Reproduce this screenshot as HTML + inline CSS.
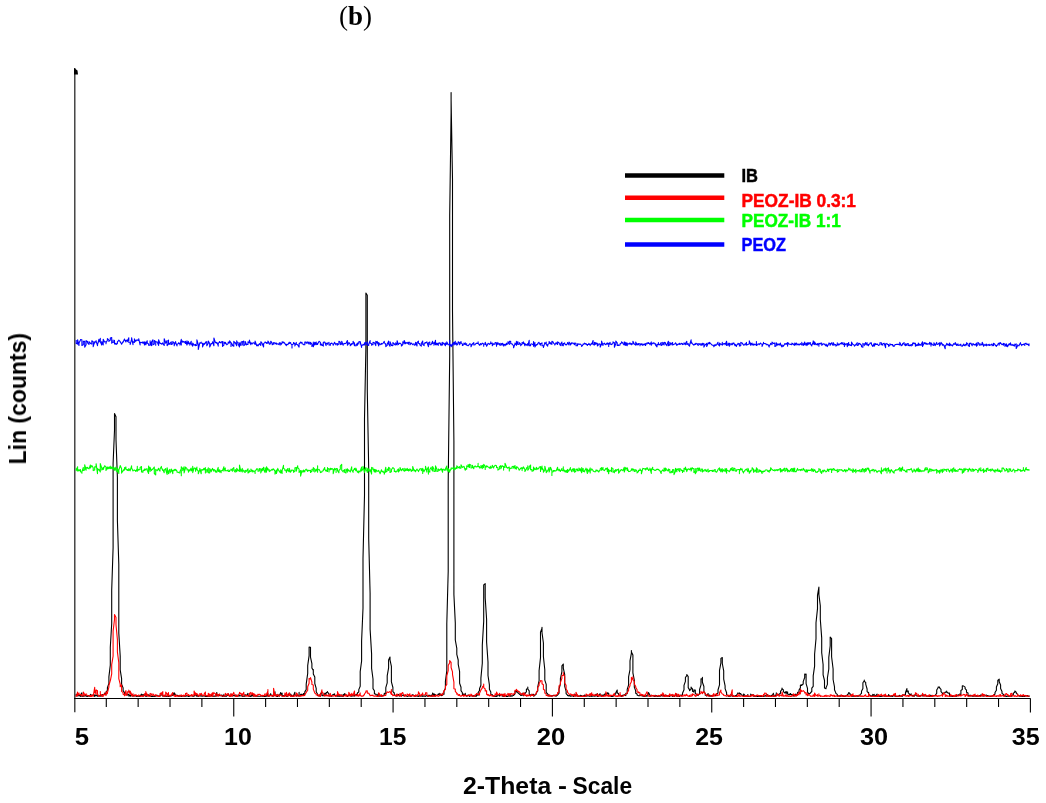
<!DOCTYPE html>
<html><head><meta charset="utf-8"><style>
html,body{margin:0;padding:0;background:#fff;}
body{width:1046px;height:803px;overflow:hidden;position:relative;}
svg{position:absolute;left:0;top:0;will-change:transform;}
</style></head><body>
<svg width="1046" height="803" viewBox="0 0 1046 803">
<rect width="1046" height="803" fill="#fff"/>
<text opacity="0.999" x="339" y="24.7" font-family="Liberation Serif, serif" font-size="27" fill="#000">(<tspan font-weight="bold">b</tspan>)</text>
<line x1="74.8" y1="68" x2="74.8" y2="712.3" stroke="#2a2a2a" stroke-width="1.3"/>
<g stroke="#000" stroke-width="1.1" fill="none">
<line x1="74" y1="698.45" x2="1030.6" y2="698.45"/>
<line x1="106.29" y1="698.5" x2="106.29" y2="707"/><line x1="138.15" y1="698.5" x2="138.15" y2="707"/><line x1="170.02" y1="698.5" x2="170.02" y2="707"/><line x1="201.88" y1="698.5" x2="201.88" y2="707"/><line x1="233.75" y1="698.5" x2="233.75" y2="716.5"/><line x1="265.62" y1="698.5" x2="265.62" y2="707"/><line x1="297.48" y1="698.5" x2="297.48" y2="707"/><line x1="329.35" y1="698.5" x2="329.35" y2="707"/><line x1="361.21" y1="698.5" x2="361.21" y2="707"/><line x1="393.08" y1="698.5" x2="393.08" y2="712.5"/><line x1="424.95" y1="698.5" x2="424.95" y2="707"/><line x1="456.81" y1="698.5" x2="456.81" y2="707"/><line x1="488.68" y1="698.5" x2="488.68" y2="707"/><line x1="520.54" y1="698.5" x2="520.54" y2="707"/><line x1="552.41" y1="698.5" x2="552.41" y2="716.5"/><line x1="584.28" y1="698.5" x2="584.28" y2="707"/><line x1="616.14" y1="698.5" x2="616.14" y2="707"/><line x1="648.01" y1="698.5" x2="648.01" y2="707"/><line x1="679.87" y1="698.5" x2="679.87" y2="707"/><line x1="711.74" y1="698.5" x2="711.74" y2="712.5"/><line x1="743.61" y1="698.5" x2="743.61" y2="707"/><line x1="775.47" y1="698.5" x2="775.47" y2="707"/><line x1="807.34" y1="698.5" x2="807.34" y2="707"/><line x1="839.20" y1="698.5" x2="839.20" y2="707"/><line x1="871.07" y1="698.5" x2="871.07" y2="716.5"/><line x1="902.94" y1="698.5" x2="902.94" y2="707"/><line x1="934.80" y1="698.5" x2="934.80" y2="707"/><line x1="966.67" y1="698.5" x2="966.67" y2="707"/><line x1="998.53" y1="698.5" x2="998.53" y2="707"/><line x1="1030.40" y1="698.5" x2="1030.40" y2="712.5"/>
</g>
<path d="M74,68 L77.5,70.5 L78,74.5 L74,74.5 Z" fill="#000"/>
<g fill="none" stroke-width="1.1" stroke-linejoin="round">
<polyline stroke="#000" points="76.2,696.4 76.2,696.4 76.2,694.3 76.2,694.4 77.6,695.6 77.6,695.6 77.6,695.9 77.6,695.9 79.0,695.4 79.0,695.4 79.0,695.2 79.0,695.2 80.5,696.4 80.5,696.4 80.5,694.8 80.5,694.8 81.9,692.9 81.9,692.9 81.9,696.4 81.9,696.4 83.3,695.6 83.3,695.6 83.3,696.3 83.3,696.3 84.7,695.9 84.7,695.9 84.7,695.8 84.7,695.8 86.1,695.3 86.1,695.3 86.1,696.3 86.1,696.3 87.6,696.4 87.6,696.4 87.6,696.0 87.6,696.0 89.0,695.6 89.0,695.6 89.0,696.3 89.0,696.3 90.4,696.0 90.4,696.0 90.4,694.4 90.4,694.4 91.8,695.5 91.8,695.5 91.8,695.9 91.8,695.9 93.2,695.0 93.2,695.0 93.2,694.6 93.2,694.6 94.7,696.4 94.7,696.4 94.7,694.9 94.7,696.0 96.1,695.0 96.1,695.0 96.1,695.8 96.1,695.8 97.5,695.6 97.5,695.6 97.5,696.2 97.5,696.2 98.9,696.0 98.9,696.0 98.9,695.4 98.9,695.4 100.3,696.2 100.3,696.2 100.3,695.2 100.3,695.9 101.8,696.0 101.8,696.0 101.8,694.8 101.8,694.8 103.2,694.5 103.2,694.5 103.2,695.0 103.2,695.0 104.6,694.4 104.6,694.4 104.6,693.0 104.6,693.0 106.0,694.6 106.0,694.6 106.0,692.4 106.0,692.4 107.4,690.4 107.4,690.4 107.4,687.7 107.4,687.7 108.9,683.4 108.9,683.4 108.9,676.9 108.9,676.9 110.3,665.1 110.3,665.1 110.3,647.4 110.3,647.4 111.7,623.7 111.7,623.7 111.7,590.3 111.7,590.3 113.1,547.7 113.1,547.7 113.1,463.4 113.1,463.4 114.5,430.2 114.5,430.2 114.5,413.5 114.5,413.5 116.0,416.8 116.0,416.8 116.0,439.8 116.0,439.8 117.4,477.6 117.4,477.6 117.4,520.4 117.4,520.4 118.8,564.2 118.8,564.2 118.8,633.0 118.8,633.0 120.2,656.0 120.2,656.0 120.2,669.9 120.2,669.9 121.6,678.6 121.6,678.6 121.6,684.2 121.6,684.2 123.1,687.9 123.1,687.9 123.1,690.6 123.1,690.6 124.5,692.6 124.5,692.6 124.5,694.1 124.5,693.3 125.9,693.4 125.9,693.4 125.9,693.8 125.9,693.8 127.3,695.2 127.3,695.2 127.3,694.4 127.3,694.4 128.8,694.2 128.8,694.2 128.8,696.0 128.8,696.0 130.2,694.9 130.2,694.9 130.2,696.2 130.2,696.2 131.6,695.3 131.6,695.3 131.6,695.6 131.6,695.6 133.0,696.2 133.0,696.2 133.0,696.0 133.0,696.0 134.4,695.0 134.4,695.0 134.4,696.0 134.4,696.0 135.8,695.5 135.8,695.5 135.8,696.1 135.8,696.1 137.3,696.5 137.3,696.5 137.3,695.9 137.3,695.9 138.7,696.2 138.7,696.2 138.7,696.2 138.7,696.2 140.1,696.4 140.1,696.4 140.1,696.1 140.1,696.1 141.5,694.2 141.5,694.2 141.5,695.6 141.5,695.6 143.0,694.5 143.0,694.5 143.0,696.2 143.0,694.7 144.4,694.9 144.4,694.9 144.4,695.8 144.4,695.8 145.8,693.5 145.8,693.5 145.8,696.4 145.8,696.4 147.2,696.0 147.2,696.0 147.2,695.2 147.2,695.2 148.6,695.6 148.6,695.6 148.6,694.8 148.6,694.8 150.1,695.8 150.1,695.8 150.1,696.1 150.1,696.1 151.5,696.1 151.5,696.1 151.5,696.4 151.5,696.4 152.9,696.3 152.9,696.3 152.9,696.4 152.9,696.4 154.3,695.9 154.3,695.9 154.3,696.5 154.3,696.5 155.7,696.0 155.7,696.0 155.7,696.3 155.7,696.3 157.2,695.3 157.2,695.3 157.2,695.6 157.2,695.6 158.6,696.0 158.6,696.0 158.6,696.0 158.6,696.0 160.0,695.9 160.0,695.9 160.0,695.7 160.0,695.7 161.4,694.3 161.4,694.3 161.4,695.0 161.4,695.0 162.8,694.8 162.8,694.8 162.8,696.3 162.8,695.7 164.2,696.0 164.2,696.0 164.2,696.3 164.2,696.3 165.7,695.9 165.7,695.9 165.7,696.2 165.7,696.2 167.1,696.4 167.1,696.4 167.1,696.3 167.1,696.3 168.5,696.2 168.5,694.7 168.5,696.4 168.5,696.4 169.9,696.3 169.9,696.3 169.9,695.4 169.9,695.4 171.3,695.9 171.3,695.9 171.3,695.8 171.3,695.8 172.8,695.5 172.8,695.5 172.8,693.0 172.8,693.0 174.2,695.1 174.2,695.1 174.2,692.7 174.2,692.7 175.6,694.8 175.6,694.8 175.6,695.6 175.6,695.6 177.0,695.4 177.0,695.4 177.0,695.2 177.0,695.2 178.5,695.5 178.5,695.5 178.5,696.2 178.5,696.2 179.9,696.3 179.9,696.3 179.9,695.3 179.9,695.3 181.3,696.4 181.3,695.9 181.3,696.4 181.3,696.4 182.7,696.0 182.7,696.0 182.7,695.9 182.7,695.9 184.1,695.7 184.1,695.7 184.1,696.2 184.1,696.2 185.5,696.1 185.5,696.1 185.5,696.3 185.5,696.3 187.0,695.5 187.0,695.5 187.0,696.1 187.0,695.6 188.4,696.0 188.4,696.0 188.4,696.5 188.4,696.5 189.8,696.1 189.8,696.1 189.8,695.6 189.8,695.6 191.2,695.8 191.2,695.8 191.2,695.8 191.2,695.8 192.7,695.9 192.7,695.9 192.7,696.3 192.7,696.0 194.1,696.2 194.1,696.2 194.1,695.9 194.1,695.9 195.5,695.2 195.5,695.2 195.5,695.4 195.5,695.4 196.9,694.8 196.9,694.8 196.9,696.4 196.9,696.4 198.3,695.3 198.3,695.3 198.3,696.5 198.3,696.5 199.8,695.4 199.8,695.4 199.8,695.5 199.8,695.5 201.2,696.2 201.2,696.2 201.2,696.1 201.2,696.1 202.6,695.5 202.6,695.5 202.6,696.3 202.6,696.3 204.0,695.5 204.0,695.5 204.0,696.0 204.0,696.0 205.4,696.2 205.4,695.6 205.4,696.4 205.4,696.4 206.8,696.2 206.8,696.2 206.8,696.4 206.8,696.4 208.3,696.2 208.3,696.2 208.3,696.0 208.3,696.0 209.7,696.1 209.7,696.1 209.7,696.3 209.7,696.3 211.1,695.7 211.1,696.1 211.1,694.8 211.1,694.8 212.5,695.7 212.5,695.7 212.5,696.2 212.5,696.2 213.9,696.0 213.9,696.0 213.9,696.1 213.9,696.1 215.4,696.3 215.4,696.3 215.4,696.3 215.4,696.3 216.8,692.5 216.8,692.5 216.8,696.2 216.8,696.2 218.2,694.7 218.2,694.7 218.2,695.5 218.2,694.9 219.6,695.3 219.6,695.3 219.6,695.8 219.6,695.8 221.1,695.8 221.1,695.8 221.1,694.8 221.1,694.8 222.5,696.5 222.5,696.5 222.5,695.2 222.5,695.2 223.9,696.2 223.9,694.4 223.9,696.3 223.9,696.3 225.3,696.0 225.3,696.0 225.3,696.1 225.3,696.1 226.7,696.2 226.7,696.2 226.7,695.8 226.7,695.8 228.2,695.1 228.2,695.1 228.2,693.8 228.2,693.8 229.6,696.1 229.6,696.1 229.6,696.2 229.6,696.2 231.0,696.0 231.0,696.0 231.0,694.0 231.0,694.0 232.4,696.0 232.4,696.0 232.4,695.8 232.4,695.8 233.8,695.6 233.8,695.6 233.8,695.8 233.8,695.8 235.2,695.4 235.2,695.4 235.2,696.0 235.2,696.0 236.7,695.7 236.7,695.0 236.7,696.1 236.7,696.1 238.1,696.2 238.1,696.2 238.1,696.0 238.1,696.0 239.5,695.0 239.5,695.0 239.5,696.0 239.5,696.0 240.9,695.8 240.9,695.8 240.9,695.5 240.9,695.5 242.3,695.9 242.3,695.9 242.3,696.5 242.3,696.5 243.8,695.9 243.8,695.9 243.8,695.9 243.8,695.9 245.2,696.1 245.2,696.1 245.2,694.8 245.2,694.8 246.6,695.6 246.6,695.6 246.6,695.8 246.6,695.8 248.0,693.4 248.0,693.4 248.0,695.5 248.0,695.5 249.4,696.2 249.4,696.0 249.4,696.3 249.4,696.3 250.9,696.4 250.9,696.4 250.9,695.6 250.9,695.6 252.3,696.0 252.3,696.0 252.3,693.7 252.3,693.7 253.7,696.2 253.7,696.2 253.7,696.0 253.7,696.0 255.1,695.8 255.1,695.6 255.1,696.1 255.1,696.1 256.6,695.7 256.6,695.7 256.6,696.3 256.6,696.3 258.0,696.3 258.0,696.3 258.0,696.2 258.0,696.2 259.4,696.2 259.4,696.2 259.4,696.3 259.4,696.3 260.8,696.1 260.8,696.3 260.8,695.8 260.8,695.8 262.2,695.9 262.2,695.9 262.2,696.3 262.2,696.3 263.6,695.8 263.6,695.8 263.6,696.4 263.6,696.4 265.1,696.3 265.1,696.3 265.1,696.4 265.1,696.4 266.5,695.7 266.5,695.7 266.5,696.2 266.5,696.2 267.9,693.6 267.9,693.6 267.9,696.1 267.9,696.1 269.3,696.0 269.3,696.0 269.3,696.2 269.3,696.2 270.7,693.7 270.7,693.7 270.7,694.7 270.7,694.7 272.2,695.8 272.2,695.8 272.2,696.4 272.2,696.4 273.6,694.3 273.6,694.3 273.6,696.2 273.6,696.2 275.0,691.8 275.0,691.8 275.0,695.2 275.0,695.2 276.4,694.9 276.4,694.9 276.4,696.4 276.4,696.4 277.8,696.4 277.8,696.4 277.8,694.7 277.8,694.7 279.3,696.2 279.3,696.2 279.3,695.1 279.3,696.1 280.7,692.5 280.7,692.5 280.7,694.7 280.7,694.7 282.1,693.1 282.1,693.1 282.1,696.3 282.1,696.3 283.5,695.6 283.5,695.6 283.5,695.8 283.5,695.8 284.9,696.3 284.9,696.3 284.9,694.7 284.9,694.7 286.4,695.7 286.4,695.7 286.4,696.3 286.4,696.3 287.8,696.4 287.8,696.4 287.8,695.8 287.8,695.8 289.2,693.3 289.2,693.3 289.2,695.2 289.2,695.2 290.6,695.7 290.6,695.7 290.6,694.0 290.6,694.0 292.0,696.2 292.0,696.4 292.0,695.7 292.0,695.7 293.5,695.9 293.5,695.9 293.5,695.7 293.5,695.7 294.9,692.3 294.9,692.3 294.9,694.9 294.9,694.9 296.3,695.6 296.3,695.6 296.3,696.2 296.3,696.2 297.7,694.9 297.7,694.9 297.7,695.8 297.7,695.8 299.1,695.9 299.1,692.2 299.1,696.1 299.1,696.1 300.6,695.6 300.6,695.6 300.6,694.3 300.6,694.3 302.0,694.4 302.0,694.4 302.0,694.9 302.0,694.9 303.4,694.9 303.4,694.9 303.4,693.5 303.4,693.5 304.8,694.7 304.8,694.7 304.8,691.9 304.8,691.9 306.2,689.6 306.2,689.6 306.2,684.2 306.2,684.2 307.7,673.4 307.7,673.4 307.7,665.7 307.7,665.7 309.1,655.7 309.1,655.7 309.1,647.1 309.1,647.1 310.5,647.3 310.5,647.3 310.5,657.2 310.5,657.2 311.9,663.7 311.9,663.7 311.9,668.0 311.9,668.0 313.3,670.4 313.3,669.5 313.3,674.1 313.3,674.1 314.8,677.0 314.8,677.0 314.8,683.5 314.8,683.5 316.2,688.3 316.2,688.3 316.2,691.8 316.2,691.8 317.6,694.2 317.6,694.2 317.6,695.6 317.6,695.6 319.0,695.3 319.0,695.3 319.0,695.7 319.0,695.7 320.4,696.3 320.4,696.3 320.4,693.9 320.4,693.9 321.9,692.1 321.9,692.1 321.9,695.6 321.9,695.6 323.3,695.4 323.3,695.4 323.3,695.7 323.3,695.7 324.7,695.7 324.7,695.7 324.7,693.3 324.7,693.3 326.1,694.2 326.1,694.2 326.1,692.8 326.1,692.8 327.5,692.1 327.5,691.5 327.5,692.2 327.5,692.2 329.0,693.9 329.0,693.9 329.0,696.0 329.0,696.0 330.4,695.9 330.4,695.9 330.4,694.9 330.4,694.9 331.8,696.4 331.8,696.4 331.8,695.6 331.8,695.6 333.2,694.4 333.2,694.4 333.2,694.9 333.2,694.9 334.6,693.9 334.6,693.9 334.6,695.1 334.6,695.1 336.1,696.2 336.1,696.2 336.1,695.6 336.1,696.0 337.5,695.0 337.5,695.0 337.5,696.3 337.5,696.3 338.9,694.5 338.9,694.5 338.9,696.5 338.9,696.5 340.3,695.0 340.3,695.0 340.3,696.3 340.3,696.3 341.7,695.3 341.7,695.0 341.7,696.3 341.7,696.3 343.2,696.4 343.2,696.4 343.2,694.4 343.2,694.4 344.6,695.5 344.6,695.5 344.6,693.6 344.6,693.6 346.0,694.7 346.0,694.7 346.0,694.9 346.0,694.9 347.4,696.2 347.4,696.2 347.4,696.4 347.4,696.4 348.8,695.1 348.8,695.1 348.8,694.9 348.8,694.9 350.3,695.9 350.3,695.9 350.3,695.6 350.3,695.6 351.7,696.2 351.7,696.2 351.7,694.8 351.7,694.8 353.1,696.1 353.1,696.1 353.1,695.4 353.1,695.4 354.5,694.4 354.5,694.4 354.5,696.1 354.5,696.1 355.9,695.0 355.9,695.0 355.9,694.3 355.9,694.3 357.4,694.6 357.4,694.6 357.4,693.0 357.4,693.0 358.8,691.8 358.8,691.8 358.8,689.6 358.8,689.6 360.2,686.3 360.2,686.3 360.2,671.6 360.2,671.6 361.6,661.0 361.6,661.0 361.6,640.9 361.6,640.9 363.0,608.3 363.0,608.3 363.0,558.6 363.0,558.6 364.5,495.2 364.5,495.2 364.5,418.9 364.5,418.9 365.9,347.4 365.9,347.4 365.9,293.0 365.9,293.0 367.3,295.3 367.3,295.3 367.3,391.1 367.3,391.1 368.7,468.5 368.7,468.5 368.7,538.5 368.7,538.5 370.1,593.0 370.1,593.0 370.1,629.1 370.1,629.1 371.6,654.1 371.6,654.1 371.6,668.4 371.6,668.4 373.0,679.0 373.0,679.0 373.0,688.6 373.0,688.6 374.4,690.7 374.4,690.7 374.4,693.7 374.4,693.7 375.8,694.1 375.8,694.1 375.8,694.4 375.8,694.4 377.2,694.9 377.2,694.9 377.2,695.7 377.2,695.7 378.7,693.4 378.7,693.4 378.7,696.3 378.7,695.8 380.1,696.3 380.1,696.3 380.1,695.9 380.1,695.9 381.5,696.0 381.5,696.0 381.5,696.0 381.5,696.0 382.9,695.9 382.9,695.9 382.9,695.2 382.9,695.2 384.3,695.2 384.3,695.2 384.3,693.3 384.3,693.3 385.8,693.8 385.8,693.8 385.8,687.7 385.8,687.7 387.2,682.8 387.2,682.8 387.2,675.8 387.2,675.8 388.6,667.8 388.6,667.8 388.6,660.1 388.6,660.1 390.0,657.0 390.0,657.0 390.0,659.9 390.0,659.9 391.4,666.4 391.4,666.4 391.4,681.9 391.4,681.9 392.9,687.5 392.9,687.5 392.9,691.7 392.9,691.7 394.3,693.0 394.3,693.0 394.3,694.8 394.3,694.8 395.7,695.5 395.7,695.5 395.7,695.7 395.7,695.7 397.1,696.1 397.1,696.1 397.1,695.0 397.1,695.0 398.5,694.4 398.5,694.4 398.5,695.2 398.5,695.2 400.0,696.2 400.0,696.2 400.0,694.7 400.0,694.7 401.4,695.8 401.4,695.8 401.4,695.1 401.4,695.1 402.8,695.3 402.8,695.3 402.8,695.6 402.8,695.6 404.2,695.1 404.2,695.1 404.2,696.1 404.2,696.1 405.6,695.6 405.6,695.6 405.6,695.4 405.6,695.4 407.1,696.3 407.1,696.3 407.1,696.5 407.1,696.5 408.5,696.0 408.5,696.0 408.5,695.6 408.5,695.6 409.9,695.8 409.9,695.8 409.9,696.3 409.9,696.3 411.3,696.3 411.3,696.3 411.3,696.0 411.3,696.0 412.7,695.2 412.7,695.2 412.7,694.6 412.7,694.6 414.2,695.8 414.2,695.8 414.2,696.4 414.2,696.4 415.6,695.5 415.6,695.5 415.6,696.2 415.6,696.0 417.0,695.9 417.0,695.9 417.0,695.9 417.0,695.9 418.4,696.5 418.4,696.5 418.4,696.3 418.4,696.3 419.8,695.3 419.8,695.3 419.8,696.0 419.8,696.0 421.3,696.1 421.3,696.1 421.3,695.1 421.3,695.1 422.7,696.1 422.7,695.8 422.7,696.5 422.7,696.5 424.1,695.8 424.1,695.8 424.1,696.0 424.1,696.0 425.5,696.4 425.5,696.4 425.5,696.1 425.5,696.1 426.9,695.5 426.9,695.5 426.9,696.0 426.9,696.0 428.4,696.4 428.4,696.4 428.4,695.4 428.4,695.4 429.8,695.3 429.8,695.3 429.8,695.5 429.8,695.5 431.2,696.3 431.2,696.3 431.2,695.0 431.2,695.0 432.6,696.1 432.6,696.1 432.6,693.1 432.6,693.1 434.0,696.2 434.0,696.2 434.0,693.7 434.0,693.7 435.5,695.9 435.5,694.6 435.5,696.1 435.5,696.1 436.9,695.2 436.9,695.2 436.9,695.4 436.9,695.4 438.3,694.5 438.3,694.5 438.3,693.9 438.3,693.9 439.7,695.4 439.7,695.4 439.7,693.2 439.7,693.2 441.1,695.5 441.1,694.9 441.1,695.6 441.1,695.6 442.6,695.2 442.6,695.2 442.6,693.8 442.6,693.8 444.0,694.3 444.0,694.3 444.0,691.0 444.0,691.0 445.4,688.3 445.4,688.3 445.4,681.4 445.4,681.4 446.8,670.9 446.8,670.9 446.8,623.8 446.8,623.8 448.2,571.4 448.2,571.4 448.2,482.1 448.2,482.1 449.7,356.0 449.7,356.0 449.7,215.4 449.7,215.4 451.1,112.7 451.1,112.7 451.1,92.5 451.1,99.7 452.5,179.1 452.5,179.1 452.5,310.5 452.5,310.5 453.9,441.1 453.9,441.1 453.9,594.5 453.9,594.5 455.3,622.9 455.3,622.9 455.3,640.0 455.3,640.0 456.8,648.3 456.8,648.3 456.8,654.3 456.8,654.3 458.2,660.0 458.2,660.0 458.2,664.2 458.2,664.2 459.6,671.5 459.6,671.5 459.6,683.3 459.6,683.3 461.0,687.2 461.0,687.2 461.0,690.6 461.0,690.6 462.4,692.7 462.4,692.7 462.4,694.6 462.4,694.6 463.9,694.0 463.9,694.0 463.9,695.5 463.9,695.5 465.3,693.9 465.3,693.4 465.3,694.7 465.3,694.7 466.7,696.2 466.7,696.2 466.7,696.2 466.7,696.2 468.1,695.1 468.1,695.1 468.1,694.9 468.1,694.9 469.5,696.4 469.5,696.4 469.5,696.2 469.5,696.2 471.0,695.6 471.0,695.6 471.0,695.8 471.0,695.8 472.4,695.9 472.4,695.9 472.4,696.2 472.4,695.9 473.8,695.7 473.8,695.7 473.8,696.3 473.8,696.3 475.2,695.8 475.2,695.8 475.2,696.3 475.2,696.3 476.6,696.1 476.6,696.1 476.6,694.5 476.6,694.5 478.1,695.3 478.1,695.3 478.1,692.6 478.1,692.6 479.5,690.5 479.5,690.5 479.5,688.7 479.5,688.7 480.9,685.2 480.9,685.2 480.9,678.1 480.9,678.1 482.3,663.3 482.3,663.3 482.3,645.2 482.3,645.2 483.7,621.4 483.7,621.4 483.7,584.9 483.7,584.9 485.2,583.7 485.2,583.7 485.2,597.7 485.2,597.7 486.6,619.2 486.6,619.2 486.6,642.0 486.6,642.0 488.0,662.0 488.0,662.0 488.0,675.5 488.0,675.5 489.4,684.9 489.4,684.9 489.4,689.2 489.4,689.2 490.8,692.1 490.8,692.1 490.8,694.3 490.8,694.3 492.3,694.5 492.3,694.5 492.3,695.3 492.3,695.3 493.7,696.2 493.7,696.2 493.7,696.2 493.7,696.2 495.1,696.1 495.1,696.1 495.1,696.4 495.1,696.4 496.5,695.7 496.5,695.7 496.5,696.4 496.5,696.3 497.9,695.8 497.9,695.8 497.9,694.9 497.9,694.9 499.4,694.4 499.4,694.4 499.4,696.1 499.4,696.1 500.8,695.1 500.8,695.1 500.8,694.7 500.8,694.7 502.2,694.3 502.2,694.3 502.2,696.3 502.2,696.3 503.6,695.5 503.6,695.5 503.6,696.5 503.6,695.8 505.0,696.2 505.0,696.2 505.0,695.1 505.0,695.1 506.5,696.2 506.5,696.2 506.5,696.4 506.5,696.4 507.9,696.2 507.9,696.2 507.9,696.4 507.9,696.4 509.3,695.3 509.3,695.2 509.3,696.0 509.3,696.0 510.7,696.3 510.7,696.3 510.7,695.4 510.7,695.4 512.1,696.2 512.1,696.2 512.1,696.1 512.1,696.1 513.6,695.1 513.6,695.1 513.6,695.4 513.6,695.4 515.0,693.8 515.0,693.8 515.0,691.2 515.0,691.2 516.4,691.3 516.4,691.3 516.4,691.9 516.4,691.9 517.8,691.7 517.8,691.7 517.8,692.8 517.8,692.8 519.2,693.7 519.2,693.7 519.2,694.0 519.2,694.0 520.7,695.0 520.7,695.0 520.7,695.5 520.7,695.5 522.1,694.0 522.1,695.5 522.1,693.2 522.1,693.2 523.5,693.5 523.5,693.5 523.5,695.8 523.5,695.8 524.9,692.7 524.9,692.7 524.9,693.8 524.9,693.8 526.4,691.7 526.4,691.7 526.4,689.0 526.4,689.0 527.8,688.8 527.8,687.0 527.8,689.0 527.8,689.0 529.2,690.9 529.2,690.9 529.2,694.2 529.2,694.2 530.6,695.0 530.6,695.0 530.6,695.8 530.6,695.8 532.0,694.4 532.0,694.4 532.0,695.3 532.0,695.3 533.5,694.3 533.5,694.3 533.5,696.1 533.5,695.9 534.9,695.6 534.9,695.6 534.9,695.0 534.9,695.0 536.3,694.0 536.3,694.0 536.3,693.0 536.3,693.0 537.7,690.9 537.7,690.9 537.7,687.2 537.7,687.2 539.1,680.5 539.1,680.5 539.1,670.6 539.1,670.6 540.5,657.6 540.5,657.6 540.5,632.1 540.5,632.1 542.0,628.1 542.0,627.3 542.0,632.5 542.0,632.5 543.4,643.0 543.4,643.0 543.4,656.5 543.4,656.5 544.8,669.8 544.8,669.8 544.8,680.1 544.8,680.1 546.2,684.4 546.2,684.4 546.2,692.5 546.2,692.5 547.7,694.0 547.7,694.0 547.7,694.2 547.7,694.2 549.1,695.6 549.1,695.6 549.1,696.0 549.1,696.0 550.5,696.0 550.5,696.0 550.5,695.8 550.5,695.8 551.9,696.3 551.9,696.3 551.9,695.9 551.9,696.0 553.3,695.4 553.3,695.4 553.3,695.2 553.3,695.2 554.8,695.6 554.8,695.6 554.8,695.8 554.8,695.8 556.2,696.3 556.2,696.3 556.2,695.5 556.2,695.5 557.6,695.3 557.6,695.3 557.6,694.8 557.6,694.8 559.0,693.3 559.0,693.3 559.0,689.2 559.0,689.2 560.4,684.1 560.4,684.1 560.4,678.6 560.4,678.6 561.9,671.6 561.9,671.6 561.9,665.8 561.9,665.8 563.3,664.0 563.3,664.0 563.3,668.2 563.3,668.2 564.7,674.4 564.7,674.4 564.7,686.4 564.7,686.4 566.1,691.2 566.1,691.2 566.1,693.6 566.1,693.6 567.5,695.1 567.5,695.1 567.5,695.4 567.5,695.4 569.0,696.0 569.0,696.0 569.0,695.6 569.0,695.6 570.4,695.8 570.4,695.8 570.4,696.3 570.4,696.3 571.8,695.9 571.8,695.9 571.8,695.7 571.8,695.8 573.2,695.8 573.2,695.8 573.2,696.4 573.2,696.4 574.6,695.7 574.6,695.7 574.6,694.1 574.6,694.1 576.0,696.2 576.0,696.2 576.0,694.8 576.0,694.8 577.5,695.0 577.5,695.0 577.5,696.4 577.5,696.4 578.9,696.3 578.9,696.3 578.9,696.1 578.9,696.1 580.3,696.2 580.3,696.2 580.3,695.3 580.3,695.3 581.7,695.7 581.7,695.7 581.7,696.4 581.7,696.4 583.2,696.0 583.2,696.2 583.2,695.5 583.2,695.5 584.6,696.3 584.6,696.3 584.6,695.0 584.6,695.0 586.0,696.1 586.0,696.1 586.0,696.3 586.0,696.3 587.4,695.6 587.4,695.6 587.4,696.0 587.4,696.0 588.8,696.0 588.8,696.0 588.8,695.9 588.8,695.9 590.2,696.4 590.2,696.4 590.2,695.8 590.2,695.8 591.7,695.5 591.7,695.5 591.7,696.4 591.7,696.4 593.1,695.7 593.1,695.7 593.1,696.0 593.1,696.0 594.5,696.1 594.5,696.1 594.5,696.1 594.5,696.1 595.9,694.3 595.9,694.3 595.9,696.2 595.9,695.3 597.4,693.6 597.4,693.6 597.4,696.4 597.4,696.4 598.8,696.1 598.8,696.1 598.8,694.9 598.8,694.9 600.2,693.8 600.2,693.8 600.2,696.0 600.2,696.0 601.6,695.9 601.6,696.4 601.6,695.0 601.6,695.0 603.0,695.2 603.0,695.2 603.0,696.1 603.0,696.1 604.5,694.1 604.5,694.1 604.5,695.6 604.5,695.6 605.9,693.2 605.9,693.2 605.9,693.4 605.9,693.4 607.3,694.0 607.3,694.0 607.3,692.9 607.3,692.9 608.7,693.2 608.7,693.2 608.7,695.6 608.7,695.6 610.1,695.7 610.1,695.7 610.1,696.0 610.1,696.0 611.5,696.3 611.5,696.3 611.5,696.4 611.5,696.4 613.0,696.4 613.0,696.4 613.0,695.7 613.0,695.7 614.4,695.6 614.4,695.6 614.4,695.0 614.4,695.0 615.8,693.7 615.8,693.7 615.8,692.7 615.8,692.7 617.2,690.0 617.2,690.0 617.2,692.8 617.2,692.8 618.6,693.8 618.6,693.8 618.6,694.8 618.6,694.8 620.1,695.6 620.1,695.6 620.1,696.0 620.1,696.0 621.5,695.6 621.5,695.6 621.5,696.4 621.5,696.4 622.9,695.2 622.9,695.2 622.9,696.0 622.9,696.0 624.3,694.6 624.3,694.6 624.3,694.7 624.3,694.7 625.8,695.6 625.8,695.6 625.8,693.4 625.8,693.4 627.2,693.7 627.2,693.7 627.2,689.3 627.2,689.3 628.6,684.9 628.6,684.9 628.6,676.8 628.6,676.8 630.0,669.6 630.0,669.6 630.0,660.9 630.0,660.9 631.4,653.2 631.4,653.2 631.4,650.5 631.4,651.9 632.9,655.1 632.9,655.1 632.9,672.8 632.9,672.8 634.3,680.2 634.3,680.2 634.3,687.1 634.3,687.1 635.7,690.9 635.7,690.9 635.7,693.3 635.7,693.3 637.1,694.1 637.1,694.1 637.1,695.1 637.1,695.1 638.5,695.7 638.5,695.7 638.5,695.7 638.5,695.7 640.0,695.8 640.0,695.8 640.0,694.9 640.0,694.9 641.4,695.5 641.4,695.5 641.4,695.8 641.4,695.8 642.8,695.6 642.8,695.6 642.8,696.3 642.8,696.3 644.2,696.2 644.2,696.2 644.2,696.5 644.2,696.5 645.6,696.2 645.6,696.2 645.6,695.0 645.6,695.4 647.0,696.4 647.0,696.4 647.0,695.5 647.0,695.5 648.5,693.9 648.5,693.9 648.5,692.6 648.5,692.6 649.9,695.1 649.9,695.1 649.9,696.2 649.9,696.2 651.3,695.9 651.3,695.9 651.3,695.8 651.3,695.8 652.7,695.6 652.7,695.6 652.7,695.7 652.7,695.7 654.1,695.6 654.1,695.6 654.1,696.4 654.1,696.4 655.6,696.3 655.6,696.3 655.6,695.3 655.6,695.3 657.0,696.0 657.0,696.0 657.0,696.5 657.0,696.5 658.4,696.3 658.4,696.3 658.4,696.0 658.4,696.2 659.8,696.2 659.8,696.2 659.8,696.1 659.8,696.1 661.2,695.9 661.2,695.9 661.2,695.0 661.2,695.0 662.7,696.0 662.7,696.0 662.7,695.1 662.7,695.1 664.1,695.6 664.1,695.6 664.1,696.4 664.1,696.1 665.5,695.1 665.5,695.1 665.5,695.1 665.5,695.1 666.9,695.5 666.9,695.5 666.9,696.3 666.9,696.3 668.4,695.7 668.4,695.7 668.4,696.0 668.4,696.0 669.8,696.4 669.8,696.4 669.8,695.0 669.8,695.9 671.2,695.5 671.2,695.5 671.2,695.0 671.2,695.0 672.6,696.3 672.6,696.3 672.6,696.0 672.6,696.0 674.0,695.1 674.0,695.1 674.0,696.5 674.0,696.5 675.5,695.4 675.5,695.4 675.5,695.3 675.5,695.3 676.9,694.2 676.9,694.2 676.9,696.4 676.9,696.4 678.3,696.3 678.3,696.3 678.3,696.0 678.3,696.0 679.7,696.4 679.7,696.4 679.7,696.0 679.7,696.0 681.1,694.9 681.1,694.9 681.1,695.8 681.1,695.8 682.5,695.2 682.5,695.2 682.5,693.3 682.5,693.3 684.0,689.8 684.0,689.8 684.0,685.4 684.0,685.4 685.4,681.4 685.4,681.4 685.4,677.5 685.4,677.5 686.8,675.6 686.8,675.6 686.8,674.5 686.8,674.5 688.2,676.6 688.2,676.6 688.2,687.6 688.2,687.6 689.6,689.9 689.6,689.9 689.6,690.7 689.6,690.7 691.1,689.2 691.1,689.2 691.1,687.0 691.1,687.5 692.5,688.9 692.5,688.9 692.5,691.2 692.5,691.2 693.9,692.0 693.9,692.0 693.9,689.9 693.9,690.0 695.3,690.1 695.3,690.1 695.3,693.5 695.3,693.5 696.8,694.6 696.8,694.6 696.8,695.0 696.8,695.0 698.2,695.6 698.2,695.6 698.2,694.7 698.2,694.7 699.6,693.6 699.6,693.6 699.6,689.5 699.6,689.5 701.0,684.8 701.0,684.8 701.0,678.8 701.0,678.8 702.4,679.0 702.4,677.4 702.4,682.3 702.4,682.3 703.9,686.5 703.9,686.5 703.9,691.6 703.9,691.6 705.3,693.6 705.3,693.6 705.3,695.3 705.3,695.3 706.7,695.1 706.7,695.1 706.7,696.1 706.7,696.1 708.1,693.5 708.1,693.5 708.1,695.3 708.1,695.0 709.5,696.2 709.5,696.2 709.5,695.0 709.5,695.0 711.0,696.4 711.0,696.4 711.0,695.4 711.0,695.4 712.4,696.0 712.4,696.0 712.4,695.5 712.4,695.5 713.8,695.1 713.8,695.1 713.8,694.5 713.8,694.6 715.2,695.8 715.2,695.8 715.2,695.5 715.2,695.5 716.6,695.1 716.6,695.1 716.6,694.6 716.6,694.6 718.0,692.9 718.0,692.9 718.0,690.0 718.0,690.0 719.5,684.9 719.5,684.9 719.5,670.4 719.5,670.4 720.9,662.9 720.9,662.9 720.9,658.4 720.9,658.4 722.3,657.5 722.3,657.5 722.3,663.5 722.3,663.5 723.7,670.8 723.7,670.8 723.7,679.1 723.7,679.1 725.1,685.9 725.1,685.9 725.1,688.6 725.1,688.6 726.6,692.8 726.6,692.8 726.6,694.6 726.6,694.6 728.0,695.8 728.0,695.8 728.0,696.1 728.0,696.1 729.4,696.1 729.4,696.1 729.4,696.4 729.4,696.4 730.8,695.9 730.8,695.9 730.8,694.5 730.8,694.5 732.2,694.8 732.2,694.8 732.2,696.3 732.2,696.3 733.7,696.1 733.7,696.1 733.7,696.3 733.7,696.3 735.1,696.1 735.1,696.1 735.1,695.8 735.1,695.8 736.5,695.2 736.5,695.2 736.5,695.6 736.5,695.6 737.9,692.9 737.9,692.9 737.9,693.6 737.9,693.3 739.4,693.0 739.4,692.9 739.4,693.5 739.4,693.5 740.8,693.5 740.8,693.5 740.8,694.6 740.8,694.6 742.2,695.0 742.2,695.0 742.2,695.3 742.2,695.3 743.6,695.6 743.6,695.6 743.6,694.0 743.6,694.0 745.0,695.3 745.0,695.3 745.0,696.3 745.0,696.2 746.5,696.3 746.5,696.3 746.5,696.3 746.5,696.3 747.9,694.7 747.9,694.7 747.9,696.5 747.9,696.5 749.3,696.3 749.3,696.3 749.3,696.3 749.3,696.3 750.7,696.0 750.7,696.0 750.7,694.1 750.7,695.3 752.1,694.8 752.1,694.8 752.1,695.4 752.1,695.4 753.5,694.8 753.5,694.8 753.5,696.1 753.5,696.1 755.0,696.2 755.0,696.2 755.0,696.1 755.0,696.1 756.4,696.4 756.4,696.2 756.4,696.4 756.4,696.4 757.8,696.2 757.8,696.2 757.8,696.4 757.8,696.4 759.2,696.3 759.2,696.3 759.2,696.4 759.2,696.4 760.6,696.1 760.6,696.1 760.6,696.4 760.6,696.4 762.1,696.3 762.1,696.3 762.1,696.5 762.1,696.5 763.5,696.2 763.5,696.2 763.5,696.4 763.5,696.4 764.9,696.0 764.9,696.0 764.9,695.5 764.9,695.5 766.3,696.3 766.3,696.3 766.3,694.9 766.3,694.9 767.8,694.8 767.8,694.8 767.8,696.2 767.8,696.2 769.2,696.1 769.2,696.2 769.2,695.6 769.2,695.6 770.6,696.2 770.6,696.2 770.6,696.2 770.6,696.2 772.0,695.1 772.0,695.1 772.0,696.4 772.0,696.4 773.4,693.2 773.4,693.2 773.4,696.3 773.4,696.3 774.9,696.2 774.9,696.2 774.9,695.1 774.9,695.1 776.3,695.6 776.3,695.6 776.3,692.9 776.3,694.4 777.7,694.7 777.7,694.7 777.7,695.2 777.7,695.2 779.1,694.3 779.1,694.3 779.1,694.2 779.1,694.2 780.5,693.2 780.5,693.2 780.5,691.4 780.5,691.4 782.0,689.2 782.0,689.2 782.0,688.0 782.0,688.7 783.4,690.0 783.4,690.0 783.4,691.8 783.4,691.8 784.8,692.7 784.8,692.7 784.8,693.0 784.8,693.0 786.2,691.5 786.2,691.5 786.2,693.4 786.2,693.4 787.6,692.0 787.6,692.0 787.6,694.1 787.6,694.1 789.0,694.5 789.0,694.5 789.0,695.0 789.0,695.0 790.5,693.5 790.5,693.5 790.5,694.4 790.5,694.4 791.9,694.9 791.9,694.9 791.9,694.4 791.9,694.4 793.3,695.7 793.3,695.7 793.3,696.1 793.3,696.1 794.7,695.1 794.7,695.9 794.7,694.8 794.7,694.8 796.1,694.0 796.1,694.0 796.1,695.3 796.1,695.3 797.6,694.4 797.6,694.4 797.6,692.2 797.6,692.2 799.0,692.3 799.0,692.3 799.0,690.1 799.0,690.1 800.4,687.9 800.4,687.9 800.4,685.0 800.4,685.0 801.8,685.5 801.8,685.5 801.8,684.5 801.8,685.1 803.2,684.0 803.2,684.0 803.2,681.6 803.2,681.6 804.7,677.5 804.7,677.5 804.7,674.0 804.7,674.0 806.1,674.5 806.1,674.0 806.1,683.7 806.1,683.7 807.5,688.4 807.5,688.4 807.5,692.1 807.5,692.1 808.9,693.8 808.9,693.8 808.9,693.9 808.9,693.9 810.4,693.3 810.4,693.3 810.4,692.9 810.4,692.9 811.8,691.5 811.8,691.5 811.8,688.2 811.8,688.2 813.2,686.3 813.2,686.3 813.2,675.9 813.2,675.9 814.6,666.1 814.6,666.1 814.6,654.3 814.6,654.3 816.0,638.8 816.0,638.8 816.0,622.7 816.0,622.7 817.5,608.6 817.5,608.6 817.5,595.4 817.5,595.4 818.9,587.1 818.9,587.1 818.9,594.6 818.9,594.6 820.3,605.7 820.3,605.7 820.3,619.3 820.3,619.3 821.7,637.9 821.7,637.9 821.7,652.7 821.7,652.7 823.1,664.5 823.1,664.5 823.1,674.8 823.1,674.8 824.5,680.5 824.5,680.5 824.5,688.0 824.5,688.0 826.0,688.7 826.0,688.7 826.0,687.9 826.0,687.9 827.4,684.4 827.4,684.4 827.4,678.0 827.4,678.0 828.8,669.0 828.8,669.0 828.8,657.4 828.8,657.4 830.2,645.7 830.2,645.7 830.2,637.0 830.2,637.0 831.6,638.7 831.6,638.7 831.6,656.8 831.6,656.8 833.1,669.0 833.1,669.0 833.1,679.5 833.1,679.5 834.5,686.9 834.5,686.9 834.5,689.8 834.5,689.8 835.9,693.1 835.9,693.1 835.9,693.4 835.9,693.4 837.3,694.4 837.3,694.4 837.3,696.1 837.3,696.1 838.8,696.0 838.8,696.0 838.8,695.7 838.8,695.7 840.2,696.4 840.2,696.4 840.2,695.2 840.2,695.2 841.6,695.6 841.6,695.6 841.6,695.9 841.6,695.9 843.0,695.6 843.0,695.6 843.0,696.3 843.0,696.3 844.4,696.4 844.4,696.5 844.4,696.3 844.4,696.3 845.9,696.1 845.9,696.1 845.9,695.9 845.9,695.9 847.3,695.5 847.3,695.5 847.3,694.4 847.3,694.4 848.7,693.7 848.7,693.7 848.7,692.5 848.7,692.5 850.1,693.6 850.1,693.6 850.1,694.7 850.1,694.7 851.5,695.4 851.5,695.4 851.5,696.1 851.5,696.1 853.0,696.1 853.0,696.1 853.0,696.2 853.0,696.2 854.4,696.3 854.4,696.3 854.4,696.1 854.4,696.1 855.8,696.4 855.8,696.4 855.8,696.3 855.8,696.3 857.2,695.7 857.2,695.7 857.2,696.1 857.2,696.1 858.6,696.1 858.6,696.1 858.6,696.0 858.6,696.0 860.0,695.5 860.0,695.5 860.0,694.7 860.0,694.7 861.5,693.3 861.5,693.3 861.5,691.2 861.5,691.2 862.9,688.5 862.9,688.5 862.9,682.8 862.9,682.8 864.3,680.7 864.3,680.0 864.3,681.4 864.3,681.4 865.7,682.5 865.7,682.5 865.7,684.2 865.7,684.2 867.1,689.0 867.1,689.0 867.1,691.5 867.1,691.5 868.6,693.2 868.6,692.2 868.6,694.2 868.6,694.2 870.0,695.8 870.0,695.8 870.0,695.3 870.0,695.3 871.4,696.2 871.4,696.2 871.4,696.3 871.4,696.3 872.8,695.0 872.8,695.0 872.8,694.3 872.8,694.3 874.2,696.4 874.2,696.4 874.2,694.2 874.2,695.8 875.7,696.3 875.7,696.3 875.7,695.6 875.7,695.6 877.1,694.2 877.1,694.2 877.1,696.4 877.1,696.4 878.5,695.7 878.5,695.7 878.5,696.2 878.5,696.2 879.9,695.7 879.9,695.7 879.9,696.4 879.9,696.4 881.4,696.5 881.4,696.5 881.4,695.6 881.4,695.6 882.8,696.2 882.8,696.2 882.8,696.1 882.8,696.1 884.2,695.0 884.2,695.0 884.2,695.9 884.2,695.9 885.6,696.5 885.6,696.5 885.6,696.2 885.6,696.2 887.0,696.2 887.0,696.2 887.0,696.4 887.0,696.4 888.5,695.7 888.5,695.7 888.5,694.5 888.5,694.5 889.9,696.4 889.9,696.4 889.9,696.4 889.9,696.4 891.3,695.7 891.3,695.7 891.3,696.1 891.3,696.1 892.7,696.5 892.7,696.5 892.7,696.0 892.7,696.0 894.1,695.2 894.1,695.2 894.1,695.9 894.1,695.9 895.5,696.1 895.5,696.1 895.5,696.4 895.5,696.4 897.0,696.3 897.0,696.3 897.0,696.4 897.0,696.4 898.4,696.4 898.4,696.4 898.4,696.2 898.4,696.2 899.8,695.3 899.8,695.3 899.8,696.1 899.8,695.7 901.2,696.2 901.2,696.2 901.2,696.2 901.2,696.2 902.6,696.2 902.6,696.2 902.6,694.7 902.6,694.7 904.1,695.0 904.1,695.0 904.1,695.2 904.1,695.2 905.5,694.4 905.5,694.4 905.5,692.4 905.5,692.4 906.9,688.6 906.9,688.6 906.9,692.0 906.9,690.7 908.3,691.1 908.3,691.1 908.3,692.8 908.3,692.8 909.8,694.4 909.8,694.4 909.8,695.0 909.8,695.0 911.2,693.8 911.2,693.8 911.2,695.6 911.2,695.6 912.6,695.8 912.6,695.3 912.6,696.0 912.6,696.0 914.0,695.2 914.0,695.2 914.0,696.5 914.0,696.5 915.4,694.9 915.4,694.9 915.4,694.4 915.4,694.4 916.9,695.7 916.9,695.7 916.9,696.1 916.9,696.1 918.3,695.6 918.3,695.6 918.3,696.3 918.3,695.9 919.7,695.9 919.7,695.9 919.7,696.5 919.7,696.5 921.1,695.3 921.1,695.3 921.1,695.1 921.1,695.1 922.5,695.9 922.5,695.9 922.5,695.0 922.5,695.0 924.0,696.1 924.0,696.1 924.0,694.7 924.0,694.7 925.4,695.4 925.4,695.4 925.4,695.7 925.4,695.7 926.8,696.1 926.8,696.1 926.8,696.1 926.8,696.1 928.2,696.0 928.2,696.0 928.2,696.3 928.2,696.3 929.6,696.4 929.6,696.4 929.6,695.6 929.6,695.6 931.0,695.2 931.0,695.2 931.0,696.4 931.0,696.4 932.5,695.7 932.5,695.7 932.5,695.9 932.5,695.9 933.9,695.9 933.9,695.9 933.9,695.7 933.9,695.7 935.3,695.6 935.3,695.6 935.3,695.0 935.3,695.0 936.7,693.3 936.7,693.3 936.7,690.0 936.7,690.0 938.1,687.8 938.1,687.8 938.1,687.1 938.1,687.1 939.6,687.0 939.6,687.0 939.6,687.9 939.6,687.9 941.0,689.3 941.0,689.3 941.0,691.7 941.0,691.7 942.4,693.2 942.4,693.2 942.4,694.1 942.4,694.1 943.8,693.5 943.8,693.5 943.8,693.2 943.8,693.2 945.2,692.5 945.2,692.5 945.2,692.1 945.2,692.1 946.7,692.0 946.7,692.0 946.7,691.1 946.7,691.8 948.1,693.2 948.1,693.2 948.1,693.0 948.1,693.0 949.5,693.1 949.5,693.1 949.5,695.8 949.5,695.8 950.9,696.2 950.9,696.2 950.9,696.2 950.9,696.2 952.4,696.0 952.4,696.0 952.4,696.4 952.4,696.4 953.8,696.1 953.8,696.1 953.8,696.1 953.8,696.1 955.2,696.3 955.2,696.3 955.2,695.9 955.2,696.1 956.6,696.1 956.6,696.1 956.6,695.0 956.6,695.0 958.0,695.3 958.0,695.3 958.0,695.5 958.0,695.5 959.5,694.2 959.5,694.2 959.5,694.3 959.5,694.3 960.9,694.4 960.9,694.4 960.9,690.4 960.9,690.4 962.3,689.6 962.3,689.6 962.3,685.9 962.3,685.9 963.7,686.0 963.7,686.0 963.7,686.1 963.7,686.1 965.1,687.1 965.1,687.1 965.1,688.7 965.1,688.7 966.5,690.2 966.5,690.2 966.5,692.3 966.5,692.3 968.0,692.9 968.0,692.9 968.0,695.1 968.0,695.1 969.4,696.0 969.4,696.0 969.4,695.3 969.4,695.3 970.8,695.8 970.8,695.8 970.8,695.1 970.8,695.1 972.2,696.3 972.2,696.3 972.2,696.3 972.2,696.3 973.6,696.2 973.6,696.2 973.6,695.4 973.6,695.4 975.1,696.3 975.1,696.3 975.1,696.2 975.1,696.2 976.5,695.5 976.5,695.5 976.5,696.2 976.5,696.2 977.9,696.0 977.9,696.0 977.9,696.2 977.9,696.2 979.3,695.9 979.3,695.9 979.3,695.5 979.3,695.5 980.8,696.0 980.8,696.0 980.8,694.7 980.8,694.8 982.2,695.6 982.2,695.6 982.2,696.0 982.2,696.0 983.6,695.4 983.6,695.4 983.6,696.0 983.6,696.0 985.0,696.0 985.0,696.0 985.0,695.7 985.0,695.7 986.4,695.0 986.4,695.0 986.4,695.3 986.4,695.3 987.9,695.6 987.9,695.6 987.9,695.8 987.9,695.8 989.3,696.1 989.3,696.1 989.3,696.3 989.3,696.3 990.7,696.4 990.7,696.4 990.7,696.3 990.7,696.3 992.1,696.2 992.1,696.2 992.1,695.7 992.1,695.7 993.5,695.8 993.5,695.8 993.5,695.3 993.5,695.3 995.0,694.0 995.0,694.0 995.0,692.5 995.0,692.5 996.4,690.3 996.4,690.3 996.4,687.0 996.4,687.0 997.8,683.7 997.8,683.7 997.8,680.5 997.8,680.5 999.2,679.1 999.2,679.0 999.2,681.8 999.2,681.8 1000.6,685.0 1000.6,685.0 1000.6,688.5 1000.6,688.5 1002.0,691.4 1002.0,691.4 1002.0,693.4 1002.0,693.4 1003.5,694.5 1003.5,694.5 1003.5,695.6 1003.5,695.6 1004.9,695.9 1004.9,695.4 1004.9,696.3 1004.9,696.3 1006.3,696.1 1006.3,696.1 1006.3,696.4 1006.3,696.4 1007.7,696.3 1007.7,696.3 1007.7,696.2 1007.7,696.2 1009.1,695.9 1009.1,695.9 1009.1,696.5 1009.1,696.5 1010.6,696.1 1010.6,696.2 1010.6,695.9 1010.6,695.9 1012.0,696.1 1012.0,696.1 1012.0,695.2 1012.0,695.2 1013.4,694.6 1013.4,694.6 1013.4,693.1 1013.4,693.1 1014.8,692.2 1014.8,692.2 1014.8,691.0 1014.8,691.0 1016.2,692.1 1016.2,692.1 1016.2,692.9 1016.2,692.9 1017.7,694.7 1017.7,694.7 1017.7,695.0 1017.7,695.0 1019.1,695.7 1019.1,695.7 1019.1,696.2 1019.1,696.2 1020.5,696.2 1020.5,696.2 1020.5,696.3 1020.5,696.3 1021.9,696.4 1021.9,696.4 1021.9,696.3 1021.9,696.3 1023.4,696.4 1023.4,696.4 1023.4,695.9 1023.4,695.9 1024.8,696.5 1024.8,696.5 1024.8,695.6 1024.8,695.6 1026.2,695.9 1026.2,695.9 1026.2,696.0 1026.2,696.0 1027.6,695.6 1027.6,695.6 1027.6,696.3 1027.6,696.3 1029.0,696.0 1029.0,696.4 1029.0,695.6 1029.0,695.6"/>
<polyline stroke="#ff0000" points="76.2,694.9 76.2,694.9 76.2,696.4 76.2,696.4 77.6,692.1 77.6,692.1 77.6,695.8 77.6,695.8 79.0,693.0 79.0,693.0 79.0,694.6 79.0,694.6 80.5,695.1 80.5,695.1 80.5,694.6 80.5,694.6 81.9,694.9 81.9,694.9 81.9,696.0 81.9,695.5 83.3,695.8 83.3,695.8 83.3,692.1 83.3,692.1 84.7,694.6 84.7,694.6 84.7,695.7 84.7,695.7 86.1,693.8 86.1,693.8 86.1,694.6 86.1,694.6 87.6,695.5 87.6,695.5 87.6,695.7 87.6,695.7 89.0,695.7 89.0,695.7 89.0,695.6 89.0,695.6 90.4,696.4 90.4,696.4 90.4,695.3 90.4,695.3 91.8,696.5 91.8,696.5 91.8,695.0 91.8,695.0 93.2,695.1 93.2,695.1 93.2,696.4 93.2,696.4 94.7,687.3 94.7,687.3 94.7,692.7 94.7,689.7 96.1,694.7 96.1,694.7 96.1,689.9 96.1,689.9 97.5,690.8 97.5,690.8 97.5,694.3 97.5,694.3 98.9,695.8 98.9,695.8 98.9,696.5 98.9,696.5 100.3,695.2 100.3,695.2 100.3,691.6 100.3,694.3 101.8,695.2 101.8,695.2 101.8,696.2 101.8,696.2 103.2,696.4 103.2,696.4 103.2,694.3 103.2,694.3 104.6,694.6 104.6,694.6 104.6,693.9 104.6,693.9 106.0,695.4 106.0,695.4 106.0,691.7 106.0,691.7 107.4,693.6 107.4,693.6 107.4,692.8 107.4,692.8 108.9,687.1 108.9,687.1 108.9,685.5 108.9,685.5 110.3,680.5 110.3,680.5 110.3,680.8 110.3,680.8 111.7,673.9 111.7,673.9 111.7,664.6 111.7,664.6 113.1,656.2 113.1,656.2 113.1,631.1 113.1,631.1 114.5,619.5 114.5,619.5 114.5,614.5 114.5,614.5 116.0,617.6 116.0,617.6 116.0,624.7 116.0,624.7 117.4,639.4 117.4,639.4 117.4,651.9 117.4,651.9 118.8,662.8 118.8,662.8 118.8,678.6 118.8,678.6 120.2,684.2 120.2,684.2 120.2,686.7 120.2,686.7 121.6,684.9 121.6,684.9 121.6,691.4 121.6,691.4 123.1,692.7 123.1,692.7 123.1,694.3 123.1,694.3 124.5,694.9 124.5,694.9 124.5,695.8 124.5,695.2 125.9,690.6 125.9,690.6 125.9,695.5 125.9,695.5 127.3,694.3 127.3,694.3 127.3,691.7 127.3,691.7 128.8,692.2 128.8,692.2 128.8,690.1 128.8,690.1 130.2,694.3 130.2,694.3 130.2,691.1 130.2,691.1 131.6,694.3 131.6,694.3 131.6,695.7 131.6,695.7 133.0,693.8 133.0,693.8 133.0,696.1 133.0,696.1 134.4,695.9 134.4,695.9 134.4,695.2 134.4,695.2 135.8,695.4 135.8,695.4 135.8,694.6 135.8,694.6 137.3,696.0 137.3,696.2 137.3,695.9 137.3,695.9 138.7,695.0 138.7,695.0 138.7,695.0 138.7,695.0 140.1,695.8 140.1,695.8 140.1,696.4 140.1,696.4 141.5,696.1 141.5,696.1 141.5,695.9 141.5,695.9 143.0,696.1 143.0,696.1 143.0,696.5 143.0,696.5 144.4,695.4 144.4,695.4 144.4,693.7 144.4,693.7 145.8,695.6 145.8,695.6 145.8,691.6 145.8,691.6 147.2,696.1 147.2,696.1 147.2,694.0 147.2,694.0 148.6,696.2 148.6,696.2 148.6,696.2 148.6,696.2 150.1,696.1 150.1,696.5 150.1,693.4 150.1,693.4 151.5,694.0 151.5,694.0 151.5,695.0 151.5,695.0 152.9,695.4 152.9,695.4 152.9,693.8 152.9,693.8 154.3,695.7 154.3,695.7 154.3,695.2 154.3,695.2 155.7,695.3 155.7,695.7 155.7,694.6 155.7,694.6 157.2,695.5 157.2,695.5 157.2,696.2 157.2,696.2 158.6,696.3 158.6,696.3 158.6,696.4 158.6,696.4 160.0,696.5 160.0,696.5 160.0,693.7 160.0,693.7 161.4,692.8 161.4,692.8 161.4,694.9 161.4,694.9 162.8,691.6 162.8,691.6 162.8,695.8 162.8,695.8 164.2,696.4 164.2,696.4 164.2,695.1 164.2,695.1 165.7,695.7 165.7,695.7 165.7,692.1 165.7,692.1 167.1,693.8 167.1,693.8 167.1,696.3 167.1,696.3 168.5,692.6 168.5,692.6 168.5,695.7 168.5,695.7 169.9,696.2 169.9,696.2 169.9,695.3 169.9,695.3 171.3,695.6 171.3,695.6 171.3,694.5 171.3,694.5 172.8,692.5 172.8,692.5 172.8,695.0 172.8,695.0 174.2,695.7 174.2,695.7 174.2,696.2 174.2,695.7 175.6,696.4 175.6,696.4 175.6,694.8 175.6,694.8 177.0,696.2 177.0,696.2 177.0,696.5 177.0,696.5 178.5,695.5 178.5,695.5 178.5,695.7 178.5,695.7 179.9,696.3 179.9,696.3 179.9,695.4 179.9,695.4 181.3,695.8 181.3,695.8 181.3,694.7 181.3,695.7 182.7,696.3 182.7,696.3 182.7,695.5 182.7,695.5 184.1,695.1 184.1,695.1 184.1,696.3 184.1,696.3 185.5,695.2 185.5,695.2 185.5,693.5 185.5,693.5 187.0,693.1 187.0,693.1 187.0,695.4 187.0,695.4 188.4,695.4 188.4,695.4 188.4,694.5 188.4,694.5 189.8,695.8 189.8,695.8 189.8,695.8 189.8,695.8 191.2,695.9 191.2,695.9 191.2,694.5 191.2,694.5 192.7,696.1 192.7,696.1 192.7,694.9 192.7,695.9 194.1,694.5 194.1,694.5 194.1,691.0 194.1,691.0 195.5,695.8 195.5,695.8 195.5,692.9 195.5,692.9 196.9,694.6 196.9,694.6 196.9,693.5 196.9,693.5 198.3,696.2 198.3,696.2 198.3,695.1 198.3,695.1 199.8,696.0 199.8,696.0 199.8,693.6 199.8,693.6 201.2,694.7 201.2,694.7 201.2,693.3 201.2,693.3 202.6,695.6 202.6,695.6 202.6,695.8 202.6,695.8 204.0,695.3 204.0,695.3 204.0,694.4 204.0,694.4 205.4,692.0 205.4,692.0 205.4,695.7 205.4,695.7 206.8,695.5 206.8,695.5 206.8,695.3 206.8,695.3 208.3,696.4 208.3,696.4 208.3,693.2 208.3,693.2 209.7,696.1 209.7,696.1 209.7,694.0 209.7,694.0 211.1,696.4 211.1,696.4 211.1,694.9 211.1,694.9 212.5,692.8 212.5,692.8 212.5,696.4 212.5,696.4 213.9,692.4 213.9,692.4 213.9,693.1 213.9,693.1 215.4,693.8 215.4,693.8 215.4,695.9 215.4,695.9 216.8,695.1 216.8,695.1 216.8,693.6 216.8,693.6 218.2,696.4 218.2,696.4 218.2,695.5 218.2,695.5 219.6,694.0 219.6,694.0 219.6,694.9 219.6,694.9 221.1,695.6 221.1,695.6 221.1,695.7 221.1,695.7 222.5,695.9 222.5,695.9 222.5,696.0 222.5,696.0 223.9,696.2 223.9,696.2 223.9,695.9 223.9,695.9 225.3,695.7 225.3,695.7 225.3,693.3 225.3,693.3 226.7,695.1 226.7,695.1 226.7,694.4 226.7,694.4 228.2,693.6 228.2,693.6 228.2,695.6 228.2,695.6 229.6,695.2 229.6,695.2 229.6,696.2 229.6,696.2 231.0,694.6 231.0,693.6 231.0,696.4 231.0,696.4 232.4,694.1 232.4,694.1 232.4,696.0 232.4,696.0 233.8,692.3 233.8,692.3 233.8,693.7 233.8,693.7 235.2,694.4 235.2,694.4 235.2,696.2 235.2,696.2 236.7,696.0 236.7,695.3 236.7,696.5 236.7,696.5 238.1,695.9 238.1,695.9 238.1,694.6 238.1,694.6 239.5,693.6 239.5,693.6 239.5,692.3 239.5,692.3 240.9,694.1 240.9,694.1 240.9,693.2 240.9,693.2 242.3,696.3 242.3,696.3 242.3,693.8 242.3,696.0 243.8,692.3 243.8,692.3 243.8,694.0 243.8,694.0 245.2,695.9 245.2,695.9 245.2,695.4 245.2,695.4 246.6,696.1 246.6,696.1 246.6,695.2 246.6,695.2 248.0,695.8 248.0,695.8 248.0,696.4 248.0,696.4 249.4,695.7 249.4,695.7 249.4,693.5 249.4,693.5 250.9,692.4 250.9,692.4 250.9,694.8 250.9,694.8 252.3,693.7 252.3,693.7 252.3,692.7 252.3,692.7 253.7,696.2 253.7,696.2 253.7,693.6 253.7,693.6 255.1,694.7 255.1,694.7 255.1,696.4 255.1,695.3 256.6,695.4 256.6,695.4 256.6,696.3 256.6,696.3 258.0,694.2 258.0,694.2 258.0,695.1 258.0,695.1 259.4,694.2 259.4,694.2 259.4,694.2 259.4,694.2 260.8,694.9 260.8,694.9 260.8,696.1 260.8,695.3 262.2,695.8 262.2,695.8 262.2,695.2 262.2,695.2 263.6,695.5 263.6,695.5 263.6,696.3 263.6,696.3 265.1,693.7 265.1,693.7 265.1,695.6 265.1,695.6 266.5,695.1 266.5,695.1 266.5,694.2 266.5,694.2 267.9,690.9 267.9,689.5 267.9,696.4 267.9,696.4 269.3,695.2 269.3,695.2 269.3,695.9 269.3,695.9 270.7,695.7 270.7,695.7 270.7,695.3 270.7,695.3 272.2,695.6 272.2,695.6 272.2,696.4 272.2,696.4 273.6,695.5 273.6,695.5 273.6,688.3 273.6,688.3 275.0,696.2 275.0,696.2 275.0,693.6 275.0,693.6 276.4,696.3 276.4,696.3 276.4,696.3 276.4,696.3 277.8,694.3 277.8,694.3 277.8,695.7 277.8,695.7 279.3,696.0 279.3,696.3 279.3,695.3 279.3,695.3 280.7,694.9 280.7,694.9 280.7,695.1 280.7,695.1 282.1,696.0 282.1,696.0 282.1,696.0 282.1,696.0 283.5,696.4 283.5,696.4 283.5,696.0 283.5,696.0 284.9,696.4 284.9,696.4 284.9,693.1 284.9,693.1 286.4,695.7 286.4,695.7 286.4,692.4 286.4,692.4 287.8,696.4 287.8,696.4 287.8,694.7 287.8,694.7 289.2,695.6 289.2,695.6 289.2,692.8 289.2,692.8 290.6,695.9 290.6,695.9 290.6,696.5 290.6,696.5 292.0,696.2 292.0,696.2 292.0,695.2 292.0,695.2 293.5,696.2 293.5,696.2 293.5,696.5 293.5,696.5 294.9,695.9 294.9,695.9 294.9,694.9 294.9,694.9 296.3,696.2 296.3,696.2 296.3,693.0 296.3,693.0 297.7,694.3 297.7,694.3 297.7,696.0 297.7,696.0 299.1,696.3 299.1,696.3 299.1,695.5 299.1,695.6 300.6,696.3 300.6,696.3 300.6,695.6 300.6,695.6 302.0,696.1 302.0,696.1 302.0,695.4 302.0,695.4 303.4,695.3 303.4,695.3 303.4,695.7 303.4,695.7 304.8,695.4 304.8,695.4 304.8,694.3 304.8,694.3 306.2,692.7 306.2,692.7 306.2,692.4 306.2,692.4 307.7,690.3 307.7,690.3 307.7,686.7 307.7,686.7 309.1,683.2 309.1,683.2 309.1,678.4 309.1,678.4 310.5,679.1 310.5,679.1 310.5,677.6 310.5,677.6 311.9,682.0 311.9,682.0 311.9,684.4 311.9,684.4 313.3,684.9 313.3,684.9 313.3,689.1 313.3,689.1 314.8,693.0 314.8,693.0 314.8,693.0 314.8,693.0 316.2,694.2 316.2,694.2 316.2,695.0 316.2,695.0 317.6,695.0 317.6,695.3 317.6,694.6 317.6,694.6 319.0,696.3 319.0,696.3 319.0,695.2 319.0,695.2 320.4,694.1 320.4,694.1 320.4,696.3 320.4,696.3 321.9,689.9 321.9,689.9 321.9,691.7 321.9,691.7 323.3,693.3 323.3,693.3 323.3,695.0 323.3,694.3 324.7,696.0 324.7,696.0 324.7,695.1 324.7,695.1 326.1,696.0 326.1,696.0 326.1,694.7 326.1,694.7 327.5,696.0 327.5,696.0 327.5,695.2 327.5,695.2 329.0,695.0 329.0,695.0 329.0,696.5 329.0,696.2 330.4,693.4 330.4,693.4 330.4,696.2 330.4,696.2 331.8,695.6 331.8,695.6 331.8,695.4 331.8,695.4 333.2,696.2 333.2,696.2 333.2,696.0 333.2,696.0 334.6,695.5 334.6,695.5 334.6,695.8 334.6,695.8 336.1,696.5 336.1,696.5 336.1,695.0 336.1,695.0 337.5,695.3 337.5,695.3 337.5,691.6 337.5,691.6 338.9,695.7 338.9,695.7 338.9,694.2 338.9,694.2 340.3,695.3 340.3,695.3 340.3,695.8 340.3,695.8 341.7,694.9 341.7,694.9 341.7,695.9 341.7,695.9 343.2,696.3 343.2,696.3 343.2,696.3 343.2,696.3 344.6,695.8 344.6,695.8 344.6,695.7 344.6,695.7 346.0,694.3 346.0,694.3 346.0,696.5 346.0,696.5 347.4,695.2 347.4,695.0 347.4,695.4 347.4,695.4 348.8,696.1 348.8,696.1 348.8,692.3 348.8,692.3 350.3,696.3 350.3,696.3 350.3,694.2 350.3,694.2 351.7,695.5 351.7,695.5 351.7,693.3 351.7,693.3 353.1,695.9 353.1,695.9 353.1,695.2 353.1,695.2 354.5,691.0 354.5,691.0 354.5,694.7 354.5,694.7 355.9,695.8 355.9,695.8 355.9,695.1 355.9,695.1 357.4,695.9 357.4,695.9 357.4,694.3 357.4,694.3 358.8,695.5 358.8,695.5 358.8,696.4 358.8,696.4 360.2,692.9 360.2,692.9 360.2,695.5 360.2,695.5 361.6,696.3 361.6,696.3 361.6,696.1 361.6,696.1 363.0,696.2 363.0,696.2 363.0,696.0 363.0,696.0 364.5,694.5 364.5,694.5 364.5,694.0 364.5,694.0 365.9,692.1 365.9,692.1 365.9,691.0 365.9,691.0 367.3,690.8 367.3,690.8 367.3,693.1 367.3,693.1 368.7,693.3 368.7,693.3 368.7,693.1 368.7,693.1 370.1,695.4 370.1,695.4 370.1,695.7 370.1,695.7 371.6,695.2 371.6,695.2 371.6,695.3 371.6,695.3 373.0,695.4 373.0,695.1 373.0,695.7 373.0,695.7 374.4,696.2 374.4,696.2 374.4,696.3 374.4,696.3 375.8,695.7 375.8,695.7 375.8,696.1 375.8,696.1 377.2,696.1 377.2,696.1 377.2,696.5 377.2,696.5 378.7,696.1 378.7,696.1 378.7,692.7 378.7,692.7 380.1,695.3 380.1,695.3 380.1,695.7 380.1,695.7 381.5,694.7 381.5,694.7 381.5,696.4 381.5,696.4 382.9,695.8 382.9,695.8 382.9,696.0 382.9,696.0 384.3,695.7 384.3,695.7 384.3,695.2 384.3,695.2 385.8,695.4 385.8,695.4 385.8,694.6 385.8,694.6 387.2,691.8 387.2,691.8 387.2,691.9 387.2,691.9 388.6,692.5 388.6,692.5 388.6,692.4 388.6,692.4 390.0,691.4 390.0,691.4 390.0,691.7 390.0,691.7 391.4,694.4 391.4,694.4 391.4,689.5 391.4,693.1 392.9,695.8 392.9,695.8 392.9,695.0 392.9,695.0 394.3,695.5 394.3,695.5 394.3,695.2 394.3,695.2 395.7,696.0 395.7,696.0 395.7,695.5 395.7,695.5 397.1,694.0 397.1,694.0 397.1,696.0 397.1,694.8 398.5,695.7 398.5,695.7 398.5,695.3 398.5,695.3 400.0,695.6 400.0,695.6 400.0,693.3 400.0,693.3 401.4,696.4 401.4,696.4 401.4,693.7 401.4,693.7 402.8,692.5 402.8,692.5 402.8,693.2 402.8,693.2 404.2,695.2 404.2,695.2 404.2,696.2 404.2,696.2 405.6,694.7 405.6,694.7 405.6,696.0 405.6,696.0 407.1,695.1 407.1,695.1 407.1,694.0 407.1,694.0 408.5,694.7 408.5,694.7 408.5,695.9 408.5,695.9 409.9,693.7 409.9,693.7 409.9,695.8 409.9,695.4 411.3,696.3 411.3,696.3 411.3,695.0 411.3,695.0 412.7,695.9 412.7,695.9 412.7,695.5 412.7,695.5 414.2,695.5 414.2,695.5 414.2,696.5 414.2,696.5 415.6,695.8 415.6,695.8 415.6,694.8 415.6,695.5 417.0,695.0 417.0,695.0 417.0,695.9 417.0,695.9 418.4,693.9 418.4,693.9 418.4,691.9 418.4,691.9 419.8,694.3 419.8,694.3 419.8,696.4 419.8,696.4 421.3,694.8 421.3,694.8 421.3,695.5 421.3,695.5 422.7,692.9 422.7,692.9 422.7,694.7 422.7,694.7 424.1,695.0 424.1,695.0 424.1,695.2 424.1,695.2 425.5,694.6 425.5,694.6 425.5,692.8 425.5,692.8 426.9,692.8 426.9,692.8 426.9,694.9 426.9,694.9 428.4,696.3 428.4,696.4 428.4,696.1 428.4,696.1 429.8,696.2 429.8,696.2 429.8,696.3 429.8,696.3 431.2,695.9 431.2,695.9 431.2,696.1 431.2,696.1 432.6,696.3 432.6,696.3 432.6,695.1 432.6,695.1 434.0,696.4 434.0,696.4 434.0,696.1 434.0,696.1 435.5,695.9 435.5,696.3 435.5,695.0 435.5,695.0 436.9,695.9 436.9,695.9 436.9,695.2 436.9,695.2 438.3,696.3 438.3,696.3 438.3,696.0 438.3,696.0 439.7,695.8 439.7,695.8 439.7,694.9 439.7,694.9 441.1,695.0 441.1,695.0 441.1,693.9 441.1,694.1 442.6,695.1 442.6,695.1 442.6,694.7 442.6,694.7 444.0,690.7 444.0,690.7 444.0,691.1 444.0,691.1 445.4,689.2 445.4,689.2 445.4,686.5 445.4,686.5 446.8,684.4 446.8,684.4 446.8,675.8 446.8,675.8 448.2,670.5 448.2,670.5 448.2,665.4 448.2,665.4 449.7,662.8 449.7,662.8 449.7,660.6 449.7,660.6 451.1,662.3 451.1,662.3 451.1,667.5 451.1,667.5 452.5,671.9 452.5,671.9 452.5,674.3 452.5,674.3 453.9,682.2 453.9,682.2 453.9,688.8 453.9,688.8 455.3,689.1 455.3,689.1 455.3,691.4 455.3,691.4 456.8,693.2 456.8,694.2 456.8,693.1 456.8,693.1 458.2,694.6 458.2,694.6 458.2,695.4 458.2,695.4 459.6,694.6 459.6,694.6 459.6,695.5 459.6,695.5 461.0,696.4 461.0,696.4 461.0,695.9 461.0,695.9 462.4,695.3 462.4,695.3 462.4,695.3 462.4,695.3 463.9,696.4 463.9,696.4 463.9,694.8 463.9,694.8 465.3,695.8 465.3,695.8 465.3,695.2 465.3,695.2 466.7,695.9 466.7,695.9 466.7,696.2 466.7,696.2 468.1,695.5 468.1,695.5 468.1,695.3 468.1,695.3 469.5,695.4 469.5,695.4 469.5,694.7 469.5,694.7 471.0,696.0 471.0,696.0 471.0,694.0 471.0,694.0 472.4,695.7 472.4,695.6 472.4,696.3 472.4,696.3 473.8,696.2 473.8,696.2 473.8,696.3 473.8,696.3 475.2,694.9 475.2,694.9 475.2,695.7 475.2,695.7 476.6,693.5 476.6,693.5 476.6,693.8 476.6,693.8 478.1,694.5 478.1,694.5 478.1,693.9 478.1,694.0 479.5,695.1 479.5,695.1 479.5,693.2 479.5,693.2 480.9,690.2 480.9,690.2 480.9,689.8 480.9,689.8 482.3,688.1 482.3,688.1 482.3,687.0 482.3,687.0 483.7,685.7 483.7,684.0 483.7,687.7 483.7,687.7 485.2,689.0 485.2,689.0 485.2,690.9 485.2,690.9 486.6,690.7 486.6,690.7 486.6,694.2 486.6,694.2 488.0,695.3 488.0,695.3 488.0,694.3 488.0,694.3 489.4,695.7 489.4,695.7 489.4,695.9 489.4,695.9 490.8,694.3 490.8,694.3 490.8,695.6 490.8,695.6 492.3,695.7 492.3,695.7 492.3,696.2 492.3,696.2 493.7,695.6 493.7,695.6 493.7,696.3 493.7,696.3 495.1,695.5 495.1,695.5 495.1,693.7 495.1,693.7 496.5,694.9 496.5,694.9 496.5,692.0 496.5,692.0 497.9,694.8 497.9,694.8 497.9,694.6 497.9,694.6 499.4,694.2 499.4,694.2 499.4,693.4 499.4,693.4 500.8,695.6 500.8,695.6 500.8,694.3 500.8,694.3 502.2,694.2 502.2,694.2 502.2,695.4 502.2,695.4 503.6,694.1 503.6,694.1 503.6,696.3 503.6,696.1 505.0,693.4 505.0,693.4 505.0,696.4 505.0,696.4 506.5,695.0 506.5,695.0 506.5,695.4 506.5,695.4 507.9,694.6 507.9,694.6 507.9,693.3 507.9,693.3 509.3,696.0 509.3,696.0 509.3,693.6 509.3,694.3 510.7,695.0 510.7,695.0 510.7,693.6 510.7,693.6 512.1,693.8 512.1,693.8 512.1,693.9 512.1,693.9 513.6,694.6 513.6,694.6 513.6,693.9 513.6,693.9 515.0,693.3 515.0,693.3 515.0,690.3 515.0,690.3 516.4,690.6 516.4,690.6 516.4,689.4 516.4,689.4 517.8,691.5 517.8,691.5 517.8,691.0 517.8,691.0 519.2,691.6 519.2,691.6 519.2,691.9 519.2,691.9 520.7,693.3 520.7,693.3 520.7,694.3 520.7,694.3 522.1,694.5 522.1,694.5 522.1,693.9 522.1,694.3 523.5,692.9 523.5,692.9 523.5,695.3 523.5,695.3 524.9,693.3 524.9,693.3 524.9,695.6 524.9,695.6 526.4,694.9 526.4,694.9 526.4,696.3 526.4,696.3 527.8,694.9 527.8,694.9 527.8,695.9 527.8,695.3 529.2,695.7 529.2,695.7 529.2,694.8 529.2,694.8 530.6,696.0 530.6,696.0 530.6,696.1 530.6,696.1 532.0,694.2 532.0,694.2 532.0,695.4 532.0,695.4 533.5,695.4 533.5,695.4 533.5,695.8 533.5,695.5 534.9,694.6 534.9,694.6 534.9,694.6 534.9,694.6 536.3,693.4 536.3,693.4 536.3,692.3 536.3,692.3 537.7,690.4 537.7,690.4 537.7,687.8 537.7,687.8 539.1,685.4 539.1,685.4 539.1,683.5 539.1,683.5 540.5,681.3 540.5,681.3 540.5,680.5 540.5,680.8 542.0,680.8 542.0,680.8 542.0,683.7 542.0,683.7 543.4,684.8 543.4,684.8 543.4,689.2 543.4,689.2 544.8,690.3 544.8,690.3 544.8,693.1 544.8,693.1 546.2,694.1 546.2,694.1 546.2,695.4 546.2,695.4 547.7,695.5 547.7,695.5 547.7,696.0 547.7,696.0 549.1,696.1 549.1,696.1 549.1,694.8 549.1,694.8 550.5,695.6 550.5,695.6 550.5,696.0 550.5,696.0 551.9,695.9 551.9,695.9 551.9,696.3 551.9,696.3 553.3,695.8 553.3,695.8 553.3,695.7 553.3,695.7 554.8,695.8 554.8,695.8 554.8,695.0 554.8,695.0 556.2,695.3 556.2,695.3 556.2,694.9 556.2,694.9 557.6,694.3 557.6,694.3 557.6,692.5 557.6,692.5 559.0,692.1 559.0,692.1 559.0,685.9 559.0,685.9 560.4,684.6 560.4,684.6 560.4,682.6 560.4,682.6 561.9,678.2 561.9,678.2 561.9,675.8 561.9,675.8 563.3,675.2 563.3,675.2 563.3,672.6 563.3,674.1 564.7,676.8 564.7,676.8 564.7,683.0 564.7,683.0 566.1,685.4 566.1,685.4 566.1,689.0 566.1,689.0 567.5,691.0 567.5,691.0 567.5,692.4 567.5,692.4 569.0,693.9 569.0,693.9 569.0,694.3 569.0,694.3 570.4,694.5 570.4,694.5 570.4,693.9 570.4,693.9 571.8,694.6 571.8,694.6 571.8,695.8 571.8,695.8 573.2,694.3 573.2,694.3 573.2,695.6 573.2,695.6 574.6,694.6 574.6,694.6 574.6,696.1 574.6,696.1 576.0,696.0 576.0,696.0 576.0,692.3 576.0,692.3 577.5,695.8 577.5,695.8 577.5,696.4 577.5,695.9 578.9,695.9 578.9,695.9 578.9,696.3 578.9,696.3 580.3,696.3 580.3,696.3 580.3,696.2 580.3,696.2 581.7,696.5 581.7,696.5 581.7,696.2 581.7,696.2 583.2,696.4 583.2,696.4 583.2,695.7 583.2,695.7 584.6,696.2 584.6,696.2 584.6,696.2 584.6,696.2 586.0,696.4 586.0,696.4 586.0,694.0 586.0,694.0 587.4,695.0 587.4,695.0 587.4,694.9 587.4,694.9 588.8,695.5 588.8,695.5 588.8,695.0 588.8,695.0 590.2,693.6 590.2,693.6 590.2,695.9 590.2,695.9 591.7,692.7 591.7,692.7 591.7,695.2 591.7,695.2 593.1,694.2 593.1,694.2 593.1,695.5 593.1,695.5 594.5,695.5 594.5,695.5 594.5,694.9 594.5,694.9 595.9,695.2 595.9,695.6 595.9,694.8 595.9,694.8 597.4,695.7 597.4,695.7 597.4,693.7 597.4,693.7 598.8,696.3 598.8,696.3 598.8,696.5 598.8,696.5 600.2,694.8 600.2,694.8 600.2,694.5 600.2,694.5 601.6,696.1 601.6,696.1 601.6,696.5 601.6,696.5 603.0,696.1 603.0,696.1 603.0,696.1 603.0,696.1 604.5,696.1 604.5,696.1 604.5,695.2 604.5,695.2 605.9,696.2 605.9,696.2 605.9,691.8 605.9,691.8 607.3,696.2 607.3,696.2 607.3,695.4 607.3,695.4 608.7,695.5 608.7,695.0 608.7,696.5 608.7,696.5 610.1,694.8 610.1,694.8 610.1,696.3 610.1,696.3 611.5,695.3 611.5,695.3 611.5,695.3 611.5,695.3 613.0,695.7 613.0,695.7 613.0,695.2 613.0,695.2 614.4,693.4 614.4,693.4 614.4,695.8 614.4,695.7 615.8,695.8 615.8,695.8 615.8,696.4 615.8,696.4 617.2,695.7 617.2,695.6 617.2,696.5 617.2,696.5 618.6,696.2 618.6,696.2 618.6,695.1 618.6,695.1 620.1,696.2 620.1,696.2 620.1,692.5 620.1,694.7 621.5,696.0 621.5,696.0 621.5,696.0 621.5,696.0 622.9,696.3 622.9,696.3 622.9,695.8 622.9,695.8 624.3,695.2 624.3,695.2 624.3,695.3 624.3,695.3 625.8,694.4 625.8,694.4 625.8,694.1 625.8,694.1 627.2,693.0 627.2,693.0 627.2,692.7 627.2,692.7 628.6,690.4 628.6,690.4 628.6,688.8 628.6,688.8 630.0,685.8 630.0,685.8 630.0,684.6 630.0,684.6 631.4,681.7 631.4,681.7 631.4,677.2 631.4,679.6 632.9,678.0 632.9,676.7 632.9,679.8 632.9,679.8 634.3,681.5 634.3,681.5 634.3,684.1 634.3,684.1 635.7,686.2 635.7,686.2 635.7,687.4 635.7,687.4 637.1,689.8 637.1,689.8 637.1,691.9 637.1,691.9 638.5,692.8 638.5,692.8 638.5,691.9 638.5,691.9 640.0,693.0 640.0,693.0 640.0,695.0 640.0,695.0 641.4,695.6 641.4,695.6 641.4,694.2 641.4,694.2 642.8,695.3 642.8,695.3 642.8,694.6 642.8,694.6 644.2,696.3 644.2,696.3 644.2,695.1 644.2,695.1 645.6,695.6 645.6,695.9 645.6,694.4 645.6,694.4 647.0,691.8 647.0,691.8 647.0,692.0 647.0,692.0 648.5,696.1 648.5,696.1 648.5,696.1 648.5,696.1 649.9,696.1 649.9,696.1 649.9,696.5 649.9,696.5 651.3,695.9 651.3,695.9 651.3,695.0 651.3,695.0 652.7,696.0 652.7,696.0 652.7,695.9 652.7,695.9 654.1,695.3 654.1,695.3 654.1,696.0 654.1,696.0 655.6,695.7 655.6,695.7 655.6,695.9 655.6,695.9 657.0,696.2 657.0,696.2 657.0,696.0 657.0,696.0 658.4,695.6 658.4,695.4 658.4,695.6 658.4,695.6 659.8,695.6 659.8,695.6 659.8,696.3 659.8,696.3 661.2,694.3 661.2,694.3 661.2,694.4 661.2,694.4 662.7,695.9 662.7,695.9 662.7,692.9 662.7,692.9 664.1,694.9 664.1,694.9 664.1,696.4 664.1,696.1 665.5,696.4 665.5,696.4 665.5,695.0 665.5,695.0 666.9,696.3 666.9,696.3 666.9,695.8 666.9,695.8 668.4,695.5 668.4,695.5 668.4,696.4 668.4,696.4 669.8,693.8 669.8,693.8 669.8,695.8 669.8,695.8 671.2,694.6 671.2,694.6 671.2,695.6 671.2,695.6 672.6,695.6 672.6,695.6 672.6,694.4 672.6,694.4 674.0,696.3 674.0,696.3 674.0,695.0 674.0,695.0 675.5,696.0 675.5,696.0 675.5,693.3 675.5,693.3 676.9,694.3 676.9,694.3 676.9,696.3 676.9,696.3 678.3,696.4 678.3,696.4 678.3,694.2 678.3,694.2 679.7,695.8 679.7,695.8 679.7,695.4 679.7,695.4 681.1,695.6 681.1,695.6 681.1,696.1 681.1,696.1 682.5,696.3 682.5,696.3 682.5,695.3 682.5,696.0 684.0,696.0 684.0,696.0 684.0,694.7 684.0,694.7 685.4,695.9 685.4,695.9 685.4,695.3 685.4,695.3 686.8,694.3 686.8,694.3 686.8,695.5 686.8,694.9 688.2,696.5 688.2,696.5 688.2,696.3 688.2,696.3 689.6,695.4 689.6,695.4 689.6,696.5 689.6,696.5 691.1,695.8 691.1,694.3 691.1,696.2 691.1,696.2 692.5,695.8 692.5,695.8 692.5,693.9 692.5,693.9 693.9,694.7 693.9,694.7 693.9,694.3 693.9,694.3 695.3,696.3 695.3,696.3 695.3,695.3 695.3,696.1 696.8,695.7 696.8,695.7 696.8,693.7 696.8,693.7 698.2,695.0 698.2,695.0 698.2,694.7 698.2,694.7 699.6,694.3 699.6,694.3 699.6,694.2 699.6,694.2 701.0,693.1 701.0,693.1 701.0,691.2 701.0,692.9 702.4,692.1 702.4,692.1 702.4,693.6 702.4,693.6 703.9,691.5 703.9,691.5 703.9,692.1 703.9,692.1 705.3,693.4 705.3,693.4 705.3,694.6 705.3,694.6 706.7,695.1 706.7,695.1 706.7,695.4 706.7,695.4 708.1,694.7 708.1,694.7 708.1,696.3 708.1,696.3 709.5,696.0 709.5,696.0 709.5,695.9 709.5,695.9 711.0,695.4 711.0,695.4 711.0,695.6 711.0,695.6 712.4,696.4 712.4,696.4 712.4,695.7 712.4,695.7 713.8,693.5 713.8,693.5 713.8,696.4 713.8,696.4 715.2,695.1 715.2,695.1 715.2,694.9 715.2,694.9 716.6,693.5 716.6,693.5 716.6,695.7 716.6,695.7 718.0,695.4 718.0,695.4 718.0,695.0 718.0,695.0 719.5,694.9 719.5,694.9 719.5,692.7 719.5,692.7 720.9,690.1 720.9,690.1 720.9,692.2 720.9,692.2 722.3,693.8 722.3,693.7 722.3,693.9 722.3,693.9 723.7,694.4 723.7,694.4 723.7,695.5 723.7,695.5 725.1,695.7 725.1,695.7 725.1,695.6 725.1,695.6 726.6,696.2 726.6,696.2 726.6,696.3 726.6,696.3 728.0,694.8 728.0,694.8 728.0,695.1 728.0,695.1 729.4,696.4 729.4,696.4 729.4,695.4 729.4,695.4 730.8,695.5 730.8,695.5 730.8,695.7 730.8,695.7 732.2,689.9 732.2,689.9 732.2,696.2 732.2,696.2 733.7,695.4 733.7,695.4 733.7,696.3 733.7,696.3 735.1,696.4 735.1,696.4 735.1,696.5 735.1,696.5 736.5,696.2 736.5,696.2 736.5,696.2 736.5,696.2 737.9,696.4 737.9,694.0 737.9,696.5 737.9,696.5 739.4,694.7 739.4,694.7 739.4,696.2 739.4,696.2 740.8,696.2 740.8,696.2 740.8,695.8 740.8,695.8 742.2,695.8 742.2,695.8 742.2,696.3 742.2,696.3 743.6,696.4 743.6,696.4 743.6,696.5 743.6,696.5 745.0,696.4 745.0,696.4 745.0,695.6 745.0,696.2 746.5,696.5 746.5,696.5 746.5,695.6 746.5,695.6 747.9,696.1 747.9,696.1 747.9,695.6 747.9,695.6 749.3,696.5 749.3,696.5 749.3,696.2 749.3,696.2 750.7,696.3 750.7,696.4 750.7,695.6 750.7,695.6 752.1,696.1 752.1,696.1 752.1,694.6 752.1,694.6 753.5,696.0 753.5,696.0 753.5,695.0 753.5,695.0 755.0,695.8 755.0,695.8 755.0,696.3 755.0,696.3 756.4,696.3 756.4,696.3 756.4,695.2 756.4,695.2 757.8,695.0 757.8,695.0 757.8,695.2 757.8,695.2 759.2,696.2 759.2,696.2 759.2,695.5 759.2,695.5 760.6,696.0 760.6,696.0 760.6,695.5 760.6,695.5 762.1,695.6 762.1,695.6 762.1,696.4 762.1,696.4 763.5,695.7 763.5,694.3 763.5,696.0 763.5,696.0 764.9,692.9 764.9,692.9 764.9,693.3 764.9,693.3 766.3,693.3 766.3,693.3 766.3,696.4 766.3,696.4 767.8,696.0 767.8,696.0 767.8,695.0 767.8,695.0 769.2,696.1 769.2,696.4 769.2,695.8 769.2,695.8 770.6,696.3 770.6,696.3 770.6,696.4 770.6,696.4 772.0,696.4 772.0,696.4 772.0,696.4 772.0,696.4 773.4,695.3 773.4,695.3 773.4,696.1 773.4,696.1 774.9,696.2 774.9,696.2 774.9,696.4 774.9,696.4 776.3,696.3 776.3,696.3 776.3,694.9 776.3,694.9 777.7,693.8 777.7,693.8 777.7,695.3 777.7,695.3 779.1,695.0 779.1,695.0 779.1,696.4 779.1,696.4 780.5,695.1 780.5,695.1 780.5,695.1 780.5,695.1 782.0,695.8 782.0,696.3 782.0,692.0 782.0,692.0 783.4,696.1 783.4,696.1 783.4,696.3 783.4,696.3 784.8,695.8 784.8,695.8 784.8,696.1 784.8,696.1 786.2,694.6 786.2,694.6 786.2,696.4 786.2,696.4 787.6,695.5 787.6,695.5 787.6,696.2 787.6,696.1 789.0,696.4 789.0,696.4 789.0,695.9 789.0,695.9 790.5,696.5 790.5,696.5 790.5,696.2 790.5,696.2 791.9,695.7 791.9,695.7 791.9,696.4 791.9,696.4 793.3,694.8 793.3,694.8 793.3,693.8 793.3,693.8 794.7,696.0 794.7,696.0 794.7,694.4 794.7,695.1 796.1,696.3 796.1,696.3 796.1,694.8 796.1,694.8 797.6,695.4 797.6,695.4 797.6,694.0 797.6,694.0 799.0,694.8 799.0,694.8 799.0,692.1 799.0,692.1 800.4,693.8 800.4,693.8 800.4,689.4 800.4,689.4 801.8,691.6 801.8,691.6 801.8,690.7 801.8,691.3 803.2,691.0 803.2,691.0 803.2,690.5 803.2,690.5 804.7,692.2 804.7,692.2 804.7,693.0 804.7,693.0 806.1,692.6 806.1,692.6 806.1,695.0 806.1,695.0 807.5,693.7 807.5,693.7 807.5,695.8 807.5,695.8 808.9,694.8 808.9,694.8 808.9,694.4 808.9,694.4 810.4,695.8 810.4,695.8 810.4,696.2 810.4,696.2 811.8,696.3 811.8,696.3 811.8,696.1 811.8,696.1 813.2,695.9 813.2,696.3 813.2,694.7 813.2,694.7 814.6,696.3 814.6,696.3 814.6,693.1 814.6,693.1 816.0,695.6 816.0,695.6 816.0,695.9 816.0,695.9 817.5,694.7 817.5,694.7 817.5,696.1 817.5,696.1 818.9,695.9 818.9,695.9 818.9,693.7 818.9,695.7 820.3,695.3 820.3,695.3 820.3,696.4 820.3,696.4 821.7,696.0 821.7,696.0 821.7,695.9 821.7,695.9 823.1,696.4 823.1,696.4 823.1,696.4 823.1,696.4 824.5,695.8 824.5,695.5 824.5,696.4 824.5,696.4 826.0,695.1 826.0,695.1 826.0,696.5 826.0,696.5 827.4,695.7 827.4,695.7 827.4,696.1 827.4,696.1 828.8,695.8 828.8,695.8 828.8,696.2 828.8,696.2 830.2,696.4 830.2,696.4 830.2,694.7 830.2,694.7 831.6,695.1 831.6,695.1 831.6,695.6 831.6,695.2 833.1,696.4 833.1,696.4 833.1,695.2 833.1,695.2 834.5,695.2 834.5,695.2 834.5,696.4 834.5,696.4 835.9,696.1 835.9,696.1 835.9,695.8 835.9,695.8 837.3,696.3 837.3,696.0 837.3,696.5 837.3,696.5 838.8,696.1 838.8,696.1 838.8,695.6 838.8,695.6 840.2,696.3 840.2,696.3 840.2,696.1 840.2,696.1 841.6,694.9 841.6,694.9 841.6,696.1 841.6,696.1 843.0,696.4 843.0,696.4 843.0,695.5 843.0,695.5 844.4,696.1 844.4,695.9 844.4,696.3 844.4,696.3 845.9,695.5 845.9,695.5 845.9,696.0 845.9,696.0 847.3,695.4 847.3,695.4 847.3,696.2 847.3,696.2 848.7,695.7 848.7,695.7 848.7,696.5 848.7,696.4 850.1,696.0 850.1,696.4 850.1,695.6 850.1,695.6 851.5,694.6 851.5,694.6 851.5,696.5 851.5,696.5 853.0,693.8 853.0,693.8 853.0,695.4 853.0,695.4 854.4,695.8 854.4,695.8 854.4,696.3 854.4,696.3 855.8,696.5 855.8,696.5 855.8,695.4 855.8,695.4 857.2,696.0 857.2,696.0 857.2,695.8 857.2,695.8 858.6,695.8 858.6,695.8 858.6,695.2 858.6,695.2 860.0,696.4 860.0,696.4 860.0,695.8 860.0,695.8 861.5,696.4 861.5,696.4 861.5,695.9 861.5,695.9 862.9,696.5 862.9,696.5 862.9,695.8 862.9,696.5 864.3,696.3 864.3,696.3 864.3,695.5 864.3,695.8 865.7,694.8 865.7,694.8 865.7,696.1 865.7,696.1 867.1,696.4 867.1,696.4 867.1,696.3 867.1,696.3 868.6,696.4 868.6,696.4 868.6,693.7 868.6,693.7 870.0,695.9 870.0,695.9 870.0,696.2 870.0,696.2 871.4,696.3 871.4,696.3 871.4,696.3 871.4,696.3 872.8,696.5 872.8,696.5 872.8,696.3 872.8,696.3 874.2,696.1 874.2,696.0 874.2,696.4 874.2,696.4 875.7,696.4 875.7,696.4 875.7,696.2 875.7,696.2 877.1,696.4 877.1,696.4 877.1,695.3 877.1,695.3 878.5,696.3 878.5,696.3 878.5,694.5 878.5,694.5 879.9,695.8 879.9,695.8 879.9,695.4 879.9,695.4 881.4,694.2 881.4,694.2 881.4,695.7 881.4,695.7 882.8,695.4 882.8,695.4 882.8,696.3 882.8,696.3 884.2,694.8 884.2,694.8 884.2,695.8 884.2,695.8 885.6,694.1 885.6,694.1 885.6,696.5 885.6,696.5 887.0,695.7 887.0,695.6 887.0,696.3 887.0,696.3 888.5,696.4 888.5,696.4 888.5,696.4 888.5,696.4 889.9,696.2 889.9,696.2 889.9,696.1 889.9,696.1 891.3,695.8 891.3,695.8 891.3,695.5 891.3,695.5 892.7,695.8 892.7,695.7 892.7,695.8 892.7,695.8 894.1,693.8 894.1,693.8 894.1,695.5 894.1,695.5 895.5,693.4 895.5,693.4 895.5,696.3 895.5,696.3 897.0,696.0 897.0,696.0 897.0,696.0 897.0,696.0 898.4,696.3 898.4,696.3 898.4,696.0 898.4,696.0 899.8,696.4 899.8,696.5 899.8,696.2 899.8,696.2 901.2,696.3 901.2,696.3 901.2,695.7 901.2,695.7 902.6,695.0 902.6,695.0 902.6,695.6 902.6,695.6 904.1,694.4 904.1,694.4 904.1,695.6 904.1,695.6 905.5,696.1 905.5,696.1 905.5,695.7 905.5,695.7 906.9,696.3 906.9,696.3 906.9,695.9 906.9,696.0 908.3,695.3 908.3,695.3 908.3,696.5 908.3,696.5 909.8,695.5 909.8,695.5 909.8,696.1 909.8,696.1 911.2,694.8 911.2,694.8 911.2,695.0 911.2,695.0 912.6,696.1 912.6,696.1 912.6,696.3 912.6,696.2 914.0,695.8 914.0,695.8 914.0,695.2 914.0,695.2 915.4,694.5 915.4,694.5 915.4,692.7 915.4,692.7 916.9,693.8 916.9,693.8 916.9,695.3 916.9,695.3 918.3,696.4 918.3,696.4 918.3,694.2 918.3,695.6 919.7,696.2 919.7,696.2 919.7,695.9 919.7,695.9 921.1,696.1 921.1,696.1 921.1,695.9 921.1,695.9 922.5,695.0 922.5,695.0 922.5,693.3 922.5,693.3 924.0,696.1 924.0,696.3 924.0,695.3 924.0,695.3 925.4,696.0 925.4,696.0 925.4,694.4 925.4,694.4 926.8,696.2 926.8,696.2 926.8,696.3 926.8,696.3 928.2,696.4 928.2,696.4 928.2,695.4 928.2,695.4 929.6,694.8 929.6,694.8 929.6,696.2 929.6,696.2 931.0,696.3 931.0,696.3 931.0,696.4 931.0,696.4 932.5,696.4 932.5,696.4 932.5,695.3 932.5,695.3 933.9,695.7 933.9,695.7 933.9,695.5 933.9,695.5 935.3,696.0 935.3,696.0 935.3,695.3 935.3,695.3 936.7,695.2 936.7,695.2 936.7,696.2 936.7,696.1 938.1,696.5 938.1,696.5 938.1,695.8 938.1,695.8 939.6,695.7 939.6,695.7 939.6,696.1 939.6,695.8 941.0,695.6 941.0,695.6 941.0,695.4 941.0,695.4 942.4,694.4 942.4,694.4 942.4,696.4 942.4,696.4 943.8,692.6 943.8,692.6 943.8,693.7 943.8,693.7 945.2,694.2 945.2,694.2 945.2,696.5 945.2,696.5 946.7,695.2 946.7,695.2 946.7,696.1 946.7,696.1 948.1,695.9 948.1,695.9 948.1,696.1 948.1,696.1 949.5,696.2 949.5,696.2 949.5,696.5 949.5,696.5 950.9,694.4 950.9,694.4 950.9,696.1 950.9,696.1 952.4,695.6 952.4,695.6 952.4,696.0 952.4,696.0 953.8,695.6 953.8,695.6 953.8,696.4 953.8,696.4 955.2,696.5 955.2,696.5 955.2,694.7 955.2,696.1 956.6,694.5 956.6,694.5 956.6,695.2 956.6,695.2 958.0,696.2 958.0,696.2 958.0,695.9 958.0,695.9 959.5,695.7 959.5,695.7 959.5,694.6 959.5,694.6 960.9,695.9 960.9,696.3 960.9,695.0 960.9,695.0 962.3,695.2 962.3,695.2 962.3,695.2 962.3,695.2 963.7,694.5 963.7,694.3 963.7,694.8 963.7,694.8 965.1,694.6 965.1,694.6 965.1,696.5 965.1,696.5 966.5,695.1 966.5,695.1 966.5,693.9 966.5,693.9 968.0,696.0 968.0,696.0 968.0,696.5 968.0,696.5 969.4,695.9 969.4,695.9 969.4,695.7 969.4,695.7 970.8,696.3 970.8,696.3 970.8,695.5 970.8,695.5 972.2,695.7 972.2,695.7 972.2,695.2 972.2,695.2 973.6,696.0 973.6,696.0 973.6,694.9 973.6,695.3 975.1,694.2 975.1,694.2 975.1,696.2 975.1,696.2 976.5,695.7 976.5,695.7 976.5,696.0 976.5,696.0 977.9,695.0 977.9,695.0 977.9,696.5 977.9,696.5 979.3,695.9 979.3,695.9 979.3,696.2 979.3,696.2 980.8,696.4 980.8,696.4 980.8,695.9 980.8,695.9 982.2,695.7 982.2,695.7 982.2,693.5 982.2,693.5 983.6,696.3 983.6,696.3 983.6,694.2 983.6,694.2 985.0,694.9 985.0,694.9 985.0,695.5 985.0,695.5 986.4,696.3 986.4,696.3 986.4,696.5 986.4,696.4 987.9,696.2 987.9,696.2 987.9,696.5 987.9,696.5 989.3,696.2 989.3,696.2 989.3,696.2 989.3,696.2 990.7,696.2 990.7,696.2 990.7,695.9 990.7,695.9 992.1,696.2 992.1,696.2 992.1,695.9 992.1,695.9 993.5,696.1 993.5,696.1 993.5,694.6 993.5,694.6 995.0,696.4 995.0,696.4 995.0,696.2 995.0,696.2 996.4,695.7 996.4,695.7 996.4,696.5 996.4,696.5 997.8,695.7 997.8,695.7 997.8,695.6 997.8,695.6 999.2,696.5 999.2,696.5 999.2,695.1 999.2,695.2 1000.6,694.6 1000.6,694.6 1000.6,696.2 1000.6,696.2 1002.0,695.9 1002.0,695.9 1002.0,695.5 1002.0,695.5 1003.5,695.8 1003.5,695.8 1003.5,696.1 1003.5,696.1 1004.9,696.1 1004.9,696.1 1004.9,694.2 1004.9,694.8 1006.3,693.5 1006.3,693.5 1006.3,693.6 1006.3,693.6 1007.7,695.5 1007.7,695.5 1007.7,694.2 1007.7,694.2 1009.1,696.3 1009.1,696.3 1009.1,695.7 1009.1,695.7 1010.6,696.4 1010.6,696.4 1010.6,693.8 1010.6,693.8 1012.0,693.2 1012.0,693.2 1012.0,696.1 1012.0,696.1 1013.4,695.6 1013.4,695.6 1013.4,696.0 1013.4,696.0 1014.8,695.9 1014.8,696.5 1014.8,695.5 1014.8,695.5 1016.2,696.4 1016.2,696.4 1016.2,696.4 1016.2,696.4 1017.7,696.2 1017.7,696.2 1017.7,694.1 1017.7,695.3 1019.1,696.0 1019.1,696.0 1019.1,695.6 1019.1,695.6 1020.5,695.8 1020.5,695.8 1020.5,694.7 1020.5,694.7 1021.9,696.1 1021.9,696.1 1021.9,695.8 1021.9,695.8 1023.4,694.5 1023.4,694.5 1023.4,696.0 1023.4,696.0 1024.8,695.4 1024.8,695.4 1024.8,695.2 1024.8,695.2 1026.2,696.1 1026.2,696.1 1026.2,695.5 1026.2,695.5 1027.6,696.4 1027.6,696.4 1027.6,696.0 1027.6,696.0 1029.0,696.0 1029.0,696.3 1029.0,695.6 1029.0,695.6"/>
<polyline stroke="#00ff00" points="76.2,468.3 76.2,468.3 76.2,470.6 76.2,470.6 77.6,466.8 77.6,466.8 77.6,471.0 77.6,471.0 79.0,469.7 79.0,469.7 79.0,470.9 79.0,470.9 80.5,469.7 80.5,469.7 80.5,471.8 80.5,471.8 81.9,472.4 81.9,473.2 81.9,471.8 81.9,471.8 83.3,467.5 83.3,467.5 83.3,470.4 83.3,470.4 84.7,469.9 84.7,469.9 84.7,464.7 84.7,464.7 86.1,470.2 86.1,470.2 86.1,467.4 86.1,467.4 87.6,468.2 87.6,468.2 87.6,467.3 87.6,467.7 89.0,468.9 89.0,468.9 89.0,468.9 89.0,468.9 90.4,465.0 90.4,465.0 90.4,468.0 90.4,468.0 91.8,465.5 91.8,465.5 91.8,465.6 91.8,465.6 93.2,467.8 93.2,467.8 93.2,470.6 93.2,470.6 94.7,470.0 94.7,470.0 94.7,466.9 94.7,466.9 96.1,466.6 96.1,466.6 96.1,463.7 96.1,463.7 97.5,473.6 97.5,473.6 97.5,468.6 97.5,468.6 98.9,470.1 98.9,470.1 98.9,469.2 98.9,469.2 100.3,472.0 100.3,472.0 100.3,463.6 100.3,463.6 101.8,468.1 101.8,468.1 101.8,470.0 101.8,470.0 103.2,467.6 103.2,467.6 103.2,469.5 103.2,469.5 104.6,465.9 104.6,465.9 104.6,465.7 104.6,465.7 106.0,466.9 106.0,466.9 106.0,470.5 106.0,470.2 107.4,467.0 107.4,467.0 107.4,469.0 107.4,469.0 108.9,467.2 108.9,467.2 108.9,468.7 108.9,468.7 110.3,466.2 110.3,466.2 110.3,468.6 110.3,468.6 111.7,467.0 111.7,467.0 111.7,468.6 111.7,468.6 113.1,467.3 113.1,466.9 113.1,469.1 113.1,469.1 114.5,468.1 114.5,467.9 114.5,470.2 114.5,470.2 116.0,467.0 116.0,467.0 116.0,470.6 116.0,470.6 117.4,471.9 117.4,471.9 117.4,468.4 117.4,468.4 118.8,472.9 118.8,473.5 118.8,470.0 118.8,470.0 120.2,466.0 120.2,466.0 120.2,465.5 120.2,465.5 121.6,468.7 121.6,468.7 121.6,473.1 121.6,473.1 123.1,470.4 123.1,470.4 123.1,470.9 123.1,470.9 124.5,468.7 124.5,467.6 124.5,470.1 124.5,470.1 125.9,466.9 125.9,466.9 125.9,468.9 125.9,468.9 127.3,470.5 127.3,470.5 127.3,469.5 127.3,469.5 128.8,470.6 128.8,470.6 128.8,468.5 128.8,468.5 130.2,470.8 130.2,470.8 130.2,470.4 130.2,470.4 131.6,465.9 131.6,465.9 131.6,468.0 131.6,468.0 133.0,471.0 133.0,471.0 133.0,470.2 133.0,470.2 134.4,470.2 134.4,470.2 134.4,470.0 134.4,470.0 135.8,471.0 135.8,471.0 135.8,471.4 135.8,471.4 137.3,468.5 137.3,466.3 137.3,471.2 137.3,471.2 138.7,469.3 138.7,469.3 138.7,469.9 138.7,469.9 140.1,469.4 140.1,469.4 140.1,467.4 140.1,467.4 141.5,466.6 141.5,466.6 141.5,471.9 141.5,471.9 143.0,472.2 143.0,472.2 143.0,470.3 143.0,470.3 144.4,470.4 144.4,470.4 144.4,469.0 144.4,469.0 145.8,470.0 145.8,470.0 145.8,469.0 145.8,469.0 147.2,468.8 147.2,468.8 147.2,470.3 147.2,470.3 148.6,473.5 148.6,473.5 148.6,466.0 148.6,466.0 150.1,471.2 150.1,471.4 150.1,467.4 150.1,467.4 151.5,470.6 151.5,470.6 151.5,470.2 151.5,470.2 152.9,469.0 152.9,469.0 152.9,468.9 152.9,468.9 154.3,467.0 154.3,467.0 154.3,473.5 154.3,473.5 155.7,474.9 155.7,474.9 155.7,469.4 155.7,469.4 157.2,470.6 157.2,470.6 157.2,470.8 157.2,470.8 158.6,468.3 158.6,468.3 158.6,469.5 158.6,469.5 160.0,471.1 160.0,471.1 160.0,469.1 160.0,469.1 161.4,466.4 161.4,466.4 161.4,467.4 161.4,467.4 162.8,470.5 162.8,470.5 162.8,469.3 162.8,469.4 164.2,472.8 164.2,472.8 164.2,470.2 164.2,470.2 165.7,468.6 165.7,468.6 165.7,469.9 165.7,469.9 167.1,474.4 167.1,474.4 167.1,467.7 167.1,467.7 168.5,473.7 168.5,473.7 168.5,471.8 168.5,471.8 169.9,469.4 169.9,469.4 169.9,472.9 169.9,472.9 171.3,470.5 171.3,470.5 171.3,469.0 171.3,469.0 172.8,473.7 172.8,473.7 172.8,470.4 172.8,470.4 174.2,470.7 174.2,470.7 174.2,469.4 174.2,469.4 175.6,470.3 175.6,470.3 175.6,469.3 175.6,469.3 177.0,471.1 177.0,471.1 177.0,472.1 177.0,472.1 178.5,472.2 178.5,472.2 178.5,472.4 178.5,472.4 179.9,473.0 179.9,473.0 179.9,471.5 179.9,471.5 181.3,468.8 181.3,475.8 181.3,466.8 181.3,466.8 182.7,468.6 182.7,468.6 182.7,470.6 182.7,470.6 184.1,466.7 184.1,466.7 184.1,472.9 184.1,472.9 185.5,468.1 185.5,468.1 185.5,467.1 185.5,467.1 187.0,468.6 187.0,468.6 187.0,470.0 187.0,470.0 188.4,469.7 188.4,469.7 188.4,472.1 188.4,472.1 189.8,469.7 189.8,469.7 189.8,470.4 189.8,470.4 191.2,468.1 191.2,468.1 191.2,471.0 191.2,471.0 192.7,468.6 192.7,466.3 192.7,472.6 192.7,472.6 194.1,468.0 194.1,468.0 194.1,468.0 194.1,468.0 195.5,468.4 195.5,468.4 195.5,471.3 195.5,471.3 196.9,467.1 196.9,467.1 196.9,469.3 196.9,469.3 198.3,471.2 198.3,471.2 198.3,473.7 198.3,473.7 199.8,469.5 199.8,470.2 199.8,468.4 199.8,468.4 201.2,473.8 201.2,473.8 201.2,469.8 201.2,469.8 202.6,469.9 202.6,469.9 202.6,470.3 202.6,470.3 204.0,468.3 204.0,468.3 204.0,470.0 204.0,470.0 205.4,467.7 205.4,467.7 205.4,472.9 205.4,469.8 206.8,469.7 206.8,469.7 206.8,472.3 206.8,472.3 208.3,467.8 208.3,467.8 208.3,472.7 208.3,472.7 209.7,472.9 209.7,472.9 209.7,468.6 209.7,468.6 211.1,471.4 211.1,469.9 211.1,471.7 211.1,471.7 212.5,468.5 212.5,468.5 212.5,468.4 212.5,468.4 213.9,471.2 213.9,471.2 213.9,469.6 213.9,469.6 215.4,470.4 215.4,470.4 215.4,471.9 215.4,471.9 216.8,472.3 216.8,472.3 216.8,471.2 216.8,471.2 218.2,467.4 218.2,467.4 218.2,471.4 218.2,469.5 219.6,472.1 219.6,472.1 219.6,469.7 219.6,469.7 221.1,472.7 221.1,472.7 221.1,471.0 221.1,471.0 222.5,470.1 222.5,470.1 222.5,470.6 222.5,470.6 223.9,466.8 223.9,466.8 223.9,471.1 223.9,470.3 225.3,468.0 225.3,468.0 225.3,470.8 225.3,470.8 226.7,470.7 226.7,470.7 226.7,470.7 226.7,470.7 228.2,469.9 228.2,469.9 228.2,471.5 228.2,471.5 229.6,471.5 229.6,471.5 229.6,470.2 229.6,470.2 231.0,470.0 231.0,470.0 231.0,469.0 231.0,469.0 232.4,471.2 232.4,471.2 232.4,469.1 232.4,469.1 233.8,467.5 233.8,467.5 233.8,470.5 233.8,470.5 235.2,472.1 235.2,472.1 235.2,469.6 235.2,469.6 236.7,471.7 236.7,471.7 236.7,468.2 236.7,468.2 238.1,470.7 238.1,470.7 238.1,469.9 238.1,469.9 239.5,471.3 239.5,471.3 239.5,465.0 239.5,465.0 240.9,471.6 240.9,471.6 240.9,471.4 240.9,471.4 242.3,468.4 242.3,468.4 242.3,472.0 242.3,469.8 243.8,470.4 243.8,470.4 243.8,471.6 243.8,471.6 245.2,472.5 245.2,472.5 245.2,470.4 245.2,470.4 246.6,471.3 246.6,471.3 246.6,470.9 246.6,470.9 248.0,468.8 248.0,468.8 248.0,473.0 248.0,473.0 249.4,471.5 249.4,470.4 249.4,472.0 249.4,472.0 250.9,471.1 250.9,471.1 250.9,469.1 250.9,469.1 252.3,471.9 252.3,471.9 252.3,470.2 252.3,470.2 253.7,471.2 253.7,471.2 253.7,471.8 253.7,471.8 255.1,471.8 255.1,473.5 255.1,470.5 255.1,470.5 256.6,469.8 256.6,469.8 256.6,468.8 256.6,468.8 258.0,469.0 258.0,469.0 258.0,471.3 258.0,471.3 259.4,470.9 259.4,470.9 259.4,468.6 259.4,468.6 260.8,469.0 260.8,469.0 260.8,472.9 260.8,472.9 262.2,468.5 262.2,468.5 262.2,470.8 262.2,470.8 263.6,467.3 263.6,467.3 263.6,469.7 263.6,469.7 265.1,472.6 265.1,472.6 265.1,467.9 265.1,467.9 266.5,472.2 266.5,472.2 266.5,466.8 266.5,466.8 267.9,470.2 267.9,470.2 267.9,468.2 267.9,470.1 269.3,469.7 269.3,469.7 269.3,471.6 269.3,471.6 270.7,470.6 270.7,470.6 270.7,470.4 270.7,470.4 272.2,469.2 272.2,469.2 272.2,470.2 272.2,470.2 273.6,468.8 273.6,468.8 273.6,469.1 273.6,469.1 275.0,471.1 275.0,471.1 275.0,474.1 275.0,474.1 276.4,470.0 276.4,470.0 276.4,473.5 276.4,473.5 277.8,468.4 277.8,468.4 277.8,469.1 277.8,469.1 279.3,471.1 279.3,471.1 279.3,471.5 279.3,471.5 280.7,472.9 280.7,472.9 280.7,469.8 280.7,469.8 282.1,473.5 282.1,473.5 282.1,470.6 282.1,470.6 283.5,465.3 283.5,465.3 283.5,468.4 283.5,468.4 284.9,469.3 284.9,469.3 284.9,470.4 284.9,470.4 286.4,471.1 286.4,469.7 286.4,472.4 286.4,472.4 287.8,468.5 287.8,468.5 287.8,470.1 287.8,470.1 289.2,471.8 289.2,471.8 289.2,468.2 289.2,468.2 290.6,472.3 290.6,472.3 290.6,471.8 290.6,471.8 292.0,469.9 292.0,469.9 292.0,470.2 292.0,470.0 293.5,470.2 293.5,470.2 293.5,472.3 293.5,472.3 294.9,471.1 294.9,471.1 294.9,467.8 294.9,467.8 296.3,467.5 296.3,467.5 296.3,471.2 296.3,471.2 297.7,465.7 297.7,465.7 297.7,467.5 297.7,467.5 299.1,469.1 299.1,469.1 299.1,472.5 299.1,472.5 300.6,470.5 300.6,470.5 300.6,476.1 300.6,476.1 302.0,470.5 302.0,470.5 302.0,471.6 302.0,471.6 303.4,471.9 303.4,471.9 303.4,470.0 303.4,470.0 304.8,471.8 304.8,471.8 304.8,470.6 304.8,470.6 306.2,469.1 306.2,469.1 306.2,469.4 306.2,469.4 307.7,471.5 307.7,471.5 307.7,470.1 307.7,470.1 309.1,470.8 309.1,470.8 309.1,470.6 309.1,470.6 310.5,470.2 310.5,470.2 310.5,472.5 310.5,472.5 311.9,471.0 311.9,471.0 311.9,469.2 311.9,469.2 313.3,469.0 313.3,471.2 313.3,467.6 313.3,467.6 314.8,469.3 314.8,469.3 314.8,471.9 314.8,471.9 316.2,469.6 316.2,469.6 316.2,469.1 316.2,469.1 317.6,472.2 317.6,472.2 317.6,465.8 317.6,470.0 319.0,469.4 319.0,469.4 319.0,469.3 319.0,469.3 320.4,471.7 320.4,471.7 320.4,472.6 320.4,472.6 321.9,472.0 321.9,472.0 321.9,471.2 321.9,471.2 323.3,470.7 323.3,470.7 323.3,469.8 323.3,470.2 324.7,467.5 324.7,467.5 324.7,469.3 324.7,469.3 326.1,471.1 326.1,471.1 326.1,470.0 326.1,470.0 327.5,471.5 327.5,471.5 327.5,467.6 327.5,469.2 329.0,468.5 329.0,468.5 329.0,471.9 329.0,469.7 330.4,469.7 330.4,469.7 330.4,468.2 330.4,468.2 331.8,469.3 331.8,469.3 331.8,468.5 331.8,468.5 333.2,469.2 333.2,469.2 333.2,473.7 333.2,473.7 334.6,468.3 334.6,468.3 334.6,469.7 334.6,469.7 336.1,468.7 336.1,472.4 336.1,468.6 336.1,468.6 337.5,468.8 337.5,468.8 337.5,470.7 337.5,470.7 338.9,472.8 338.9,472.8 338.9,470.5 338.9,470.5 340.3,469.2 340.3,469.2 340.3,466.0 340.3,466.0 341.7,464.3 341.7,464.3 341.7,470.2 341.7,470.2 343.2,472.0 343.2,472.0 343.2,470.9 343.2,470.9 344.6,469.7 344.6,469.7 344.6,472.2 344.6,472.2 346.0,472.9 346.0,472.9 346.0,469.1 346.0,469.1 347.4,471.6 347.4,472.1 347.4,468.9 347.4,468.9 348.8,471.0 348.8,471.0 348.8,470.1 348.8,470.1 350.3,472.0 350.3,472.0 350.3,471.9 350.3,471.9 351.7,466.8 351.7,466.8 351.7,469.8 351.7,469.8 353.1,472.3 353.1,472.3 353.1,471.0 353.1,471.0 354.5,468.5 354.5,469.4 354.5,468.4 354.5,468.4 355.9,470.7 355.9,470.7 355.9,468.1 355.9,468.1 357.4,472.1 357.4,472.1 357.4,471.5 357.4,471.5 358.8,472.8 358.8,472.8 358.8,470.9 358.8,470.9 360.2,471.8 360.2,471.8 360.2,471.1 360.2,471.1 361.6,467.1 361.6,467.1 361.6,471.0 361.6,471.0 363.0,468.9 363.0,468.9 363.0,466.4 363.0,466.4 364.5,472.6 364.5,472.6 364.5,470.2 364.5,470.2 365.9,467.6 365.9,467.6 365.9,470.9 365.9,470.9 367.3,470.5 367.3,472.5 367.3,468.4 367.3,471.6 368.7,468.7 368.7,468.7 368.7,470.9 368.7,470.9 370.1,471.2 370.1,471.2 370.1,469.4 370.1,469.4 371.6,474.1 371.6,474.1 371.6,467.4 371.6,467.4 373.0,467.9 373.0,467.9 373.0,469.4 373.0,468.8 374.4,471.9 374.4,471.9 374.4,469.3 374.4,469.3 375.8,472.2 375.8,472.2 375.8,469.5 375.8,469.5 377.2,471.4 377.2,471.4 377.2,471.4 377.2,471.4 378.7,470.4 378.7,470.4 378.7,471.3 378.7,470.7 380.1,473.4 380.1,473.4 380.1,473.8 380.1,473.8 381.5,469.7 381.5,469.7 381.5,470.9 381.5,470.9 382.9,472.0 382.9,472.0 382.9,471.1 382.9,471.1 384.3,473.2 384.3,473.2 384.3,474.2 384.3,474.2 385.8,467.2 385.8,467.2 385.8,472.2 385.8,472.2 387.2,471.0 387.2,471.0 387.2,469.1 387.2,469.1 388.6,469.8 388.6,470.4 388.6,467.2 388.6,467.2 390.0,468.7 390.0,468.7 390.0,472.4 390.0,472.4 391.4,471.8 391.4,471.8 391.4,469.8 391.4,469.8 392.9,467.5 392.9,467.5 392.9,467.6 392.9,467.6 394.3,468.9 394.3,468.9 394.3,471.5 394.3,471.5 395.7,471.4 395.7,471.4 395.7,472.1 395.7,472.1 397.1,471.6 397.1,471.6 397.1,470.4 397.1,470.4 398.5,469.0 398.5,469.0 398.5,472.0 398.5,472.0 400.0,469.6 400.0,469.6 400.0,467.5 400.0,467.5 401.4,470.8 401.4,470.8 401.4,470.3 401.4,470.3 402.8,468.5 402.8,468.5 402.8,469.8 402.8,469.8 404.2,470.7 404.2,468.4 404.2,471.2 404.2,471.2 405.6,470.5 405.6,470.5 405.6,468.9 405.6,468.9 407.1,470.5 407.1,470.5 407.1,468.2 407.1,468.2 408.5,471.0 408.5,471.0 408.5,469.4 408.5,469.4 409.9,470.7 409.9,470.7 409.9,468.8 409.9,469.0 411.3,469.9 411.3,469.9 411.3,471.4 411.3,471.4 412.7,470.3 412.7,470.3 412.7,466.5 412.7,466.5 414.2,471.1 414.2,471.1 414.2,469.9 414.2,469.9 415.6,471.0 415.6,471.0 415.6,471.8 415.6,471.3 417.0,469.0 417.0,469.0 417.0,469.5 417.0,469.5 418.4,470.8 418.4,470.8 418.4,471.6 418.4,471.6 419.8,468.9 419.8,468.9 419.8,469.1 419.8,469.1 421.3,468.6 421.3,468.6 421.3,470.6 421.3,470.6 422.7,468.9 422.7,473.5 422.7,468.4 422.7,468.4 424.1,471.8 424.1,471.8 424.1,470.9 424.1,470.9 425.5,469.1 425.5,469.1 425.5,466.2 425.5,466.2 426.9,472.1 426.9,472.1 426.9,469.9 426.9,469.9 428.4,467.1 428.4,467.1 428.4,474.1 428.4,471.0 429.8,472.2 429.8,472.2 429.8,469.5 429.8,469.5 431.2,467.2 431.2,467.2 431.2,468.4 431.2,468.4 432.6,471.0 432.6,471.0 432.6,466.6 432.6,466.6 434.0,469.0 434.0,469.0 434.0,471.4 434.0,471.4 435.5,471.3 435.5,471.3 435.5,465.9 435.5,465.9 436.9,469.3 436.9,469.3 436.9,471.5 436.9,471.5 438.3,470.9 438.3,470.9 438.3,469.0 438.3,469.0 439.7,470.1 439.7,470.1 439.7,470.4 439.7,470.4 441.1,468.9 441.1,468.9 441.1,468.3 441.1,468.4 442.6,472.3 442.6,472.3 442.6,469.2 442.6,469.2 444.0,469.2 444.0,469.2 444.0,470.1 444.0,470.1 445.4,470.1 445.4,470.1 445.4,469.0 445.4,469.0 446.8,466.0 446.8,466.0 446.8,469.9 446.8,467.7 448.2,471.6 448.2,471.6 448.2,468.5 448.2,468.5 449.7,472.2 449.7,472.2 449.7,469.8 449.7,471.3 451.1,469.1 451.1,469.5 451.1,468.1 451.1,468.1 452.5,468.0 452.5,468.0 452.5,468.0 452.5,468.0 453.9,469.7 453.9,466.9 453.9,470.0 453.9,470.0 455.3,468.1 455.3,468.1 455.3,469.3 455.3,469.3 456.8,466.9 456.8,468.4 456.8,465.8 456.8,465.8 458.2,467.3 458.2,467.3 458.2,467.9 458.2,467.9 459.6,466.6 459.6,466.6 459.6,468.1 459.6,468.1 461.0,468.1 461.0,468.1 461.0,464.9 461.0,464.9 462.4,467.3 462.4,467.3 462.4,467.4 462.4,467.4 463.9,466.4 463.9,466.4 463.9,466.2 463.9,466.2 465.3,470.3 465.3,470.3 465.3,468.7 465.3,468.9 466.7,469.1 466.7,469.1 466.7,465.9 466.7,465.9 468.1,466.9 468.1,466.9 468.1,464.6 468.1,464.6 469.5,467.4 469.5,467.4 469.5,464.3 469.5,464.3 471.0,465.3 471.0,465.3 471.0,468.0 471.0,468.0 472.4,467.7 472.4,467.7 472.4,465.4 472.4,465.5 473.8,468.7 473.8,468.7 473.8,467.4 473.8,467.4 475.2,465.9 475.2,465.9 475.2,466.8 475.2,466.8 476.6,466.8 476.6,466.8 476.6,467.0 476.6,467.0 478.1,465.7 478.1,463.4 478.1,466.8 478.1,466.8 479.5,466.5 479.5,466.5 479.5,467.9 479.5,467.9 480.9,467.8 480.9,467.8 480.9,465.6 480.9,465.6 482.3,468.6 482.3,468.6 482.3,465.2 482.3,465.2 483.7,467.6 483.7,467.6 483.7,464.4 483.7,464.4 485.2,466.1 485.2,466.1 485.2,469.5 485.2,466.4 486.6,466.9 486.6,466.9 486.6,465.7 486.6,465.7 488.0,466.9 488.0,466.9 488.0,467.1 488.0,467.1 489.4,467.3 489.4,467.3 489.4,468.2 489.4,468.2 490.8,466.2 490.8,466.2 490.8,468.4 490.8,468.4 492.3,467.1 492.3,467.1 492.3,465.2 492.3,465.2 493.7,468.1 493.7,468.1 493.7,467.2 493.7,467.2 495.1,465.2 495.1,465.2 495.1,465.2 495.1,465.2 496.5,465.8 496.5,465.8 496.5,467.6 496.5,466.9 497.9,467.9 497.9,467.9 497.9,470.1 497.9,470.1 499.4,469.1 499.4,469.1 499.4,466.8 499.4,466.8 500.8,465.7 500.8,465.7 500.8,468.7 500.8,468.7 502.2,465.7 502.2,465.7 502.2,465.7 502.2,465.7 503.6,466.7 503.6,470.1 503.6,466.6 503.6,466.6 505.0,467.4 505.0,467.4 505.0,463.2 505.0,463.2 506.5,466.6 506.5,466.6 506.5,467.2 506.5,467.2 507.9,468.2 507.9,468.2 507.9,467.8 507.9,467.8 509.3,467.0 509.3,467.0 509.3,471.0 509.3,468.9 510.7,468.4 510.7,468.4 510.7,468.0 510.7,468.0 512.1,468.3 512.1,468.3 512.1,466.5 512.1,466.5 513.6,466.3 513.6,466.3 513.6,468.1 513.6,468.1 515.0,465.6 515.0,465.6 515.0,468.8 515.0,467.4 516.4,469.1 516.4,469.1 516.4,466.9 516.4,466.9 517.8,467.2 517.8,467.2 517.8,467.6 517.8,467.6 519.2,470.1 519.2,470.1 519.2,470.3 519.2,470.3 520.7,468.1 520.7,468.1 520.7,468.7 520.7,468.7 522.1,467.4 522.1,467.4 522.1,470.6 522.1,469.0 523.5,467.8 523.5,467.8 523.5,466.9 523.5,466.9 524.9,469.5 524.9,469.5 524.9,471.5 524.9,471.5 526.4,469.0 526.4,469.0 526.4,467.7 526.4,467.7 527.8,467.8 527.8,465.8 527.8,470.3 527.8,470.3 529.2,468.3 529.2,468.3 529.2,466.6 529.2,466.6 530.6,465.0 530.6,465.0 530.6,469.7 530.6,469.7 532.0,469.6 532.0,469.6 532.0,471.3 532.0,471.3 533.5,470.8 533.5,470.8 533.5,467.0 533.5,467.0 534.9,469.7 534.9,469.7 534.9,468.7 534.9,468.7 536.3,469.6 536.3,469.6 536.3,467.3 536.3,467.3 537.7,469.2 537.7,469.2 537.7,469.3 537.7,469.3 539.1,467.8 539.1,467.8 539.1,467.2 539.1,467.2 540.5,466.6 540.5,466.6 540.5,471.4 540.5,469.7 542.0,466.1 542.0,466.1 542.0,469.7 542.0,467.4 543.4,470.1 543.4,470.1 543.4,472.3 543.4,472.3 544.8,470.3 544.8,470.3 544.8,466.2 544.8,466.2 546.2,471.4 546.2,470.4 546.2,472.6 546.2,472.6 547.7,470.6 547.7,470.6 547.7,470.9 547.7,470.9 549.1,467.4 549.1,467.4 549.1,472.0 549.1,472.0 550.5,468.2 550.5,468.2 550.5,467.2 550.5,467.2 551.9,470.7 551.9,470.7 551.9,475.5 551.9,472.1 553.3,471.7 553.3,471.7 553.3,470.6 553.3,470.6 554.8,470.5 554.8,470.5 554.8,471.3 554.8,471.3 556.2,470.6 556.2,470.6 556.2,470.7 556.2,470.7 557.6,467.3 557.6,467.3 557.6,470.0 557.6,470.0 559.0,469.6 559.0,470.8 559.0,469.0 559.0,469.0 560.4,471.4 560.4,471.4 560.4,471.2 560.4,471.2 561.9,468.6 561.9,468.6 561.9,470.2 561.9,470.2 563.3,470.9 563.3,470.9 563.3,466.8 563.3,469.8 564.7,470.5 564.7,470.2 564.7,471.7 564.7,471.7 566.1,470.6 566.1,470.6 566.1,472.4 566.1,472.4 567.5,469.4 567.5,469.4 567.5,472.5 567.5,472.5 569.0,469.8 569.0,469.8 569.0,470.9 569.0,470.9 570.4,467.6 570.4,467.6 570.4,469.1 570.4,469.1 571.8,471.8 571.8,471.8 571.8,470.2 571.8,470.2 573.2,468.5 573.2,468.5 573.2,471.3 573.2,471.3 574.6,468.8 574.6,468.8 574.6,472.2 574.6,472.2 576.0,471.1 576.0,471.1 576.0,469.4 576.0,469.4 577.5,469.1 577.5,469.1 577.5,470.7 577.5,470.7 578.9,470.6 578.9,470.6 578.9,468.0 578.9,468.0 580.3,470.7 580.3,470.7 580.3,468.7 580.3,468.7 581.7,472.8 581.7,472.8 581.7,467.6 581.7,467.6 583.2,471.5 583.2,471.5 583.2,468.6 583.2,470.7 584.6,471.8 584.6,471.8 584.6,470.9 584.6,470.9 586.0,468.6 586.0,468.6 586.0,468.1 586.0,468.1 587.4,473.5 587.4,473.5 587.4,469.1 587.4,469.1 588.8,471.3 588.8,471.3 588.8,471.9 588.8,471.9 590.2,467.9 590.2,467.9 590.2,472.9 590.2,470.0 591.7,469.9 591.7,469.9 591.7,468.9 591.7,468.9 593.1,470.5 593.1,470.5 593.1,470.9 593.1,470.9 594.5,471.7 594.5,471.7 594.5,471.7 594.5,471.7 595.9,471.6 595.9,471.6 595.9,470.1 595.9,470.1 597.4,470.4 597.4,470.4 597.4,470.5 597.4,470.5 598.8,472.0 598.8,472.0 598.8,471.5 598.8,471.5 600.2,470.0 600.2,470.0 600.2,469.0 600.2,469.0 601.6,467.6 601.6,467.6 601.6,470.2 601.6,470.2 603.0,467.6 603.0,467.6 603.0,469.7 603.0,469.7 604.5,470.6 604.5,470.6 604.5,470.5 604.5,470.5 605.9,468.3 605.9,468.3 605.9,469.3 605.9,469.3 607.3,468.2 607.3,471.4 607.3,467.7 607.3,467.7 608.7,473.8 608.7,473.8 608.7,469.4 608.7,472.3 610.1,470.3 610.1,470.3 610.1,470.3 610.1,470.3 611.5,471.7 611.5,471.7 611.5,467.6 611.5,467.6 613.0,468.6 613.0,468.6 613.0,472.3 613.0,472.3 614.4,471.6 614.4,472.8 614.4,471.0 614.4,471.0 615.8,469.6 615.8,469.6 615.8,471.4 615.8,471.4 617.2,469.6 617.2,469.6 617.2,470.1 617.2,470.1 618.6,469.0 618.6,469.0 618.6,473.1 618.6,473.1 620.1,471.2 620.1,471.2 620.1,470.4 620.1,470.8 621.5,469.5 621.5,469.5 621.5,469.7 621.5,469.7 622.9,470.4 622.9,470.4 622.9,470.7 622.9,470.7 624.3,467.3 624.3,467.3 624.3,472.0 624.3,472.0 625.8,467.4 625.8,467.4 625.8,468.9 625.8,468.9 627.2,468.3 627.2,470.4 627.2,467.8 627.2,467.8 628.6,471.6 628.6,471.6 628.6,471.2 628.6,471.2 630.0,471.5 630.0,471.5 630.0,471.3 630.0,471.3 631.4,470.4 631.4,470.4 631.4,468.7 631.4,468.9 632.9,469.6 632.9,470.8 632.9,468.5 632.9,469.8 634.3,469.5 634.3,469.5 634.3,471.4 634.3,471.4 635.7,470.9 635.7,470.9 635.7,469.6 635.7,469.6 637.1,471.3 637.1,471.3 637.1,472.9 637.1,472.9 638.5,471.7 638.5,471.7 638.5,470.4 638.5,470.4 640.0,470.4 640.0,470.4 640.0,468.9 640.0,469.5 641.4,470.6 641.4,470.6 641.4,473.8 641.4,473.8 642.8,468.3 642.8,468.3 642.8,468.6 642.8,468.6 644.2,468.6 644.2,468.6 644.2,468.7 644.2,468.7 645.6,469.4 645.6,470.0 645.6,468.6 645.6,468.6 647.0,469.3 647.0,469.3 647.0,467.6 647.0,467.6 648.5,469.9 648.5,469.9 648.5,470.5 648.5,470.5 649.9,469.5 649.9,469.5 649.9,468.1 649.9,468.1 651.3,473.4 651.3,473.4 651.3,469.1 651.3,470.8 652.7,467.3 652.7,467.3 652.7,469.2 652.7,469.2 654.1,469.7 654.1,469.7 654.1,470.1 654.1,470.1 655.6,470.4 655.6,470.4 655.6,470.3 655.6,470.3 657.0,469.2 657.0,469.2 657.0,469.0 657.0,469.0 658.4,469.9 658.4,469.9 658.4,469.3 658.4,469.4 659.8,470.7 659.8,470.7 659.8,470.5 659.8,470.5 661.2,473.5 661.2,473.5 661.2,471.6 661.2,471.6 662.7,470.1 662.7,470.1 662.7,469.8 662.7,469.8 664.1,471.3 664.1,471.3 664.1,468.1 664.1,468.1 665.5,470.8 665.5,470.8 665.5,468.0 665.5,468.0 666.9,469.7 666.9,469.7 666.9,470.5 666.9,470.5 668.4,471.0 668.4,471.0 668.4,469.0 668.4,469.0 669.8,469.7 669.8,469.7 669.8,472.8 669.8,472.8 671.2,472.8 671.2,472.8 671.2,471.3 671.2,471.3 672.6,472.4 672.6,472.4 672.6,469.5 672.6,469.5 674.0,469.9 674.0,469.9 674.0,474.6 674.0,474.6 675.5,471.3 675.5,471.3 675.5,468.2 675.5,468.2 676.9,471.7 676.9,471.7 676.9,469.1 676.9,470.0 678.3,468.7 678.3,468.7 678.3,469.7 678.3,469.7 679.7,471.6 679.7,471.6 679.7,468.5 679.7,468.5 681.1,469.4 681.1,469.4 681.1,470.2 681.1,470.2 682.5,471.0 682.5,472.5 682.5,470.4 682.5,470.4 684.0,471.6 684.0,471.6 684.0,468.2 684.0,468.2 685.4,469.5 685.4,469.5 685.4,467.1 685.4,467.1 686.8,471.7 686.8,471.7 686.8,469.4 686.8,471.0 688.2,468.8 688.2,468.8 688.2,468.9 688.2,468.9 689.6,469.3 689.6,469.3 689.6,469.8 689.6,469.8 691.1,467.9 691.1,467.9 691.1,470.9 691.1,470.9 692.5,467.8 692.5,467.8 692.5,468.2 692.5,468.2 693.9,468.7 693.9,468.7 693.9,472.5 693.9,472.5 695.3,471.2 695.3,468.5 695.3,473.8 695.3,473.8 696.8,471.2 696.8,471.2 696.8,468.5 696.8,468.5 698.2,468.0 698.2,468.0 698.2,470.7 698.2,470.7 699.6,468.0 699.6,468.0 699.6,470.4 699.6,470.4 701.0,471.3 701.0,471.3 701.0,469.1 701.0,469.2 702.4,469.1 702.4,469.1 702.4,471.9 702.4,470.8 703.9,471.3 703.9,471.3 703.9,470.2 703.9,470.2 705.3,469.4 705.3,469.4 705.3,470.6 705.3,470.6 706.7,471.4 706.7,471.4 706.7,470.0 706.7,470.0 708.1,469.9 708.1,469.0 708.1,472.0 708.1,472.0 709.5,471.2 709.5,471.2 709.5,470.5 709.5,470.5 711.0,470.5 711.0,470.5 711.0,470.7 711.0,470.7 712.4,470.3 712.4,470.3 712.4,471.5 712.4,471.5 713.8,470.5 713.8,471.2 713.8,470.3 713.8,470.3 715.2,469.5 715.2,469.5 715.2,471.7 715.2,471.7 716.6,471.8 716.6,471.8 716.6,472.3 716.6,472.3 718.0,469.7 718.0,469.7 718.0,469.4 718.0,469.4 719.5,467.9 719.5,467.9 719.5,470.3 719.5,469.2 720.9,471.8 720.9,471.8 720.9,468.8 720.9,471.5 722.3,468.7 722.3,468.7 722.3,471.9 722.3,471.9 723.7,469.7 723.7,469.7 723.7,470.8 723.7,470.8 725.1,471.2 725.1,471.2 725.1,468.5 725.1,468.5 726.6,473.2 726.6,473.2 726.6,468.5 726.6,469.9 728.0,470.5 728.0,470.5 728.0,470.8 728.0,470.8 729.4,471.6 729.4,471.6 729.4,471.8 729.4,471.8 730.8,468.5 730.8,468.5 730.8,470.1 730.8,470.1 732.2,467.6 732.2,467.6 732.2,470.6 732.2,469.4 733.7,470.7 733.7,470.7 733.7,468.1 733.7,468.1 735.1,468.8 735.1,468.8 735.1,470.9 735.1,470.9 736.5,471.2 736.5,471.2 736.5,469.9 736.5,469.9 737.9,469.7 737.9,469.7 737.9,469.5 737.9,469.5 739.4,469.5 739.4,469.5 739.4,473.6 739.4,471.2 740.8,468.2 740.8,468.2 740.8,469.7 740.8,469.7 742.2,469.0 742.2,469.0 742.2,470.5 742.2,470.5 743.6,473.0 743.6,473.0 743.6,471.9 743.6,471.9 745.0,470.5 745.0,470.8 745.0,470.1 745.0,470.1 746.5,469.0 746.5,469.0 746.5,469.5 746.5,469.5 747.9,471.7 747.9,471.7 747.9,468.3 747.9,468.3 749.3,471.9 749.3,471.9 749.3,473.3 749.3,473.3 750.7,470.4 750.7,470.4 750.7,471.7 750.7,470.5 752.1,469.9 752.1,469.9 752.1,467.7 752.1,467.7 753.5,469.4 753.5,469.4 753.5,472.3 753.5,472.3 755.0,470.4 755.0,470.4 755.0,469.9 755.0,469.9 756.4,472.3 756.4,472.3 756.4,467.8 756.4,467.8 757.8,469.6 757.8,469.6 757.8,472.2 757.8,472.2 759.2,471.8 759.2,471.8 759.2,469.9 759.2,469.9 760.6,471.4 760.6,471.4 760.6,470.2 760.6,470.2 762.1,473.4 762.1,473.4 762.1,471.3 762.1,471.3 763.5,471.9 763.5,471.9 763.5,471.0 763.5,471.7 764.9,471.2 764.9,471.2 764.9,470.5 764.9,470.5 766.3,469.8 766.3,469.8 766.3,470.0 766.3,470.0 767.8,470.2 767.8,470.2 767.8,471.4 767.8,471.4 769.2,471.2 769.2,472.2 769.2,470.2 769.2,470.2 770.6,470.6 770.6,470.6 770.6,467.7 770.6,467.7 772.0,469.5 772.0,469.5 772.0,469.6 772.0,469.6 773.4,470.4 773.4,470.4 773.4,470.5 773.4,470.5 774.9,469.8 774.9,469.8 774.9,470.9 774.9,470.9 776.3,469.8 776.3,470.3 776.3,469.6 776.3,469.6 777.7,470.6 777.7,470.6 777.7,469.6 777.7,469.6 779.1,470.1 779.1,470.1 779.1,469.3 779.1,469.3 780.5,468.6 780.5,468.6 780.5,472.0 780.5,472.0 782.0,469.4 782.0,469.4 782.0,471.7 782.0,470.3 783.4,470.4 783.4,470.4 783.4,469.2 783.4,469.2 784.8,468.2 784.8,468.2 784.8,471.3 784.8,471.3 786.2,470.6 786.2,470.6 786.2,468.2 786.2,468.2 787.6,469.4 787.6,469.4 787.6,471.7 787.6,470.9 789.0,470.3 789.0,470.3 789.0,471.7 789.0,471.7 790.5,470.8 790.5,470.8 790.5,469.4 790.5,469.4 791.9,468.6 791.9,468.6 791.9,471.5 791.9,471.5 793.3,468.2 793.3,468.2 793.3,471.8 793.3,471.8 794.7,468.1 794.7,468.1 794.7,471.8 794.7,471.8 796.1,471.4 796.1,471.4 796.1,471.7 796.1,471.7 797.6,468.4 797.6,468.4 797.6,469.9 797.6,469.9 799.0,470.2 799.0,470.2 799.0,469.8 799.0,469.8 800.4,469.5 800.4,469.5 800.4,470.6 800.4,470.3 801.8,469.1 801.8,469.1 801.8,470.2 801.8,470.2 803.2,470.0 803.2,470.0 803.2,468.4 803.2,468.4 804.7,470.4 804.7,470.4 804.7,470.9 804.7,470.9 806.1,472.2 806.1,472.2 806.1,469.6 806.1,469.6 807.5,471.9 807.5,471.9 807.5,470.1 807.5,470.1 808.9,470.4 808.9,470.4 808.9,470.1 808.9,470.1 810.4,470.5 810.4,470.5 810.4,470.5 810.4,470.5 811.8,468.6 811.8,468.6 811.8,471.1 811.8,471.1 813.2,469.1 813.2,469.1 813.2,471.5 813.2,471.5 814.6,470.1 814.6,470.1 814.6,469.5 814.6,469.5 816.0,472.4 816.0,472.4 816.0,472.1 816.0,472.1 817.5,472.1 817.5,472.1 817.5,471.6 817.5,471.6 818.9,471.0 818.9,471.0 818.9,468.6 818.9,469.2 820.3,469.3 820.3,469.3 820.3,471.7 820.3,471.7 821.7,473.3 821.7,473.3 821.7,471.3 821.7,471.3 823.1,470.1 823.1,470.1 823.1,472.0 823.1,472.0 824.5,470.3 824.5,470.3 824.5,470.1 824.5,470.3 826.0,471.7 826.0,471.7 826.0,471.9 826.0,471.9 827.4,470.7 827.4,470.7 827.4,469.1 827.4,469.1 828.8,471.4 828.8,471.4 828.8,469.4 828.8,469.4 830.2,469.2 830.2,469.6 830.2,469.0 830.2,469.0 831.6,469.4 831.6,472.5 831.6,469.1 831.6,469.1 833.1,470.2 833.1,470.2 833.1,468.5 833.1,468.5 834.5,469.3 834.5,469.3 834.5,469.9 834.5,469.9 835.9,470.5 835.9,470.5 835.9,470.4 835.9,470.4 837.3,470.2 837.3,469.4 837.3,472.1 837.3,472.1 838.8,471.2 838.8,471.2 838.8,469.6 838.8,469.6 840.2,470.0 840.2,470.0 840.2,469.8 840.2,469.8 841.6,470.3 841.6,470.3 841.6,469.5 841.6,469.5 843.0,471.2 843.0,471.2 843.0,471.5 843.0,471.5 844.4,470.2 844.4,470.8 844.4,469.6 844.4,469.6 845.9,471.9 845.9,471.9 845.9,469.8 845.9,469.8 847.3,470.9 847.3,470.9 847.3,470.8 847.3,470.8 848.7,469.2 848.7,468.1 848.7,469.4 848.7,469.4 850.1,468.7 850.1,468.7 850.1,470.2 850.1,470.2 851.5,470.2 851.5,470.2 851.5,469.7 851.5,469.7 853.0,472.4 853.0,472.4 853.0,468.8 853.0,468.8 854.4,471.5 854.4,471.5 854.4,471.2 854.4,471.2 855.8,469.3 855.8,469.3 855.8,472.8 855.8,471.9 857.2,470.7 857.2,470.7 857.2,470.9 857.2,470.9 858.6,470.4 858.6,470.4 858.6,471.1 858.6,471.1 860.0,469.7 860.0,469.7 860.0,471.7 860.0,471.7 861.5,471.6 861.5,471.6 861.5,469.9 861.5,469.9 862.9,468.5 862.9,468.5 862.9,471.7 862.9,470.6 864.3,469.3 864.3,469.3 864.3,472.1 864.3,470.6 865.7,468.5 865.7,468.5 865.7,471.5 865.7,471.5 867.1,468.9 867.1,468.9 867.1,468.0 867.1,468.0 868.6,469.4 868.6,470.1 868.6,468.1 868.6,468.1 870.0,473.2 870.0,473.2 870.0,470.7 870.0,470.7 871.4,470.6 871.4,470.6 871.4,470.1 871.4,470.1 872.8,470.7 872.8,470.7 872.8,469.3 872.8,469.3 874.2,470.0 874.2,471.7 874.2,470.0 874.2,470.0 875.7,470.6 875.7,470.6 875.7,470.1 875.7,470.1 877.1,472.6 877.1,472.6 877.1,471.8 877.1,471.8 878.5,470.9 878.5,470.9 878.5,471.3 878.5,471.3 879.9,470.8 879.9,470.8 879.9,470.7 879.9,470.7 881.4,473.7 881.4,473.7 881.4,467.7 881.4,470.2 882.8,470.4 882.8,470.4 882.8,471.5 882.8,471.5 884.2,468.5 884.2,468.5 884.2,469.6 884.2,469.6 885.6,470.8 885.6,470.8 885.6,468.0 885.6,468.0 887.0,471.0 887.0,473.0 887.0,469.2 887.0,469.2 888.5,467.9 888.5,467.9 888.5,471.2 888.5,471.2 889.9,470.0 889.9,470.0 889.9,472.9 889.9,472.9 891.3,469.9 891.3,469.9 891.3,469.6 891.3,469.6 892.7,471.8 892.7,471.9 892.7,471.7 892.7,471.7 894.1,473.1 894.1,473.1 894.1,471.1 894.1,471.1 895.5,470.4 895.5,470.4 895.5,469.7 895.5,469.7 897.0,470.2 897.0,470.2 897.0,469.8 897.0,469.8 898.4,469.7 898.4,469.7 898.4,469.1 898.4,469.1 899.8,467.5 899.8,467.5 899.8,470.9 899.8,470.9 901.2,468.3 901.2,468.3 901.2,471.4 901.2,471.4 902.6,467.0 902.6,467.0 902.6,469.8 902.6,469.8 904.1,470.5 904.1,470.5 904.1,469.9 904.1,469.9 905.5,471.3 905.5,471.3 905.5,471.8 905.5,471.8 906.9,470.5 906.9,472.3 906.9,469.9 906.9,469.9 908.3,469.7 908.3,469.7 908.3,469.6 908.3,469.6 909.8,469.5 909.8,469.5 909.8,469.9 909.8,469.9 911.2,468.8 911.2,468.8 911.2,468.4 911.2,468.4 912.6,472.2 912.6,472.2 912.6,471.1 912.6,471.5 914.0,470.8 914.0,470.8 914.0,469.1 914.0,469.1 915.4,471.9 915.4,471.9 915.4,471.3 915.4,471.3 916.9,468.9 916.9,468.9 916.9,471.3 916.9,471.3 918.3,467.9 918.3,467.9 918.3,471.6 918.3,469.3 919.7,471.6 919.7,471.6 919.7,469.4 919.7,469.4 921.1,471.7 921.1,471.7 921.1,470.8 921.1,470.8 922.5,471.1 922.5,471.1 922.5,470.7 922.5,470.7 924.0,471.0 924.0,471.0 924.0,471.3 924.0,471.3 925.4,467.7 925.4,467.7 925.4,469.9 925.4,469.9 926.8,469.7 926.8,469.7 926.8,467.6 926.8,467.6 928.2,470.2 928.2,470.2 928.2,472.8 928.2,472.8 929.6,471.0 929.6,471.0 929.6,468.7 929.6,468.7 931.0,469.8 931.0,471.5 931.0,469.1 931.0,469.1 932.5,470.6 932.5,470.6 932.5,469.7 932.5,469.7 933.9,470.8 933.9,470.8 933.9,470.1 933.9,470.1 935.3,470.3 935.3,470.3 935.3,470.0 935.3,470.0 936.7,469.4 936.7,469.4 936.7,473.1 936.7,470.8 938.1,470.5 938.1,470.5 938.1,472.2 938.1,472.2 939.6,470.7 939.6,470.3 939.6,473.2 939.6,473.2 941.0,469.9 941.0,469.9 941.0,469.4 941.0,469.4 942.4,472.6 942.4,472.6 942.4,469.4 942.4,471.8 943.8,470.9 943.8,470.9 943.8,469.0 943.8,469.0 945.2,470.1 945.2,470.1 945.2,469.5 945.2,469.5 946.7,470.3 946.7,471.4 946.7,469.3 946.7,469.3 948.1,469.3 948.1,469.3 948.1,469.0 948.1,469.0 949.5,472.1 949.5,472.1 949.5,470.5 949.5,470.8 950.9,470.6 950.9,470.6 950.9,469.0 950.9,469.0 952.4,472.3 952.4,472.3 952.4,469.1 952.4,469.1 953.8,467.8 953.8,467.8 953.8,471.2 953.8,471.2 955.2,469.3 955.2,469.3 955.2,471.5 955.2,471.2 956.6,470.5 956.6,470.5 956.6,471.2 956.6,471.2 958.0,471.3 958.0,471.3 958.0,469.8 958.0,469.8 959.5,469.5 959.5,469.5 959.5,468.8 959.5,468.8 960.9,469.9 960.9,469.9 960.9,469.1 960.9,469.1 962.3,469.5 962.3,469.5 962.3,473.3 962.3,473.3 963.7,471.1 963.7,468.8 963.7,472.3 963.7,472.3 965.1,468.2 965.1,468.2 965.1,470.2 965.1,470.2 966.5,469.1 966.5,469.1 966.5,469.1 966.5,469.1 968.0,469.8 968.0,469.8 968.0,471.7 968.0,471.7 969.4,468.2 969.4,468.2 969.4,469.8 969.4,469.8 970.8,469.4 970.8,469.4 970.8,471.0 970.8,471.0 972.2,471.3 972.2,471.3 972.2,468.9 972.2,468.9 973.6,469.4 973.6,469.4 973.6,471.2 973.6,471.2 975.1,469.8 975.1,469.8 975.1,469.4 975.1,469.4 976.5,469.5 976.5,469.5 976.5,469.5 976.5,469.5 977.9,471.1 977.9,471.1 977.9,472.4 977.9,472.4 979.3,468.3 979.3,468.3 979.3,469.5 979.3,469.5 980.8,470.8 980.8,467.8 980.8,470.8 980.8,470.8 982.2,470.8 982.2,470.8 982.2,470.4 982.2,470.4 983.6,468.8 983.6,468.8 983.6,472.4 983.6,472.4 985.0,470.6 985.0,470.6 985.0,470.0 985.0,470.0 986.4,471.7 986.4,471.7 986.4,468.6 986.4,469.4 987.9,468.2 987.9,468.2 987.9,470.1 987.9,470.1 989.3,470.5 989.3,470.5 989.3,470.0 989.3,470.0 990.7,469.3 990.7,469.3 990.7,471.1 990.7,471.1 992.1,469.6 992.1,470.0 992.1,468.8 992.1,468.8 993.5,471.0 993.5,471.0 993.5,470.0 993.5,470.0 995.0,472.2 995.0,472.2 995.0,469.7 995.0,469.7 996.4,471.0 996.4,471.0 996.4,470.8 996.4,470.8 997.8,468.9 997.8,468.9 997.8,471.2 997.8,471.2 999.2,470.9 999.2,471.5 999.2,470.0 999.2,470.0 1000.6,472.2 1000.6,472.2 1000.6,470.8 1000.6,470.8 1002.0,471.3 1002.0,471.3 1002.0,468.1 1002.0,468.1 1003.5,468.1 1003.5,468.1 1003.5,468.4 1003.5,468.4 1004.9,470.3 1004.9,470.3 1004.9,471.1 1004.9,471.1 1006.3,470.5 1006.3,470.5 1006.3,468.5 1006.3,468.5 1007.7,469.9 1007.7,469.9 1007.7,472.0 1007.7,472.0 1009.1,471.6 1009.1,471.6 1009.1,468.6 1009.1,468.6 1010.6,470.0 1010.6,468.7 1010.6,470.8 1010.6,470.8 1012.0,471.5 1012.0,471.5 1012.0,471.3 1012.0,471.3 1013.4,469.2 1013.4,469.2 1013.4,469.8 1013.4,469.8 1014.8,470.2 1014.8,470.2 1014.8,472.3 1014.8,470.7 1016.2,470.5 1016.2,470.5 1016.2,470.5 1016.2,470.5 1017.7,470.6 1017.7,470.6 1017.7,469.1 1017.7,469.1 1019.1,469.8 1019.1,469.8 1019.1,470.1 1019.1,470.1 1020.5,469.7 1020.5,469.7 1020.5,471.2 1020.5,471.2 1021.9,470.4 1021.9,470.4 1021.9,471.2 1021.9,471.2 1023.4,469.6 1023.4,467.6 1023.4,469.8 1023.4,469.8 1024.8,471.4 1024.8,471.4 1024.8,470.6 1024.8,470.6 1026.2,467.5 1026.2,467.5 1026.2,469.8 1026.2,469.8 1027.6,469.6 1027.6,469.6 1027.6,470.1 1027.6,470.1 1029.0,469.6 1029.0,469.6 1029.0,470.3 1029.0,469.7"/>
<polyline stroke="#0000ff" points="76.2,340.0 76.2,340.0 76.2,343.6 76.2,342.9 77.6,344.1 77.6,344.1 77.6,339.7 77.6,339.7 79.0,345.5 79.0,345.5 79.0,343.0 79.0,343.0 80.5,340.0 80.5,340.0 80.5,339.6 80.5,339.6 81.9,339.7 81.9,339.7 81.9,345.5 81.9,345.5 83.3,344.8 83.3,344.8 83.3,341.4 83.3,341.4 84.7,341.3 84.7,341.3 84.7,347.1 84.7,347.1 86.1,344.7 86.1,344.7 86.1,340.6 86.1,340.6 87.6,342.1 87.6,341.4 87.6,342.8 87.6,342.8 89.0,344.4 89.0,344.4 89.0,341.7 89.0,341.7 90.4,343.2 90.4,343.2 90.4,343.6 90.4,343.6 91.8,344.1 91.8,344.1 91.8,340.8 91.8,340.8 93.2,341.7 93.2,341.7 93.2,346.7 93.2,346.7 94.7,341.7 94.7,341.7 94.7,343.0 94.7,343.0 96.1,340.7 96.1,340.7 96.1,341.1 96.1,341.1 97.5,345.7 97.5,345.7 97.5,344.8 97.5,344.8 98.9,339.4 98.9,339.4 98.9,342.0 98.9,342.0 100.3,338.9 100.3,338.3 100.3,341.7 100.3,341.7 101.8,345.1 101.8,345.1 101.8,341.5 101.8,341.5 103.2,344.9 103.2,344.9 103.2,339.2 103.2,339.2 104.6,341.9 104.6,341.9 104.6,341.7 104.6,341.7 106.0,341.7 106.0,341.7 106.0,343.7 106.0,342.8 107.4,340.3 107.4,340.3 107.4,338.5 107.4,338.5 108.9,340.2 108.9,340.2 108.9,341.4 108.9,341.4 110.3,340.2 110.3,340.2 110.3,338.0 110.3,338.0 111.7,337.5 111.7,337.5 111.7,343.2 111.7,343.2 113.1,341.9 113.1,340.1 113.1,342.3 113.1,342.3 114.5,342.4 114.5,340.4 114.5,343.9 114.5,343.9 116.0,343.2 116.0,343.2 116.0,344.5 116.0,344.5 117.4,343.6 117.4,343.6 117.4,341.9 117.4,341.9 118.8,340.4 118.8,340.7 118.8,340.1 118.8,340.1 120.2,341.6 120.2,341.6 120.2,341.9 120.2,341.9 121.6,343.9 121.6,343.9 121.6,344.3 121.6,344.3 123.1,341.5 123.1,341.5 123.1,342.3 123.1,342.3 124.5,339.0 124.5,339.0 124.5,340.1 124.5,339.3 125.9,341.9 125.9,341.9 125.9,340.5 125.9,340.5 127.3,340.0 127.3,340.0 127.3,341.6 127.3,341.6 128.8,337.8 128.8,337.8 128.8,342.5 128.8,342.5 130.2,342.7 130.2,342.7 130.2,344.4 130.2,344.4 131.6,339.4 131.6,341.0 131.6,337.7 131.6,337.7 133.0,344.7 133.0,344.7 133.0,341.6 133.0,341.6 134.4,342.5 134.4,342.5 134.4,338.9 134.4,338.9 135.8,341.6 135.8,341.6 135.8,340.8 135.8,340.8 137.3,339.8 137.3,339.8 137.3,340.2 137.3,340.2 138.7,340.4 138.7,340.4 138.7,338.7 138.7,338.7 140.1,345.0 140.1,345.0 140.1,342.3 140.1,342.3 141.5,342.6 141.5,342.6 141.5,342.6 141.5,342.6 143.0,341.9 143.0,341.9 143.0,343.4 143.0,343.4 144.4,341.8 144.4,341.8 144.4,344.9 144.4,344.9 145.8,342.0 145.8,342.0 145.8,344.8 145.8,344.8 147.2,340.7 147.2,340.7 147.2,343.1 147.2,343.1 148.6,343.9 148.6,343.9 148.6,345.2 148.6,345.2 150.1,345.3 150.1,345.3 150.1,340.7 150.1,341.4 151.5,345.7 151.5,345.7 151.5,342.0 151.5,342.0 152.9,339.8 152.9,339.8 152.9,344.9 152.9,344.9 154.3,344.0 154.3,344.0 154.3,340.5 154.3,340.5 155.7,341.7 155.7,341.7 155.7,345.3 155.7,342.0 157.2,341.8 157.2,341.8 157.2,342.1 157.2,342.1 158.6,345.4 158.6,345.4 158.6,339.8 158.6,339.8 160.0,343.6 160.0,343.6 160.0,343.1 160.0,343.1 161.4,343.7 161.4,343.7 161.4,344.2 161.4,344.2 162.8,342.9 162.8,342.9 162.8,344.0 162.8,343.7 164.2,345.5 164.2,345.5 164.2,338.7 164.2,338.7 165.7,342.7 165.7,342.7 165.7,343.2 165.7,343.2 167.1,340.6 167.1,340.6 167.1,345.6 167.1,345.6 168.5,344.1 168.5,344.1 168.5,340.0 168.5,342.7 169.9,344.5 169.9,344.5 169.9,343.4 169.9,343.4 171.3,341.9 171.3,341.9 171.3,344.4 171.3,344.4 172.8,343.8 172.8,343.8 172.8,341.6 172.8,341.6 174.2,342.9 174.2,342.9 174.2,345.7 174.2,345.5 175.6,341.6 175.6,341.6 175.6,342.2 175.6,342.2 177.0,345.9 177.0,345.9 177.0,344.4 177.0,344.4 178.5,343.5 178.5,343.5 178.5,342.8 178.5,342.8 179.9,343.7 179.9,343.7 179.9,345.0 179.9,345.0 181.3,339.3 181.3,339.3 181.3,344.9 181.3,341.8 182.7,341.1 182.7,341.1 182.7,342.3 182.7,342.3 184.1,341.5 184.1,341.5 184.1,341.7 184.1,341.7 185.5,343.5 185.5,343.5 185.5,341.2 185.5,341.2 187.0,345.1 187.0,345.1 187.0,340.8 187.0,344.8 188.4,341.4 188.4,341.4 188.4,343.7 188.4,343.7 189.8,342.9 189.8,342.9 189.8,345.1 189.8,345.1 191.2,341.3 191.2,341.3 191.2,343.6 191.2,343.6 192.7,346.1 192.7,346.1 192.7,343.0 192.7,343.0 194.1,344.8 194.1,344.8 194.1,345.3 194.1,345.3 195.5,344.4 195.5,344.4 195.5,345.6 195.5,345.6 196.9,345.2 196.9,345.2 196.9,339.8 196.9,339.8 198.3,344.6 198.3,344.6 198.3,349.5 198.3,349.5 199.8,342.9 199.8,342.9 199.8,343.6 199.8,343.6 201.2,342.2 201.2,342.2 201.2,343.0 201.2,343.0 202.6,343.4 202.6,343.4 202.6,346.9 202.6,346.9 204.0,343.2 204.0,343.2 204.0,344.5 204.0,344.5 205.4,343.2 205.4,343.2 205.4,342.0 205.4,342.5 206.8,341.7 206.8,341.7 206.8,345.8 206.8,345.8 208.3,343.2 208.3,343.2 208.3,341.1 208.3,341.1 209.7,343.5 209.7,343.5 209.7,347.0 209.7,347.0 211.1,344.0 211.1,343.5 211.1,344.0 211.1,344.0 212.5,342.9 212.5,342.9 212.5,341.8 212.5,341.8 213.9,345.7 213.9,345.7 213.9,338.0 213.9,338.0 215.4,342.7 215.4,342.7 215.4,342.1 215.4,342.1 216.8,343.2 216.8,343.2 216.8,342.3 216.8,342.3 218.2,345.4 218.2,346.1 218.2,343.8 218.2,343.8 219.6,341.5 219.6,341.5 219.6,342.3 219.6,342.3 221.1,343.0 221.1,343.0 221.1,342.1 221.1,342.1 222.5,341.5 222.5,341.5 222.5,346.4 222.5,346.4 223.9,345.1 223.9,345.1 223.9,341.9 223.9,342.1 225.3,343.6 225.3,343.6 225.3,342.4 225.3,342.4 226.7,344.5 226.7,344.5 226.7,344.8 226.7,344.8 228.2,343.6 228.2,343.6 228.2,342.0 228.2,342.0 229.6,343.0 229.6,343.0 229.6,340.9 229.6,340.9 231.0,342.9 231.0,346.5 231.0,342.6 231.0,342.6 232.4,344.6 232.4,344.6 232.4,345.5 232.4,345.5 233.8,346.2 233.8,346.2 233.8,341.4 233.8,341.4 235.2,343.2 235.2,343.2 235.2,342.6 235.2,342.6 236.7,345.7 236.7,345.7 236.7,340.8 236.7,341.8 238.1,342.6 238.1,342.6 238.1,344.1 238.1,344.1 239.5,346.9 239.5,346.9 239.5,342.9 239.5,342.9 240.9,345.5 240.9,345.5 240.9,342.2 240.9,342.2 242.3,341.6 242.3,341.6 242.3,344.9 242.3,342.3 243.8,341.0 243.8,341.0 243.8,345.6 243.8,345.6 245.2,344.5 245.2,344.5 245.2,341.5 245.2,341.5 246.6,344.9 246.6,344.9 246.6,344.2 246.6,344.2 248.0,344.4 248.0,344.4 248.0,341.8 248.0,341.8 249.4,342.9 249.4,342.9 249.4,340.1 249.4,340.1 250.9,344.8 250.9,344.8 250.9,342.8 250.9,342.8 252.3,343.9 252.3,343.9 252.3,343.2 252.3,343.2 253.7,342.7 253.7,342.7 253.7,342.7 253.7,342.7 255.1,344.3 255.1,344.3 255.1,341.1 255.1,341.1 256.6,345.3 256.6,345.3 256.6,345.7 256.6,345.7 258.0,344.8 258.0,344.8 258.0,345.9 258.0,345.9 259.4,343.8 259.4,343.8 259.4,343.6 259.4,343.6 260.8,345.3 260.8,345.3 260.8,341.7 260.8,341.7 262.2,343.3 262.2,343.3 262.2,343.7 262.2,343.7 263.6,347.0 263.6,347.0 263.6,343.6 263.6,343.6 265.1,342.4 265.1,342.4 265.1,341.9 265.1,341.9 266.5,343.3 266.5,343.3 266.5,342.5 266.5,342.5 267.9,343.4 267.9,343.4 267.9,341.0 267.9,341.0 269.3,343.1 269.3,343.1 269.3,344.1 269.3,344.1 270.7,343.7 270.7,343.7 270.7,341.2 270.7,341.2 272.2,343.1 272.2,343.1 272.2,344.8 272.2,344.8 273.6,344.0 273.6,344.0 273.6,342.5 273.6,342.8 275.0,342.8 275.0,342.8 275.0,343.9 275.0,343.9 276.4,343.0 276.4,343.0 276.4,344.2 276.4,344.2 277.8,343.8 277.8,343.8 277.8,343.8 277.8,343.8 279.3,344.8 279.3,344.8 279.3,342.9 279.3,342.9 280.7,343.1 280.7,343.1 280.7,345.0 280.7,345.0 282.1,343.1 282.1,343.1 282.1,341.7 282.1,341.7 283.5,342.7 283.5,342.7 283.5,342.0 283.5,342.0 284.9,343.5 284.9,343.5 284.9,343.7 284.9,343.7 286.4,345.6 286.4,345.6 286.4,344.2 286.4,344.5 287.8,344.3 287.8,344.3 287.8,344.7 287.8,344.7 289.2,342.2 289.2,342.2 289.2,343.4 289.2,343.4 290.6,342.6 290.6,342.6 290.6,343.3 290.6,343.3 292.0,345.3 292.0,347.9 292.0,344.8 292.0,344.8 293.5,343.9 293.5,343.9 293.5,342.5 293.5,342.5 294.9,344.0 294.9,344.0 294.9,345.9 294.9,345.9 296.3,342.4 296.3,342.4 296.3,344.2 296.3,344.2 297.7,344.8 297.7,344.8 297.7,345.0 297.7,345.0 299.1,347.1 299.1,347.1 299.1,343.6 299.1,344.0 300.6,342.0 300.6,342.0 300.6,342.9 300.6,342.9 302.0,342.2 302.0,342.2 302.0,343.7 302.0,343.7 303.4,344.2 303.4,344.2 303.4,344.6 303.4,344.6 304.8,344.8 304.8,344.8 304.8,342.1 304.8,342.1 306.2,342.1 306.2,342.1 306.2,343.2 306.2,343.2 307.7,342.9 307.7,342.9 307.7,341.9 307.7,341.9 309.1,344.2 309.1,344.2 309.1,342.0 309.1,343.4 310.5,342.7 310.5,344.3 310.5,342.3 310.5,342.3 311.9,344.2 311.9,344.2 311.9,346.5 311.9,346.5 313.3,344.3 313.3,342.0 313.3,346.8 313.3,346.8 314.8,342.2 314.8,342.2 314.8,344.7 314.8,344.7 316.2,342.1 316.2,342.1 316.2,344.7 316.2,344.7 317.6,343.4 317.6,343.4 317.6,344.4 317.6,344.0 319.0,341.5 319.0,341.5 319.0,341.3 319.0,341.3 320.4,342.4 320.4,342.4 320.4,344.9 320.4,344.9 321.9,344.1 321.9,344.1 321.9,345.4 321.9,345.4 323.3,345.4 323.3,346.1 323.3,342.3 323.3,342.3 324.7,342.0 324.7,342.0 324.7,342.0 324.7,342.0 326.1,345.6 326.1,345.6 326.1,343.1 326.1,343.1 327.5,344.1 327.5,344.3 327.5,343.1 327.5,343.1 329.0,342.8 329.0,342.3 329.0,345.0 329.0,345.0 330.4,345.1 330.4,345.1 330.4,343.8 330.4,343.8 331.8,343.1 331.8,343.1 331.8,343.5 331.8,343.5 333.2,344.2 333.2,344.2 333.2,345.2 333.2,345.2 334.6,342.3 334.6,342.3 334.6,342.6 334.6,342.6 336.1,344.9 336.1,344.9 336.1,343.7 336.1,343.7 337.5,343.5 337.5,343.5 337.5,345.1 337.5,345.1 338.9,343.9 338.9,343.9 338.9,341.2 338.9,341.2 340.3,342.2 340.3,342.2 340.3,344.7 340.3,344.7 341.7,343.4 341.7,344.3 341.7,341.2 341.7,341.2 343.2,345.3 343.2,345.3 343.2,344.0 343.2,344.0 344.6,343.4 344.6,343.4 344.6,343.8 344.6,343.8 346.0,343.2 346.0,343.2 346.0,343.3 346.0,343.3 347.4,340.5 347.4,340.5 347.4,345.2 347.4,345.2 348.8,343.4 348.8,343.4 348.8,342.4 348.8,342.4 350.3,344.3 350.3,344.3 350.3,345.7 350.3,345.7 351.7,343.6 351.7,343.6 351.7,344.8 351.7,344.8 353.1,342.8 353.1,342.8 353.1,341.2 353.1,341.2 354.5,345.8 354.5,345.8 354.5,342.7 354.5,344.8 355.9,345.1 355.9,345.1 355.9,346.0 355.9,346.0 357.4,343.0 357.4,343.0 357.4,345.2 357.4,345.2 358.8,342.4 358.8,342.4 358.8,341.7 358.8,341.7 360.2,341.5 360.2,341.5 360.2,344.0 360.2,341.7 361.6,347.4 361.6,347.4 361.6,345.2 361.6,345.2 363.0,345.2 363.0,345.2 363.0,344.2 363.0,344.2 364.5,345.0 364.5,345.0 364.5,343.1 364.5,343.1 365.9,342.3 365.9,342.3 365.9,344.6 365.9,344.6 367.3,343.8 367.3,341.9 367.3,344.8 367.3,344.8 368.7,345.5 368.7,345.5 368.7,344.3 368.7,344.3 370.1,340.6 370.1,340.6 370.1,343.0 370.1,343.0 371.6,343.7 371.6,343.7 371.6,345.2 371.6,345.2 373.0,344.0 373.0,344.8 373.0,342.4 373.0,342.4 374.4,342.8 374.4,342.8 374.4,342.8 374.4,342.8 375.8,345.6 375.8,345.6 375.8,341.4 375.8,341.4 377.2,343.2 377.2,343.2 377.2,341.3 377.2,341.3 378.7,345.9 378.7,345.9 378.7,342.6 378.7,342.6 380.1,344.7 380.1,344.7 380.1,344.7 380.1,344.7 381.5,343.4 381.5,343.4 381.5,344.2 381.5,344.2 382.9,343.5 382.9,343.5 382.9,343.5 382.9,343.5 384.3,341.4 384.3,341.4 384.3,342.5 384.3,342.5 385.8,344.7 385.8,343.9 385.8,346.6 385.8,346.6 387.2,345.4 387.2,345.4 387.2,344.3 387.2,344.3 388.6,341.1 388.6,341.1 388.6,344.0 388.6,344.0 390.0,346.3 390.0,346.3 390.0,341.8 390.0,341.8 391.4,344.9 391.4,344.9 391.4,345.4 391.4,345.4 392.9,345.7 392.9,345.7 392.9,342.6 392.9,342.6 394.3,343.7 394.3,343.7 394.3,344.4 394.3,344.4 395.7,344.9 395.7,344.9 395.7,342.9 395.7,342.9 397.1,345.0 397.1,345.0 397.1,340.8 397.1,340.8 398.5,344.6 398.5,344.6 398.5,344.1 398.5,344.1 400.0,343.0 400.0,343.0 400.0,343.2 400.0,343.2 401.4,344.4 401.4,344.4 401.4,346.0 401.4,346.0 402.8,344.5 402.8,344.5 402.8,341.7 402.8,341.7 404.2,343.2 404.2,343.8 404.2,340.5 404.2,340.5 405.6,343.8 405.6,343.8 405.6,342.8 405.6,342.8 407.1,343.1 407.1,343.1 407.1,342.2 407.1,342.2 408.5,344.2 408.5,344.2 408.5,342.3 408.5,342.3 409.9,342.2 409.9,342.2 409.9,344.8 409.9,344.8 411.3,343.0 411.3,343.0 411.3,343.2 411.3,343.2 412.7,344.7 412.7,344.7 412.7,344.3 412.7,344.3 414.2,343.8 414.2,343.8 414.2,345.1 414.2,345.1 415.6,344.8 415.6,344.8 415.6,342.3 415.6,342.3 417.0,346.0 417.0,346.0 417.0,342.7 417.0,342.7 418.4,341.2 418.4,341.2 418.4,343.2 418.4,343.2 419.8,343.8 419.8,343.8 419.8,344.8 419.8,344.8 421.3,346.1 421.3,346.1 421.3,343.6 421.3,343.6 422.7,341.1 422.7,341.1 422.7,344.4 422.7,344.4 424.1,345.6 424.1,345.6 424.1,343.4 424.1,343.4 425.5,342.6 425.5,342.6 425.5,343.1 425.5,343.1 426.9,341.8 426.9,341.8 426.9,342.2 426.9,342.2 428.4,346.7 428.4,346.7 428.4,342.9 428.4,342.9 429.8,342.1 429.8,342.1 429.8,344.8 429.8,344.8 431.2,344.6 431.2,344.6 431.2,344.4 431.2,344.4 432.6,341.2 432.6,341.2 432.6,343.6 432.6,343.6 434.0,342.6 434.0,342.6 434.0,345.2 434.0,345.2 435.5,340.3 435.5,340.3 435.5,344.8 435.5,342.9 436.9,344.9 436.9,344.9 436.9,343.1 436.9,343.1 438.3,345.3 438.3,345.3 438.3,343.3 438.3,343.3 439.7,342.9 439.7,342.9 439.7,343.1 439.7,343.1 441.1,345.6 441.1,345.6 441.1,342.7 441.1,344.2 442.6,344.9 442.6,344.9 442.6,342.4 442.6,342.4 444.0,343.9 444.0,343.9 444.0,343.4 444.0,343.4 445.4,345.7 445.4,345.7 445.4,343.0 445.4,343.0 446.8,344.4 446.8,344.4 446.8,341.9 446.8,341.9 448.2,344.5 448.2,344.5 448.2,344.8 448.2,344.8 449.7,344.7 449.7,340.2 449.7,345.8 449.7,345.8 451.1,344.3 451.1,344.3 451.1,346.7 451.1,346.7 452.5,344.9 452.5,344.9 452.5,344.0 452.5,344.0 453.9,342.5 453.9,342.5 453.9,345.0 453.9,345.0 455.3,341.2 455.3,341.2 455.3,344.3 455.3,344.3 456.8,343.2 456.8,342.9 456.8,345.1 456.8,345.1 458.2,343.6 458.2,343.6 458.2,341.8 458.2,341.8 459.6,342.7 459.6,342.7 459.6,344.7 459.6,344.7 461.0,341.5 461.0,341.5 461.0,342.7 461.0,342.7 462.4,344.2 462.4,344.2 462.4,345.5 462.4,345.5 463.9,344.6 463.9,344.6 463.9,343.0 463.9,343.0 465.3,344.7 465.3,344.7 465.3,342.7 465.3,344.2 466.7,343.7 466.7,343.7 466.7,345.3 466.7,345.3 468.1,345.5 468.1,345.5 468.1,345.8 468.1,345.8 469.5,344.2 469.5,344.2 469.5,343.8 469.5,343.8 471.0,344.3 471.0,344.3 471.0,346.8 471.0,346.8 472.4,344.1 472.4,344.3 472.4,343.9 472.4,343.9 473.8,342.6 473.8,342.6 473.8,345.0 473.8,345.0 475.2,344.7 475.2,344.7 475.2,344.1 475.2,344.1 476.6,343.2 476.6,343.2 476.6,343.4 476.6,343.4 478.1,343.3 478.1,343.3 478.1,341.9 478.1,343.3 479.5,345.3 479.5,345.3 479.5,344.6 479.5,344.6 480.9,343.5 480.9,343.5 480.9,344.9 480.9,344.9 482.3,343.6 482.3,343.6 482.3,343.1 482.3,343.1 483.7,344.0 483.7,344.0 483.7,346.2 483.7,344.0 485.2,344.0 485.2,344.6 485.2,342.2 485.2,342.2 486.6,345.6 486.6,345.6 486.6,346.2 486.6,346.2 488.0,343.7 488.0,343.7 488.0,343.2 488.0,343.2 489.4,344.1 489.4,344.1 489.4,344.4 489.4,344.4 490.8,343.0 490.8,341.9 490.8,343.8 490.8,343.8 492.3,343.1 492.3,343.1 492.3,345.7 492.3,345.7 493.7,343.7 493.7,343.7 493.7,343.9 493.7,343.9 495.1,344.1 495.1,344.1 495.1,342.5 495.1,342.5 496.5,342.7 496.5,342.7 496.5,346.3 496.5,345.6 497.9,342.4 497.9,342.4 497.9,344.3 497.9,344.3 499.4,343.5 499.4,343.5 499.4,344.9 499.4,344.9 500.8,345.1 500.8,345.1 500.8,343.3 500.8,343.3 502.2,345.1 502.2,345.1 502.2,343.3 502.2,343.3 503.6,344.4 503.6,344.4 503.6,346.0 503.6,344.7 505.0,344.2 505.0,344.2 505.0,345.7 505.0,345.7 506.5,343.2 506.5,343.2 506.5,344.7 506.5,344.7 507.9,343.6 507.9,343.6 507.9,341.9 507.9,341.9 509.3,343.8 509.3,344.4 509.3,341.4 509.3,341.4 510.7,341.4 510.7,341.4 510.7,343.7 510.7,343.7 512.1,343.9 512.1,343.9 512.1,343.7 512.1,343.7 513.6,346.0 513.6,346.0 513.6,347.8 513.6,347.8 515.0,343.6 515.0,344.3 515.0,343.1 515.0,343.1 516.4,345.3 516.4,341.4 516.4,345.3 516.4,345.3 517.8,341.6 517.8,341.6 517.8,344.3 517.8,344.3 519.2,344.5 519.2,344.5 519.2,342.6 519.2,342.6 520.7,344.1 520.7,344.1 520.7,345.8 520.7,345.8 522.1,343.8 522.1,344.2 522.1,342.4 522.1,342.4 523.5,343.5 523.5,343.5 523.5,341.9 523.5,341.9 524.9,345.7 524.9,345.7 524.9,343.6 524.9,343.6 526.4,345.2 526.4,345.2 526.4,345.1 526.4,345.1 527.8,343.5 527.8,343.5 527.8,345.6 527.8,345.6 529.2,340.4 529.2,340.4 529.2,345.8 529.2,345.8 530.6,345.7 530.6,345.7 530.6,344.2 530.6,344.2 532.0,343.8 532.0,343.8 532.0,344.1 532.0,344.1 533.5,345.0 533.5,341.5 533.5,346.2 533.5,346.2 534.9,342.4 534.9,342.4 534.9,346.9 534.9,346.9 536.3,344.5 536.3,344.5 536.3,345.3 536.3,345.3 537.7,344.4 537.7,344.4 537.7,343.4 537.7,343.4 539.1,342.3 539.1,342.3 539.1,343.1 539.1,343.1 540.5,345.1 540.5,345.1 540.5,343.5 540.5,343.8 542.0,342.9 542.0,342.9 542.0,345.8 542.0,345.8 543.4,345.8 543.4,345.8 543.4,347.5 543.4,347.5 544.8,342.9 544.8,342.9 544.8,342.6 544.8,342.6 546.2,344.2 546.2,342.1 546.2,344.4 546.2,344.4 547.7,346.1 547.7,346.1 547.7,344.5 547.7,344.5 549.1,343.6 549.1,343.6 549.1,341.6 549.1,341.6 550.5,343.9 550.5,343.9 550.5,342.7 550.5,342.7 551.9,344.4 551.9,344.4 551.9,341.2 551.9,341.2 553.3,342.3 553.3,342.3 553.3,342.8 553.3,342.8 554.8,344.3 554.8,344.3 554.8,345.0 554.8,345.0 556.2,342.4 556.2,342.4 556.2,343.2 556.2,343.2 557.6,344.5 557.6,344.5 557.6,341.9 557.6,341.9 559.0,342.8 559.0,342.8 559.0,343.0 559.0,343.0 560.4,345.6 560.4,345.6 560.4,344.2 560.4,344.2 561.9,342.0 561.9,342.0 561.9,345.6 561.9,345.6 563.3,343.7 563.3,343.7 563.3,345.7 563.3,344.0 564.7,343.0 564.7,342.9 564.7,343.8 564.7,343.8 566.1,345.0 566.1,345.0 566.1,345.0 566.1,345.0 567.5,343.6 567.5,343.6 567.5,342.5 567.5,342.5 569.0,345.0 569.0,345.0 569.0,342.0 569.0,342.0 570.4,343.7 570.4,343.7 570.4,344.9 570.4,344.9 571.8,342.7 571.8,342.7 571.8,343.8 571.8,342.9 573.2,343.0 573.2,343.0 573.2,343.4 573.2,343.4 574.6,344.7 574.6,344.7 574.6,343.1 574.6,343.1 576.0,343.2 576.0,343.2 576.0,345.7 576.0,345.7 577.5,345.7 577.5,345.7 577.5,343.9 577.5,343.9 578.9,344.0 578.9,344.0 578.9,344.4 578.9,344.4 580.3,344.0 580.3,344.0 580.3,344.1 580.3,344.1 581.7,345.3 581.7,345.3 581.7,346.5 581.7,346.5 583.2,344.4 583.2,343.7 583.2,344.4 583.2,344.4 584.6,343.8 584.6,343.8 584.6,343.1 584.6,343.1 586.0,344.3 586.0,344.3 586.0,343.6 586.0,343.6 587.4,345.5 587.4,345.5 587.4,344.5 587.4,344.5 588.8,344.4 588.8,344.4 588.8,343.3 588.8,343.3 590.2,345.3 590.2,345.6 590.2,344.7 590.2,344.7 591.7,343.3 591.7,343.3 591.7,344.2 591.7,344.2 593.1,340.5 593.1,340.5 593.1,344.4 593.1,344.4 594.5,345.0 594.5,345.0 594.5,342.4 594.5,342.4 595.9,344.5 595.9,344.5 595.9,342.5 595.9,343.5 597.4,343.3 597.4,343.3 597.4,345.9 597.4,345.9 598.8,344.7 598.8,344.7 598.8,343.9 598.8,343.9 600.2,344.0 600.2,344.0 600.2,347.1 600.2,347.1 601.6,344.0 601.6,344.5 601.6,341.1 601.6,341.1 603.0,345.5 603.0,345.5 603.0,344.2 603.0,344.2 604.5,343.2 604.5,343.2 604.5,343.7 604.5,343.7 605.9,344.7 605.9,344.7 605.9,344.4 605.9,344.4 607.3,342.8 607.3,342.8 607.3,344.2 607.3,343.9 608.7,343.3 608.7,343.3 608.7,346.4 608.7,344.6 610.1,342.4 610.1,342.4 610.1,344.2 610.1,344.2 611.5,344.1 611.5,344.1 611.5,344.6 611.5,344.6 613.0,343.3 613.0,343.3 613.0,341.9 613.0,341.9 614.4,342.8 614.4,342.8 614.4,347.2 614.4,347.2 615.8,343.8 615.8,343.8 615.8,341.1 615.8,341.1 617.2,342.9 617.2,342.9 617.2,345.5 617.2,345.5 618.6,344.9 618.6,344.9 618.6,345.4 618.6,345.4 620.1,344.9 620.1,344.9 620.1,343.8 620.1,343.8 621.5,343.0 621.5,343.0 621.5,341.8 621.5,341.8 622.9,343.0 622.9,343.0 622.9,343.6 622.9,343.6 624.3,345.0 624.3,345.0 624.3,341.9 624.3,341.9 625.8,345.5 625.8,345.5 625.8,342.2 625.8,342.2 627.2,345.8 627.2,345.8 627.2,343.1 627.2,344.5 628.6,343.8 628.6,343.8 628.6,344.0 628.6,344.0 630.0,342.9 630.0,342.9 630.0,344.3 630.0,344.3 631.4,343.6 631.4,343.6 631.4,344.7 631.4,344.1 632.9,343.7 632.9,344.1 632.9,341.3 632.9,341.3 634.3,344.1 634.3,344.1 634.3,344.0 634.3,344.0 635.7,345.1 635.7,345.1 635.7,342.0 635.7,342.0 637.1,345.1 637.1,345.1 637.1,343.8 637.1,343.8 638.5,344.7 638.5,344.7 638.5,343.6 638.5,343.6 640.0,344.1 640.0,345.8 640.0,343.8 640.0,343.8 641.4,344.7 641.4,344.7 641.4,343.7 641.4,343.7 642.8,344.2 642.8,344.2 642.8,345.4 642.8,345.4 644.2,343.8 644.2,343.8 644.2,344.0 644.2,344.0 645.6,345.5 645.6,345.5 645.6,343.5 645.6,343.5 647.0,344.0 647.0,344.0 647.0,342.7 647.0,342.7 648.5,343.4 648.5,343.4 648.5,342.5 648.5,342.5 649.9,344.2 649.9,344.2 649.9,344.6 649.9,344.6 651.3,341.9 651.3,341.9 651.3,345.3 651.3,344.5 652.7,343.3 652.7,343.3 652.7,343.1 652.7,343.1 654.1,342.9 654.1,342.9 654.1,343.7 654.1,343.7 655.6,343.9 655.6,343.9 655.6,345.1 655.6,345.1 657.0,346.8 657.0,346.8 657.0,344.3 657.0,344.3 658.4,344.8 658.4,344.8 658.4,342.6 658.4,343.9 659.8,344.9 659.8,344.9 659.8,344.6 659.8,344.6 661.2,342.5 661.2,342.5 661.2,345.5 661.2,345.5 662.7,344.6 662.7,344.6 662.7,342.4 662.7,342.4 664.1,344.9 664.1,344.9 664.1,342.4 664.1,342.4 665.5,342.7 665.5,342.7 665.5,343.8 665.5,343.8 666.9,345.7 666.9,345.7 666.9,344.8 666.9,344.8 668.4,341.2 668.4,341.2 668.4,345.7 668.4,345.7 669.8,344.5 669.8,345.2 669.8,342.3 669.8,342.3 671.2,344.7 671.2,344.7 671.2,343.8 671.2,343.8 672.6,342.5 672.6,342.5 672.6,344.9 672.6,344.9 674.0,344.2 674.0,344.2 674.0,344.3 674.0,344.3 675.5,343.5 675.5,343.5 675.5,342.8 675.5,342.8 676.9,345.5 676.9,345.5 676.9,344.1 676.9,345.0 678.3,344.1 678.3,344.1 678.3,344.4 678.3,344.4 679.7,343.3 679.7,343.3 679.7,344.4 679.7,344.4 681.1,344.0 681.1,344.0 681.1,343.4 681.1,343.4 682.5,343.8 682.5,343.8 682.5,344.6 682.5,344.6 684.0,344.1 684.0,344.1 684.0,342.9 684.0,342.9 685.4,344.7 685.4,344.7 685.4,343.5 685.4,343.5 686.8,341.4 686.8,341.4 686.8,344.5 686.8,344.5 688.2,343.5 688.2,343.5 688.2,344.6 688.2,344.6 689.6,346.2 689.6,346.2 689.6,345.0 689.6,345.0 691.1,339.9 691.1,339.9 691.1,343.1 691.1,341.4 692.5,343.9 692.5,343.9 692.5,343.8 692.5,343.8 693.9,345.0 693.9,344.8 693.9,345.2 693.9,345.2 695.3,343.5 695.3,343.2 695.3,344.4 695.3,344.4 696.8,343.6 696.8,343.6 696.8,343.4 696.8,343.4 698.2,345.5 698.2,345.5 698.2,343.7 698.2,343.7 699.6,343.7 699.6,343.7 699.6,344.6 699.6,344.6 701.0,343.8 701.0,343.8 701.0,345.5 701.0,345.5 702.4,343.3 702.4,343.3 702.4,345.0 702.4,344.7 703.9,343.4 703.9,343.4 703.9,347.1 703.9,347.1 705.3,344.5 705.3,344.5 705.3,344.8 705.3,344.8 706.7,343.3 706.7,343.3 706.7,346.4 706.7,346.4 708.1,343.6 708.1,343.6 708.1,342.8 708.1,342.8 709.5,343.8 709.5,343.8 709.5,342.4 709.5,342.4 711.0,343.8 711.0,343.8 711.0,344.1 711.0,344.1 712.4,345.2 712.4,345.2 712.4,345.3 712.4,345.3 713.8,345.3 713.8,345.3 713.8,346.8 713.8,346.8 715.2,344.4 715.2,344.4 715.2,345.6 715.2,345.6 716.6,345.1 716.6,345.1 716.6,344.7 716.6,344.7 718.0,342.3 718.0,342.3 718.0,344.1 718.0,344.1 719.5,346.0 719.5,346.0 719.5,343.0 719.5,343.5 720.9,344.1 720.9,344.1 720.9,344.7 720.9,344.4 722.3,344.0 722.3,342.4 722.3,345.1 722.3,345.1 723.7,343.7 723.7,343.7 723.7,343.6 723.7,343.6 725.1,343.5 725.1,343.5 725.1,344.7 725.1,344.7 726.6,341.2 726.6,341.2 726.6,345.5 726.6,345.5 728.0,344.7 728.0,344.7 728.0,343.0 728.0,343.0 729.4,346.3 729.4,346.3 729.4,343.2 729.4,343.2 730.8,344.1 730.8,344.1 730.8,345.0 730.8,345.0 732.2,343.2 732.2,343.2 732.2,344.8 732.2,344.7 733.7,343.2 733.7,343.2 733.7,342.7 733.7,342.7 735.1,345.8 735.1,345.8 735.1,344.2 735.1,344.2 736.5,346.4 736.5,346.4 736.5,345.1 736.5,345.1 737.9,344.6 737.9,344.6 737.9,343.3 737.9,343.3 739.4,344.5 739.4,343.5 739.4,345.9 739.4,345.9 740.8,345.6 740.8,345.6 740.8,342.4 740.8,342.4 742.2,343.1 742.2,343.1 742.2,343.1 742.2,343.1 743.6,345.1 743.6,345.1 743.6,344.8 743.6,344.8 745.0,344.8 745.0,343.9 745.0,345.1 745.0,345.1 746.5,342.4 746.5,342.4 746.5,345.1 746.5,345.1 747.9,344.5 747.9,344.5 747.9,344.4 747.9,344.4 749.3,343.8 749.3,343.8 749.3,340.9 749.3,340.9 750.7,345.3 750.7,345.3 750.7,343.0 750.7,344.6 752.1,343.2 752.1,343.2 752.1,344.9 752.1,344.9 753.5,344.1 753.5,344.1 753.5,345.1 753.5,345.1 755.0,344.0 755.0,344.0 755.0,344.8 755.0,344.8 756.4,344.6 756.4,341.6 756.4,345.5 756.4,345.5 757.8,344.6 757.8,344.6 757.8,344.0 757.8,344.0 759.2,343.9 759.2,343.9 759.2,344.7 759.2,344.7 760.6,343.0 760.6,343.0 760.6,343.8 760.6,343.8 762.1,344.0 762.1,344.0 762.1,346.4 762.1,346.4 763.5,343.1 763.5,342.2 763.5,343.2 763.5,343.2 764.9,343.5 764.9,343.5 764.9,343.6 764.9,343.6 766.3,344.0 766.3,344.0 766.3,344.8 766.3,344.8 767.8,344.6 767.8,344.6 767.8,344.3 767.8,344.3 769.2,347.1 769.2,347.1 769.2,345.5 769.2,345.9 770.6,344.2 770.6,344.2 770.6,343.3 770.6,343.3 772.0,344.6 772.0,344.6 772.0,342.1 772.0,342.1 773.4,343.4 773.4,343.4 773.4,343.5 773.4,343.5 774.9,342.9 774.9,342.9 774.9,346.4 774.9,346.4 776.3,345.7 776.3,345.7 776.3,342.9 776.3,342.9 777.7,345.1 777.7,345.1 777.7,344.4 777.7,344.4 779.1,344.1 779.1,344.1 779.1,345.1 779.1,345.1 780.5,343.2 780.5,343.2 780.5,344.6 780.5,344.6 782.0,346.9 782.0,346.9 782.0,344.8 782.0,346.5 783.4,345.6 783.4,345.6 783.4,346.2 783.4,346.2 784.8,343.7 784.8,343.7 784.8,343.6 784.8,343.6 786.2,344.4 786.2,344.4 786.2,343.5 786.2,343.5 787.6,343.0 787.6,346.1 787.6,342.5 787.6,342.5 789.0,344.0 789.0,344.0 789.0,344.2 789.0,344.2 790.5,344.2 790.5,344.2 790.5,344.4 790.5,344.4 791.9,344.7 791.9,344.7 791.9,343.1 791.9,343.1 793.3,344.0 793.3,344.0 793.3,344.5 793.3,344.5 794.7,345.3 794.7,345.3 794.7,343.1 794.7,343.1 796.1,345.0 796.1,345.0 796.1,343.0 796.1,343.0 797.6,344.3 797.6,344.3 797.6,344.8 797.6,344.8 799.0,344.0 799.0,344.0 799.0,345.1 799.0,345.1 800.4,344.0 800.4,344.0 800.4,343.6 800.4,344.0 801.8,344.5 801.8,344.9 801.8,342.4 801.8,344.6 803.2,343.8 803.2,343.8 803.2,345.4 803.2,345.4 804.7,342.1 804.7,342.1 804.7,344.7 804.7,344.7 806.1,343.5 806.1,343.0 806.1,345.6 806.1,345.6 807.5,342.7 807.5,342.7 807.5,345.1 807.5,345.1 808.9,342.6 808.9,342.6 808.9,344.2 808.9,344.2 810.4,342.6 810.4,342.6 810.4,344.0 810.4,344.0 811.8,346.0 811.8,346.0 811.8,345.1 811.8,345.1 813.2,342.3 813.2,344.3 813.2,340.9 813.2,340.9 814.6,344.6 814.6,344.6 814.6,341.9 814.6,341.9 816.0,344.8 816.0,344.8 816.0,343.9 816.0,343.9 817.5,345.0 817.5,345.0 817.5,343.5 817.5,343.5 818.9,345.2 818.9,346.2 818.9,343.2 818.9,343.2 820.3,343.9 820.3,343.9 820.3,343.2 820.3,343.2 821.7,343.1 821.7,343.1 821.7,345.3 821.7,345.3 823.1,344.1 823.1,344.1 823.1,343.7 823.1,343.7 824.5,344.0 824.5,344.0 824.5,344.3 824.5,344.3 826.0,346.0 826.0,346.0 826.0,344.1 826.0,344.1 827.4,346.6 827.4,346.6 827.4,345.0 827.4,345.0 828.8,344.9 828.8,344.9 828.8,343.0 828.8,343.0 830.2,343.5 830.2,343.5 830.2,345.3 830.2,345.3 831.6,342.8 831.6,342.8 831.6,343.6 831.6,343.2 833.1,345.5 833.1,345.5 833.1,342.5 833.1,342.5 834.5,344.9 834.5,344.9 834.5,344.8 834.5,344.8 835.9,344.6 835.9,344.6 835.9,346.1 835.9,346.1 837.3,345.0 837.3,342.9 837.3,345.2 837.3,345.2 838.8,343.8 838.8,343.8 838.8,345.1 838.8,345.1 840.2,343.7 840.2,343.7 840.2,344.0 840.2,344.0 841.6,342.7 841.6,342.7 841.6,343.9 841.6,343.9 843.0,342.7 843.0,342.7 843.0,344.5 843.0,344.5 844.4,344.6 844.4,346.4 844.4,343.1 844.4,343.1 845.9,345.0 845.9,345.0 845.9,344.3 845.9,344.3 847.3,343.5 847.3,343.5 847.3,346.7 847.3,346.7 848.7,342.5 848.7,342.5 848.7,345.3 848.7,345.3 850.1,344.6 850.1,344.6 850.1,345.2 850.1,345.2 851.5,345.6 851.5,345.6 851.5,342.1 851.5,342.1 853.0,344.7 853.0,344.7 853.0,344.4 853.0,344.4 854.4,345.3 854.4,345.3 854.4,346.1 854.4,346.1 855.8,344.7 855.8,344.3 855.8,345.0 855.8,345.0 857.2,342.7 857.2,342.7 857.2,345.4 857.2,345.4 858.6,345.0 858.6,345.0 858.6,343.4 858.6,343.4 860.0,343.6 860.0,343.6 860.0,344.0 860.0,344.0 861.5,345.2 861.5,345.2 861.5,346.8 861.5,346.8 862.9,347.3 862.9,347.3 862.9,343.4 862.9,343.8 864.3,344.0 864.3,344.0 864.3,345.6 864.3,344.5 865.7,342.5 865.7,342.5 865.7,344.6 865.7,344.6 867.1,342.8 867.1,342.8 867.1,345.3 867.1,345.3 868.6,344.4 868.6,344.4 868.6,345.7 868.6,344.9 870.0,343.6 870.0,343.6 870.0,343.1 870.0,343.1 871.4,342.9 871.4,342.9 871.4,344.1 871.4,344.1 872.8,346.5 872.8,346.5 872.8,346.3 872.8,346.3 874.2,343.4 874.2,343.2 874.2,346.3 874.2,346.3 875.7,343.5 875.7,343.5 875.7,344.5 875.7,344.5 877.1,344.5 877.1,344.5 877.1,343.8 877.1,343.8 878.5,345.5 878.5,345.5 878.5,345.3 878.5,345.3 879.9,344.8 879.9,344.8 879.9,342.8 879.9,342.8 881.4,342.8 881.4,342.8 881.4,344.7 881.4,343.8 882.8,345.2 882.8,345.2 882.8,343.8 882.8,343.8 884.2,343.3 884.2,343.3 884.2,343.5 884.2,343.5 885.6,347.7 885.6,347.7 885.6,343.8 885.6,343.8 887.0,343.8 887.0,343.4 887.0,344.2 887.0,344.2 888.5,344.6 888.5,344.6 888.5,346.2 888.5,346.2 889.9,345.6 889.9,345.6 889.9,343.9 889.9,343.9 891.3,344.4 891.3,344.4 891.3,344.6 891.3,344.6 892.7,344.6 892.7,344.6 892.7,345.8 892.7,345.8 894.1,346.5 894.1,346.5 894.1,345.4 894.1,345.4 895.5,344.6 895.5,344.6 895.5,344.6 895.5,344.6 897.0,344.2 897.0,344.2 897.0,344.4 897.0,344.4 898.4,344.3 898.4,344.3 898.4,344.6 898.4,344.6 899.8,344.1 899.8,345.1 899.8,342.4 899.8,342.4 901.2,345.3 901.2,345.3 901.2,345.8 901.2,345.8 902.6,344.8 902.6,344.8 902.6,343.7 902.6,343.7 904.1,342.6 904.1,342.6 904.1,344.3 904.1,344.3 905.5,345.7 905.5,345.7 905.5,343.8 905.5,343.8 906.9,345.3 906.9,345.3 906.9,343.7 906.9,343.7 908.3,343.6 908.3,343.6 908.3,345.4 908.3,345.4 909.8,345.8 909.8,345.8 909.8,344.7 909.8,344.7 911.2,345.9 911.2,345.9 911.2,344.6 911.2,344.6 912.6,345.2 912.6,345.2 912.6,343.1 912.6,343.8 914.0,342.8 914.0,342.8 914.0,343.8 914.0,343.8 915.4,343.2 915.4,343.2 915.4,346.2 915.4,346.2 916.9,344.6 916.9,344.6 916.9,345.7 916.9,345.7 918.3,344.2 918.3,345.4 918.3,343.0 918.3,343.0 919.7,345.2 919.7,345.2 919.7,344.2 919.7,344.2 921.1,345.3 921.1,345.3 921.1,344.8 921.1,344.8 922.5,341.8 922.5,341.8 922.5,346.5 922.5,346.5 924.0,343.3 924.0,343.3 924.0,342.5 924.0,342.5 925.4,344.0 925.4,344.0 925.4,342.9 925.4,342.9 926.8,343.5 926.8,343.5 926.8,344.5 926.8,344.5 928.2,343.8 928.2,343.8 928.2,343.7 928.2,343.7 929.6,344.1 929.6,344.1 929.6,342.3 929.6,342.3 931.0,344.7 931.0,346.1 931.0,342.8 931.0,342.8 932.5,344.8 932.5,344.8 932.5,344.8 932.5,344.8 933.9,345.4 933.9,345.4 933.9,342.8 933.9,342.8 935.3,345.6 935.3,345.6 935.3,345.0 935.3,345.0 936.7,342.4 936.7,342.4 936.7,344.2 936.7,344.2 938.1,344.4 938.1,344.4 938.1,344.0 938.1,344.0 939.6,342.8 939.6,342.8 939.6,346.0 939.6,346.0 941.0,343.0 941.0,343.0 941.0,342.3 941.0,342.3 942.4,345.0 942.4,345.3 942.4,344.0 942.4,344.0 943.8,345.3 943.8,345.3 943.8,344.9 943.8,344.9 945.2,348.7 945.2,348.7 945.2,345.6 945.2,345.6 946.7,344.3 946.7,344.9 946.7,343.4 946.7,343.4 948.1,345.2 948.1,345.2 948.1,344.0 948.1,344.0 949.5,345.7 949.5,345.7 949.5,343.0 949.5,343.0 950.9,345.6 950.9,345.6 950.9,344.9 950.9,344.9 952.4,345.3 952.4,345.3 952.4,346.0 952.4,346.0 953.8,343.6 953.8,343.6 953.8,343.8 953.8,343.8 955.2,344.6 955.2,344.6 955.2,342.5 955.2,342.5 956.6,344.8 956.6,344.8 956.6,345.5 956.6,345.5 958.0,343.9 958.0,343.9 958.0,345.5 958.0,345.5 959.5,344.9 959.5,344.9 959.5,345.2 959.5,345.2 960.9,344.2 960.9,344.2 960.9,345.7 960.9,345.7 962.3,346.2 962.3,346.2 962.3,346.1 962.3,346.1 963.7,344.0 963.7,344.0 963.7,345.2 963.7,345.2 965.1,345.8 965.1,345.8 965.1,344.4 965.1,344.4 966.5,345.0 966.5,345.0 966.5,342.7 966.5,342.7 968.0,344.2 968.0,344.2 968.0,345.3 968.0,345.1 969.4,346.5 969.4,346.5 969.4,343.4 969.4,343.4 970.8,343.6 970.8,343.6 970.8,343.1 970.8,343.1 972.2,345.7 972.2,345.7 972.2,344.0 972.2,344.0 973.6,343.8 973.6,343.8 973.6,344.6 973.6,344.6 975.1,344.6 975.1,344.6 975.1,345.2 975.1,345.2 976.5,343.1 976.5,343.1 976.5,346.2 976.5,346.2 977.9,344.5 977.9,344.5 977.9,342.3 977.9,342.3 979.3,343.6 979.3,343.6 979.3,345.1 979.3,345.1 980.8,345.0 980.8,345.0 980.8,343.8 980.8,344.1 982.2,344.9 982.2,344.9 982.2,342.3 982.2,342.3 983.6,345.3 983.6,345.3 983.6,346.3 983.6,346.3 985.0,344.3 985.0,344.3 985.0,344.8 985.0,344.8 986.4,345.8 986.4,345.8 986.4,344.1 986.4,345.2 987.9,344.7 987.9,344.7 987.9,345.2 987.9,345.2 989.3,344.3 989.3,344.3 989.3,345.4 989.3,345.4 990.7,345.0 990.7,345.0 990.7,344.7 990.7,344.7 992.1,344.1 992.1,344.1 992.1,345.8 992.1,344.6 993.5,345.6 993.5,345.6 993.5,343.2 993.5,343.2 995.0,344.5 995.0,344.5 995.0,344.8 995.0,344.8 996.4,346.4 996.4,346.4 996.4,345.5 996.4,345.5 997.8,344.9 997.8,344.9 997.8,344.1 997.8,344.1 999.2,342.9 999.2,342.9 999.2,345.1 999.2,344.0 1000.6,342.6 1000.6,342.6 1000.6,343.4 1000.6,343.4 1002.0,344.7 1002.0,344.7 1002.0,343.9 1002.0,343.9 1003.5,345.2 1003.5,345.2 1003.5,343.4 1003.5,343.4 1004.9,343.9 1004.9,343.9 1004.9,346.2 1004.9,344.1 1006.3,346.3 1006.3,346.3 1006.3,343.8 1006.3,343.8 1007.7,346.7 1007.7,346.7 1007.7,346.1 1007.7,346.1 1009.1,343.8 1009.1,343.8 1009.1,345.0 1009.1,345.0 1010.6,342.9 1010.6,342.9 1010.6,345.0 1010.6,345.0 1012.0,345.1 1012.0,345.1 1012.0,344.4 1012.0,344.4 1013.4,345.7 1013.4,345.7 1013.4,344.9 1013.4,344.9 1014.8,346.1 1014.8,346.1 1014.8,344.1 1014.8,344.9 1016.2,343.9 1016.2,343.9 1016.2,348.4 1016.2,348.4 1017.7,345.4 1017.7,344.8 1017.7,345.5 1017.7,345.5 1019.1,345.8 1019.1,345.8 1019.1,345.2 1019.1,345.2 1020.5,342.7 1020.5,342.7 1020.5,343.7 1020.5,343.7 1021.9,345.6 1021.9,345.6 1021.9,344.7 1021.9,344.7 1023.4,344.3 1023.4,344.0 1023.4,344.4 1023.4,344.4 1024.8,345.4 1024.8,345.4 1024.8,343.5 1024.8,343.5 1026.2,343.2 1026.2,343.2 1026.2,344.1 1026.2,344.1 1027.6,344.5 1027.6,344.5 1027.6,344.1 1027.6,344.1 1029.0,345.6 1029.0,345.6 1029.0,343.7 1029.0,344.2"/>
</g>
<g stroke-width="4.5">
<line x1="625" y1="175.4" x2="724.3" y2="175.4" stroke="#000"/>
<line x1="625" y1="197.7" x2="724.3" y2="197.7" stroke="#f00"/>
<line x1="625" y1="219.9" x2="724.3" y2="219.9" stroke="#0f0"/>
<line x1="625" y1="244.5" x2="724.3" y2="244.5" stroke="#00f"/>
</g>
<g opacity="0.999" font-family="Liberation Sans, sans-serif" font-weight="bold" font-size="17.5" stroke-width="0.45">
<text x="741.5" y="182.2" fill="#000" stroke="#000" textLength="16.5" lengthAdjust="spacingAndGlyphs">IB</text>
<text x="741.5" y="206.7" fill="#f00" stroke="#f00" textLength="114.5" lengthAdjust="spacingAndGlyphs">PEOZ-IB 0.3:1</text>
<text x="741.5" y="226.6" fill="#0f0" stroke="#0f0" textLength="99.3" lengthAdjust="spacingAndGlyphs">PEOZ-IB 1:1</text>
<text x="741.5" y="251.2" fill="#00f" stroke="#00f" textLength="44.5" lengthAdjust="spacingAndGlyphs">PEOZ</text>
</g>
<g opacity="0.999" font-family="Liberation Sans, sans-serif" font-weight="bold" font-size="24.6" fill="#000">
<text x="81.8" y="745.4" text-anchor="middle" textLength="14.3" lengthAdjust="spacingAndGlyphs">5</text><text x="237.9" y="745.4" text-anchor="middle" textLength="27.7" lengthAdjust="spacingAndGlyphs">10</text><text x="392.7" y="745.4" text-anchor="middle" textLength="27.3" lengthAdjust="spacingAndGlyphs">15</text><text x="551.0" y="745.4" text-anchor="middle" textLength="28.5" lengthAdjust="spacingAndGlyphs">20</text><text x="709.1" y="745.4" text-anchor="middle" textLength="27.8" lengthAdjust="spacingAndGlyphs">25</text><text x="874.1" y="745.4" text-anchor="middle" textLength="28.1" lengthAdjust="spacingAndGlyphs">30</text><text x="1025.8" y="745.4" text-anchor="middle" textLength="27.9" lengthAdjust="spacingAndGlyphs">35</text>
<text x="463" y="794.3" textLength="88.2" lengthAdjust="spacingAndGlyphs">2-Theta</text>
<text x="558" y="794.3" textLength="9" lengthAdjust="spacingAndGlyphs">-</text>
<text x="572.6" y="794.3" textLength="59.5" lengthAdjust="spacingAndGlyphs">Scale</text>
<text transform="translate(26,464.4) rotate(-90)" x="0" y="0" font-size="23.5" textLength="131.4" lengthAdjust="spacingAndGlyphs">Lin (counts)</text>
</g>
</svg>
</body></html>
